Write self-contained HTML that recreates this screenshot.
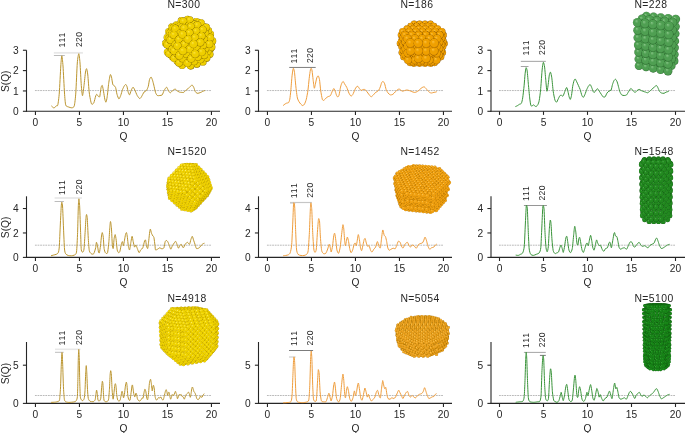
<!DOCTYPE html>
<html><head><meta charset="utf-8"><style>
html,body{margin:0;padding:0;background:#fff;}
body{width:685px;height:433px;overflow:hidden;}
svg{display:block;will-change:transform;}
.tl{font-family:"Liberation Sans",sans-serif;font-size:10.2px;fill:#262626;}
.tt{font-family:"Liberation Sans",sans-serif;font-size:10.4px;fill:#262626;letter-spacing:0.45px;}
.pl{font-family:"Liberation Sans",sans-serif;font-size:8.6px;fill:#2a2a2a;letter-spacing:0.3px;}
</style></head><body>
<svg width="685" height="433" viewBox="0 0 685 433" xmlns="http://www.w3.org/2000/svg">
<defs>
<radialGradient id="gy1" cx="0.5" cy="0.5" r="0.5" fx="0.36" fy="0.32"><stop offset="0" stop-color="#fbe440"/><stop offset="0.4" stop-color="#efcf00"/><stop offset="0.8" stop-color="#efcf00"/><stop offset="0.93" stop-color="#cfb000"/><stop offset="1" stop-color="#8e7400"/></radialGradient>
<radialGradient id="go1" cx="0.5" cy="0.5" r="0.5" fx="0.36" fy="0.32"><stop offset="0" stop-color="#fcbf3c"/><stop offset="0.4" stop-color="#efa000"/><stop offset="0.8" stop-color="#efa000"/><stop offset="0.93" stop-color="#cf8400"/><stop offset="1" stop-color="#8e5800"/></radialGradient>
<radialGradient id="gg1" cx="0.5" cy="0.5" r="0.5" fx="0.36" fy="0.32"><stop offset="0" stop-color="#86c486"/><stop offset="0.4" stop-color="#4f9f52"/><stop offset="0.8" stop-color="#4f9f52"/><stop offset="0.93" stop-color="#3f8a42"/><stop offset="1" stop-color="#27602a"/></radialGradient>
<radialGradient id="gy2" cx="0.5" cy="0.5" r="0.5" fx="0.36" fy="0.32"><stop offset="0" stop-color="#fdf070"/><stop offset="0.4" stop-color="#f0d200"/><stop offset="0.8" stop-color="#f0d200"/><stop offset="0.93" stop-color="#dcbe00"/><stop offset="1" stop-color="#b09200"/></radialGradient>
<radialGradient id="go2" cx="0.5" cy="0.5" r="0.5" fx="0.36" fy="0.32"><stop offset="0" stop-color="#fcc450"/><stop offset="0.4" stop-color="#f0a010"/><stop offset="0.8" stop-color="#f0a010"/><stop offset="0.93" stop-color="#d88a00"/><stop offset="1" stop-color="#a86c00"/></radialGradient>
<radialGradient id="gg2" cx="0.5" cy="0.5" r="0.5" fx="0.36" fy="0.32"><stop offset="0" stop-color="#4aa84a"/><stop offset="0.4" stop-color="#22891f"/><stop offset="0.8" stop-color="#22891f"/><stop offset="0.93" stop-color="#1a781a"/><stop offset="1" stop-color="#125a12"/></radialGradient>
<radialGradient id="gy3" cx="0.5" cy="0.5" r="0.5" fx="0.36" fy="0.32"><stop offset="0" stop-color="#fcec60"/><stop offset="0.4" stop-color="#f0d400"/><stop offset="0.8" stop-color="#f0d400"/><stop offset="0.93" stop-color="#dcbe00"/><stop offset="1" stop-color="#b29400"/></radialGradient>
<radialGradient id="go3" cx="0.5" cy="0.5" r="0.5" fx="0.36" fy="0.32"><stop offset="0" stop-color="#fac450"/><stop offset="0.4" stop-color="#eca220"/><stop offset="0.8" stop-color="#eca220"/><stop offset="0.93" stop-color="#d48a00"/><stop offset="1" stop-color="#a66e00"/></radialGradient>
<radialGradient id="gg3" cx="0.5" cy="0.5" r="0.5" fx="0.36" fy="0.32"><stop offset="0" stop-color="#35a035"/><stop offset="0.4" stop-color="#178517"/><stop offset="0.8" stop-color="#178517"/><stop offset="0.93" stop-color="#127412"/><stop offset="1" stop-color="#0b560b"/></radialGradient>
<style>.y1{fill:url(#gy1);}.o1{fill:url(#go1);}.g1{fill:url(#gg1);}.y2{fill:url(#gy2);}.o2{fill:url(#go2);}.g2{fill:url(#gg2);}.y3{fill:url(#gy3);}.o3{fill:url(#go3);}.g3{fill:url(#gg3);}</style>
</defs>
<rect width="685" height="433" fill="#fff"/>
<line x1="26.5" y1="50.25" x2="26.5" y2="111.75" stroke="#262626" stroke-width="1.1"/>
<line x1="26.00" y1="111.3" x2="220.0" y2="111.3" stroke="#262626" stroke-width="1.1"/>
<line x1="22.90" y1="111.30" x2="26.5" y2="111.30" stroke="#262626" stroke-width="1.1"/>
<text x="18.70" y="114.90" class="tl" text-anchor="end">0</text>
<line x1="22.90" y1="90.95" x2="26.5" y2="90.95" stroke="#262626" stroke-width="1.1"/>
<text x="18.70" y="94.55" class="tl" text-anchor="end">1</text>
<line x1="22.90" y1="70.60" x2="26.5" y2="70.60" stroke="#262626" stroke-width="1.1"/>
<text x="18.70" y="74.20" class="tl" text-anchor="end">2</text>
<line x1="22.90" y1="50.25" x2="26.5" y2="50.25" stroke="#262626" stroke-width="1.1"/>
<text x="18.70" y="53.85" class="tl" text-anchor="end">3</text>
<line x1="35.45" y1="111.3" x2="35.45" y2="114.90" stroke="#262626" stroke-width="1.1"/>
<text x="35.45" y="125.90" class="tl" text-anchor="middle">0</text>
<line x1="79.45" y1="111.3" x2="79.45" y2="114.90" stroke="#262626" stroke-width="1.1"/>
<text x="79.45" y="125.90" class="tl" text-anchor="middle">5</text>
<line x1="123.45" y1="111.3" x2="123.45" y2="114.90" stroke="#262626" stroke-width="1.1"/>
<text x="123.45" y="125.90" class="tl" text-anchor="middle">10</text>
<line x1="167.45" y1="111.3" x2="167.45" y2="114.90" stroke="#262626" stroke-width="1.1"/>
<text x="167.45" y="125.90" class="tl" text-anchor="middle">15</text>
<line x1="211.45" y1="111.3" x2="211.45" y2="114.90" stroke="#262626" stroke-width="1.1"/>
<text x="211.45" y="125.90" class="tl" text-anchor="middle">20</text>
<text x="123.45" y="139.80" class="tl" text-anchor="middle">Q</text>
<text x="8.70" y="81.30" class="tl" text-anchor="middle" transform="rotate(-90 8.70 81.30)">S(Q)</text>
<line x1="34.95" y1="90.55" x2="211.45" y2="90.55" stroke="#bababa" stroke-width="1.0" stroke-dasharray="1.8 0.8"/>
<text x="167.4" y="8.2" class="tt">N=300</text>
<line x1="258.5" y1="50.25" x2="258.5" y2="111.75" stroke="#262626" stroke-width="1.1"/>
<line x1="258.00" y1="111.3" x2="452.0" y2="111.3" stroke="#262626" stroke-width="1.1"/>
<line x1="254.90" y1="111.30" x2="258.5" y2="111.30" stroke="#262626" stroke-width="1.1"/>
<text x="250.70" y="114.90" class="tl" text-anchor="end">0</text>
<line x1="254.90" y1="90.95" x2="258.5" y2="90.95" stroke="#262626" stroke-width="1.1"/>
<text x="250.70" y="94.55" class="tl" text-anchor="end">1</text>
<line x1="254.90" y1="70.60" x2="258.5" y2="70.60" stroke="#262626" stroke-width="1.1"/>
<text x="250.70" y="74.20" class="tl" text-anchor="end">2</text>
<line x1="254.90" y1="50.25" x2="258.5" y2="50.25" stroke="#262626" stroke-width="1.1"/>
<text x="250.70" y="53.85" class="tl" text-anchor="end">3</text>
<line x1="267.45" y1="111.3" x2="267.45" y2="114.90" stroke="#262626" stroke-width="1.1"/>
<text x="267.45" y="125.90" class="tl" text-anchor="middle">0</text>
<line x1="311.45" y1="111.3" x2="311.45" y2="114.90" stroke="#262626" stroke-width="1.1"/>
<text x="311.45" y="125.90" class="tl" text-anchor="middle">5</text>
<line x1="355.45" y1="111.3" x2="355.45" y2="114.90" stroke="#262626" stroke-width="1.1"/>
<text x="355.45" y="125.90" class="tl" text-anchor="middle">10</text>
<line x1="399.45" y1="111.3" x2="399.45" y2="114.90" stroke="#262626" stroke-width="1.1"/>
<text x="399.45" y="125.90" class="tl" text-anchor="middle">15</text>
<line x1="443.45" y1="111.3" x2="443.45" y2="114.90" stroke="#262626" stroke-width="1.1"/>
<text x="443.45" y="125.90" class="tl" text-anchor="middle">20</text>
<text x="355.45" y="139.80" class="tl" text-anchor="middle">Q</text>
<line x1="266.95" y1="90.55" x2="443.45" y2="90.55" stroke="#bababa" stroke-width="1.0" stroke-dasharray="1.8 0.8"/>
<text x="400.4" y="8.2" class="tt">N=186</text>
<line x1="491.0" y1="50.25" x2="491.0" y2="111.75" stroke="#262626" stroke-width="1.1"/>
<line x1="490.50" y1="111.3" x2="685.0" y2="111.3" stroke="#262626" stroke-width="1.1"/>
<line x1="487.40" y1="111.30" x2="491.0" y2="111.30" stroke="#262626" stroke-width="1.1"/>
<text x="483.20" y="114.90" class="tl" text-anchor="end">0</text>
<line x1="487.40" y1="90.95" x2="491.0" y2="90.95" stroke="#262626" stroke-width="1.1"/>
<text x="483.20" y="94.55" class="tl" text-anchor="end">1</text>
<line x1="487.40" y1="70.60" x2="491.0" y2="70.60" stroke="#262626" stroke-width="1.1"/>
<text x="483.20" y="74.20" class="tl" text-anchor="end">2</text>
<line x1="487.40" y1="50.25" x2="491.0" y2="50.25" stroke="#262626" stroke-width="1.1"/>
<text x="483.20" y="53.85" class="tl" text-anchor="end">3</text>
<line x1="499.50" y1="111.3" x2="499.50" y2="114.90" stroke="#262626" stroke-width="1.1"/>
<text x="499.50" y="125.90" class="tl" text-anchor="middle">0</text>
<line x1="543.50" y1="111.3" x2="543.50" y2="114.90" stroke="#262626" stroke-width="1.1"/>
<text x="543.50" y="125.90" class="tl" text-anchor="middle">5</text>
<line x1="587.50" y1="111.3" x2="587.50" y2="114.90" stroke="#262626" stroke-width="1.1"/>
<text x="587.50" y="125.90" class="tl" text-anchor="middle">10</text>
<line x1="631.50" y1="111.3" x2="631.50" y2="114.90" stroke="#262626" stroke-width="1.1"/>
<text x="631.50" y="125.90" class="tl" text-anchor="middle">15</text>
<line x1="675.50" y1="111.3" x2="675.50" y2="114.90" stroke="#262626" stroke-width="1.1"/>
<text x="675.50" y="125.90" class="tl" text-anchor="middle">20</text>
<text x="587.50" y="139.80" class="tl" text-anchor="middle">Q</text>
<line x1="499.00" y1="90.55" x2="675.50" y2="90.55" stroke="#bababa" stroke-width="1.0" stroke-dasharray="1.8 0.8"/>
<text x="634.4" y="8.2" class="tt">N=228</text>
<line x1="26.5" y1="196.30" x2="26.5" y2="257.85" stroke="#262626" stroke-width="1.1"/>
<line x1="26.00" y1="257.4" x2="220.0" y2="257.4" stroke="#262626" stroke-width="1.1"/>
<line x1="22.90" y1="257.40" x2="26.5" y2="257.40" stroke="#262626" stroke-width="1.1"/>
<text x="18.70" y="261.00" class="tl" text-anchor="end">0</text>
<line x1="22.90" y1="232.96" x2="26.5" y2="232.96" stroke="#262626" stroke-width="1.1"/>
<text x="18.70" y="236.56" class="tl" text-anchor="end">2</text>
<line x1="22.90" y1="208.52" x2="26.5" y2="208.52" stroke="#262626" stroke-width="1.1"/>
<text x="18.70" y="212.12" class="tl" text-anchor="end">4</text>
<line x1="35.45" y1="257.4" x2="35.45" y2="261.00" stroke="#262626" stroke-width="1.1"/>
<text x="35.45" y="272.00" class="tl" text-anchor="middle">0</text>
<line x1="79.45" y1="257.4" x2="79.45" y2="261.00" stroke="#262626" stroke-width="1.1"/>
<text x="79.45" y="272.00" class="tl" text-anchor="middle">5</text>
<line x1="123.45" y1="257.4" x2="123.45" y2="261.00" stroke="#262626" stroke-width="1.1"/>
<text x="123.45" y="272.00" class="tl" text-anchor="middle">10</text>
<line x1="167.45" y1="257.4" x2="167.45" y2="261.00" stroke="#262626" stroke-width="1.1"/>
<text x="167.45" y="272.00" class="tl" text-anchor="middle">15</text>
<line x1="211.45" y1="257.4" x2="211.45" y2="261.00" stroke="#262626" stroke-width="1.1"/>
<text x="211.45" y="272.00" class="tl" text-anchor="middle">20</text>
<text x="123.45" y="285.90" class="tl" text-anchor="middle">Q</text>
<text x="8.70" y="227.40" class="tl" text-anchor="middle" transform="rotate(-90 8.70 227.40)">S(Q)</text>
<line x1="34.95" y1="245.20" x2="211.45" y2="245.20" stroke="#bababa" stroke-width="1.0" stroke-dasharray="1.8 0.8"/>
<text x="167.4" y="154.8" class="tt">N=1520</text>
<line x1="258.5" y1="196.30" x2="258.5" y2="257.85" stroke="#262626" stroke-width="1.1"/>
<line x1="258.00" y1="257.4" x2="452.0" y2="257.4" stroke="#262626" stroke-width="1.1"/>
<line x1="254.90" y1="257.40" x2="258.5" y2="257.40" stroke="#262626" stroke-width="1.1"/>
<text x="250.70" y="261.00" class="tl" text-anchor="end">0</text>
<line x1="254.90" y1="232.96" x2="258.5" y2="232.96" stroke="#262626" stroke-width="1.1"/>
<text x="250.70" y="236.56" class="tl" text-anchor="end">2</text>
<line x1="254.90" y1="208.52" x2="258.5" y2="208.52" stroke="#262626" stroke-width="1.1"/>
<text x="250.70" y="212.12" class="tl" text-anchor="end">4</text>
<line x1="267.45" y1="257.4" x2="267.45" y2="261.00" stroke="#262626" stroke-width="1.1"/>
<text x="267.45" y="272.00" class="tl" text-anchor="middle">0</text>
<line x1="311.45" y1="257.4" x2="311.45" y2="261.00" stroke="#262626" stroke-width="1.1"/>
<text x="311.45" y="272.00" class="tl" text-anchor="middle">5</text>
<line x1="355.45" y1="257.4" x2="355.45" y2="261.00" stroke="#262626" stroke-width="1.1"/>
<text x="355.45" y="272.00" class="tl" text-anchor="middle">10</text>
<line x1="399.45" y1="257.4" x2="399.45" y2="261.00" stroke="#262626" stroke-width="1.1"/>
<text x="399.45" y="272.00" class="tl" text-anchor="middle">15</text>
<line x1="443.45" y1="257.4" x2="443.45" y2="261.00" stroke="#262626" stroke-width="1.1"/>
<text x="443.45" y="272.00" class="tl" text-anchor="middle">20</text>
<text x="355.45" y="285.90" class="tl" text-anchor="middle">Q</text>
<line x1="266.95" y1="245.20" x2="443.45" y2="245.20" stroke="#bababa" stroke-width="1.0" stroke-dasharray="1.8 0.8"/>
<text x="400.4" y="154.8" class="tt">N=1452</text>
<line x1="491.0" y1="196.30" x2="491.0" y2="257.85" stroke="#262626" stroke-width="1.1"/>
<line x1="490.50" y1="257.4" x2="685.0" y2="257.4" stroke="#262626" stroke-width="1.1"/>
<line x1="487.40" y1="257.40" x2="491.0" y2="257.40" stroke="#262626" stroke-width="1.1"/>
<text x="483.20" y="261.00" class="tl" text-anchor="end">0</text>
<line x1="487.40" y1="232.96" x2="491.0" y2="232.96" stroke="#262626" stroke-width="1.1"/>
<text x="483.20" y="236.56" class="tl" text-anchor="end">2</text>
<line x1="487.40" y1="208.52" x2="491.0" y2="208.52" stroke="#262626" stroke-width="1.1"/>
<text x="483.20" y="212.12" class="tl" text-anchor="end">4</text>
<line x1="499.50" y1="257.4" x2="499.50" y2="261.00" stroke="#262626" stroke-width="1.1"/>
<text x="499.50" y="272.00" class="tl" text-anchor="middle">0</text>
<line x1="543.50" y1="257.4" x2="543.50" y2="261.00" stroke="#262626" stroke-width="1.1"/>
<text x="543.50" y="272.00" class="tl" text-anchor="middle">5</text>
<line x1="587.50" y1="257.4" x2="587.50" y2="261.00" stroke="#262626" stroke-width="1.1"/>
<text x="587.50" y="272.00" class="tl" text-anchor="middle">10</text>
<line x1="631.50" y1="257.4" x2="631.50" y2="261.00" stroke="#262626" stroke-width="1.1"/>
<text x="631.50" y="272.00" class="tl" text-anchor="middle">15</text>
<line x1="675.50" y1="257.4" x2="675.50" y2="261.00" stroke="#262626" stroke-width="1.1"/>
<text x="675.50" y="272.00" class="tl" text-anchor="middle">20</text>
<text x="587.50" y="285.90" class="tl" text-anchor="middle">Q</text>
<line x1="499.00" y1="245.20" x2="675.50" y2="245.20" stroke="#bababa" stroke-width="1.0" stroke-dasharray="1.8 0.8"/>
<text x="634.4" y="154.8" class="tt">N=1548</text>
<line x1="26.5" y1="341.97" x2="26.5" y2="403.85" stroke="#262626" stroke-width="1.1"/>
<line x1="26.00" y1="403.4" x2="220.0" y2="403.4" stroke="#262626" stroke-width="1.1"/>
<line x1="22.90" y1="403.40" x2="26.5" y2="403.40" stroke="#262626" stroke-width="1.1"/>
<text x="18.70" y="407.00" class="tl" text-anchor="end">0</text>
<line x1="22.90" y1="365.20" x2="26.5" y2="365.20" stroke="#262626" stroke-width="1.1"/>
<text x="18.70" y="368.80" class="tl" text-anchor="end">5</text>
<line x1="35.45" y1="403.4" x2="35.45" y2="407.00" stroke="#262626" stroke-width="1.1"/>
<text x="35.45" y="418.00" class="tl" text-anchor="middle">0</text>
<line x1="79.45" y1="403.4" x2="79.45" y2="407.00" stroke="#262626" stroke-width="1.1"/>
<text x="79.45" y="418.00" class="tl" text-anchor="middle">5</text>
<line x1="123.45" y1="403.4" x2="123.45" y2="407.00" stroke="#262626" stroke-width="1.1"/>
<text x="123.45" y="418.00" class="tl" text-anchor="middle">10</text>
<line x1="167.45" y1="403.4" x2="167.45" y2="407.00" stroke="#262626" stroke-width="1.1"/>
<text x="167.45" y="418.00" class="tl" text-anchor="middle">15</text>
<line x1="211.45" y1="403.4" x2="211.45" y2="407.00" stroke="#262626" stroke-width="1.1"/>
<text x="211.45" y="418.00" class="tl" text-anchor="middle">20</text>
<text x="123.45" y="431.90" class="tl" text-anchor="middle">Q</text>
<text x="8.70" y="373.60" class="tl" text-anchor="middle" transform="rotate(-90 8.70 373.60)">S(Q)</text>
<line x1="34.95" y1="395.50" x2="211.45" y2="395.50" stroke="#bababa" stroke-width="1.0" stroke-dasharray="1.8 0.8"/>
<text x="167.4" y="301.5" class="tt">N=4918</text>
<line x1="258.5" y1="341.97" x2="258.5" y2="403.85" stroke="#262626" stroke-width="1.1"/>
<line x1="258.00" y1="403.4" x2="452.0" y2="403.4" stroke="#262626" stroke-width="1.1"/>
<line x1="254.90" y1="403.40" x2="258.5" y2="403.40" stroke="#262626" stroke-width="1.1"/>
<text x="250.70" y="407.00" class="tl" text-anchor="end">0</text>
<line x1="254.90" y1="365.20" x2="258.5" y2="365.20" stroke="#262626" stroke-width="1.1"/>
<text x="250.70" y="368.80" class="tl" text-anchor="end">5</text>
<line x1="267.45" y1="403.4" x2="267.45" y2="407.00" stroke="#262626" stroke-width="1.1"/>
<text x="267.45" y="418.00" class="tl" text-anchor="middle">0</text>
<line x1="311.45" y1="403.4" x2="311.45" y2="407.00" stroke="#262626" stroke-width="1.1"/>
<text x="311.45" y="418.00" class="tl" text-anchor="middle">5</text>
<line x1="355.45" y1="403.4" x2="355.45" y2="407.00" stroke="#262626" stroke-width="1.1"/>
<text x="355.45" y="418.00" class="tl" text-anchor="middle">10</text>
<line x1="399.45" y1="403.4" x2="399.45" y2="407.00" stroke="#262626" stroke-width="1.1"/>
<text x="399.45" y="418.00" class="tl" text-anchor="middle">15</text>
<line x1="443.45" y1="403.4" x2="443.45" y2="407.00" stroke="#262626" stroke-width="1.1"/>
<text x="443.45" y="418.00" class="tl" text-anchor="middle">20</text>
<text x="355.45" y="431.90" class="tl" text-anchor="middle">Q</text>
<line x1="266.95" y1="395.50" x2="443.45" y2="395.50" stroke="#bababa" stroke-width="1.0" stroke-dasharray="1.8 0.8"/>
<text x="400.4" y="301.5" class="tt">N=5054</text>
<line x1="491.0" y1="341.97" x2="491.0" y2="403.85" stroke="#262626" stroke-width="1.1"/>
<line x1="490.50" y1="403.4" x2="685.0" y2="403.4" stroke="#262626" stroke-width="1.1"/>
<line x1="487.40" y1="403.40" x2="491.0" y2="403.40" stroke="#262626" stroke-width="1.1"/>
<text x="483.20" y="407.00" class="tl" text-anchor="end">0</text>
<line x1="487.40" y1="365.20" x2="491.0" y2="365.20" stroke="#262626" stroke-width="1.1"/>
<text x="483.20" y="368.80" class="tl" text-anchor="end">5</text>
<line x1="499.50" y1="403.4" x2="499.50" y2="407.00" stroke="#262626" stroke-width="1.1"/>
<text x="499.50" y="418.00" class="tl" text-anchor="middle">0</text>
<line x1="543.50" y1="403.4" x2="543.50" y2="407.00" stroke="#262626" stroke-width="1.1"/>
<text x="543.50" y="418.00" class="tl" text-anchor="middle">5</text>
<line x1="587.50" y1="403.4" x2="587.50" y2="407.00" stroke="#262626" stroke-width="1.1"/>
<text x="587.50" y="418.00" class="tl" text-anchor="middle">10</text>
<line x1="631.50" y1="403.4" x2="631.50" y2="407.00" stroke="#262626" stroke-width="1.1"/>
<text x="631.50" y="418.00" class="tl" text-anchor="middle">15</text>
<line x1="675.50" y1="403.4" x2="675.50" y2="407.00" stroke="#262626" stroke-width="1.1"/>
<text x="675.50" y="418.00" class="tl" text-anchor="middle">20</text>
<text x="587.50" y="431.90" class="tl" text-anchor="middle">Q</text>
<line x1="499.00" y1="395.50" x2="675.50" y2="395.50" stroke="#bababa" stroke-width="1.0" stroke-dasharray="1.8 0.8"/>
<text x="634.4" y="301.5" class="tt">N=5100</text>
<line x1="53.8" y1="52.85" x2="82.9" y2="52.85" stroke="#e8e8e8" stroke-width="1.8"/>
<line x1="53.9" y1="55.5" x2="64.8" y2="55.5" stroke="#bcbcbc" stroke-width="1.0"/>
<line x1="289.2" y1="67.45" x2="315.7" y2="67.45" stroke="#868686" stroke-width="1.05"/>
<line x1="520.8" y1="61.4" x2="545.8" y2="61.4" stroke="#b0b0b0" stroke-width="1.15"/>
<line x1="520.8" y1="66.5" x2="528.5" y2="66.5" stroke="#a4a4a4" stroke-width="1.0"/>
<line x1="54.6" y1="198.0" x2="81.9" y2="198.0" stroke="#e8e8e8" stroke-width="1.7"/>
<line x1="54.6" y1="201.5" x2="63.9" y2="201.5" stroke="#bcbcbc" stroke-width="1.0"/>
<line x1="290.0" y1="202.5" x2="311.8" y2="202.5" stroke="#c6c6c6" stroke-width="1.2"/>
<line x1="290.0" y1="203.2" x2="295.5" y2="203.2" stroke="#d2d2d2" stroke-width="1.0"/>
<line x1="523.9" y1="205.5" x2="546.9" y2="205.5" stroke="#969696" stroke-width="1.05"/>
<line x1="55.0" y1="349.3" x2="80.5" y2="349.3" stroke="#e8e8e8" stroke-width="1.6"/>
<line x1="55.0" y1="352.3" x2="63.7" y2="352.3" stroke="#bcbcbc" stroke-width="1.0"/>
<line x1="289.0" y1="350.5" x2="313.1" y2="350.5" stroke="#7c7c7c" stroke-width="1.05"/>
<line x1="289.0" y1="357.0" x2="295.6" y2="357.0" stroke="#d8d8d8" stroke-width="1.5"/>
<line x1="523.9" y1="352.4" x2="545.8" y2="352.4" stroke="#a8a8a8" stroke-width="1.05"/>
<line x1="539.9" y1="355.4" x2="545.8" y2="355.4" stroke="#7c7c7c" stroke-width="1.05"/>
<text x="65.10" y="47.60" class="pl" style="letter-spacing:0.95px" transform="rotate(-90 65.10 47.60)">111</text>
<text x="81.90" y="47.00" class="pl" transform="rotate(-90 81.90 47.00)">220</text>
<text x="297.10" y="63.60" class="pl" style="letter-spacing:0.95px" transform="rotate(-90 297.10 63.60)">111</text>
<text x="313.20" y="63.00" class="pl" transform="rotate(-90 313.20 63.00)">220</text>
<text x="528.80" y="55.50" class="pl" style="letter-spacing:0.95px" transform="rotate(-90 528.80 55.50)">111</text>
<text x="544.80" y="54.90" class="pl" transform="rotate(-90 544.80 54.90)">220</text>
<text x="65.50" y="195.10" class="pl" style="letter-spacing:0.95px" transform="rotate(-90 65.50 195.10)">111</text>
<text x="81.70" y="194.50" class="pl" transform="rotate(-90 81.70 194.50)">220</text>
<text x="296.80" y="198.30" class="pl" style="letter-spacing:0.95px" transform="rotate(-90 296.80 198.30)">111</text>
<text x="312.60" y="197.70" class="pl" transform="rotate(-90 312.60 197.70)">220</text>
<text x="528.80" y="201.10" class="pl" style="letter-spacing:0.95px" transform="rotate(-90 528.80 201.10)">111</text>
<text x="544.80" y="200.50" class="pl" transform="rotate(-90 544.80 200.50)">220</text>
<text x="65.40" y="345.60" class="pl" style="letter-spacing:0.95px" transform="rotate(-90 65.40 345.60)">111</text>
<text x="81.80" y="345.00" class="pl" transform="rotate(-90 81.80 345.00)">220</text>
<text x="296.80" y="346.00" class="pl" style="letter-spacing:0.95px" transform="rotate(-90 296.80 346.00)">111</text>
<text x="312.80" y="345.40" class="pl" transform="rotate(-90 312.80 345.40)">220</text>
<text x="528.80" y="347.90" class="pl" style="letter-spacing:0.95px" transform="rotate(-90 528.80 347.90)">111</text>
<text x="544.80" y="347.30" class="pl" transform="rotate(-90 544.80 347.30)">220</text>
<path d="M51.30,105.80 C51.61,106.06 53.42,108.00 54.00,108.00 C54.58,108.00 55.86,106.15 56.30,105.80 C56.74,105.45 57.45,106.49 57.80,105.00 C58.15,103.51 58.95,97.55 59.30,93.00 C59.65,88.45 60.51,70.34 60.80,66.00 C61.09,61.66 61.54,55.80 61.80,55.80 C62.06,55.80 62.69,61.66 63.00,66.00 C63.31,70.34 64.19,88.45 64.50,93.00 C64.81,97.55 65.26,103.38 65.70,105.00 C66.14,106.62 67.56,106.57 68.30,106.90 C69.03,107.23 71.30,107.93 72.00,107.80 C72.70,107.67 73.86,107.53 74.30,105.80 C74.74,104.07 75.45,97.99 75.80,93.00 C76.15,88.01 76.95,67.58 77.30,63.00 C77.65,58.41 78.48,53.70 78.80,53.70 C79.11,53.70 79.71,59.29 80.00,63.00 C80.29,66.71 81.01,81.69 81.30,85.50 C81.59,89.31 82.19,95.70 82.50,95.70 C82.81,95.70 83.65,88.27 84.00,85.50 C84.35,82.73 85.20,73.96 85.50,72.00 C85.80,70.04 86.33,68.35 86.60,68.70 C86.87,69.05 87.48,72.17 87.80,75.00 C88.11,77.83 88.87,89.63 89.30,93.00 C89.73,96.37 90.97,102.76 91.50,103.90 C92.03,105.04 93.31,103.72 93.80,102.80 C94.29,101.88 95.35,96.99 95.70,96.00 C96.05,95.01 96.52,94.29 96.80,94.30 C97.08,94.31 97.76,95.82 98.10,96.10 C98.44,96.38 99.35,97.70 99.70,96.70 C100.05,95.70 100.80,88.81 101.10,87.50 C101.40,86.19 102.01,85.00 102.30,85.50 C102.59,86.00 103.31,90.20 103.60,91.80 C103.89,93.40 104.52,97.99 104.80,99.20 C105.08,100.41 105.72,102.49 106.00,102.20 C106.28,101.91 106.89,98.91 107.20,96.70 C107.52,94.50 108.34,85.87 108.70,83.30 C109.06,80.73 109.97,75.42 110.30,74.70 C110.63,73.98 111.21,75.96 111.50,77.10 C111.79,78.24 112.51,83.52 112.80,84.50 C113.09,85.48 113.67,85.15 114.00,85.50 C114.33,85.85 115.25,86.47 115.60,87.50 C115.95,88.53 116.61,92.97 117.00,94.30 C117.39,95.63 118.47,98.76 118.90,98.90 C119.33,99.04 120.27,96.61 120.70,95.50 C121.13,94.39 122.17,90.54 122.60,89.40 C123.03,88.26 124.02,86.27 124.40,85.70 C124.79,85.13 125.59,84.36 125.90,84.50 C126.22,84.64 126.84,86.05 127.10,86.90 C127.36,87.75 127.82,90.87 128.10,91.80 C128.38,92.73 129.15,95.04 129.50,94.90 C129.85,94.76 130.69,91.50 131.10,90.60 C131.51,89.70 132.57,87.27 133.00,87.20 C133.43,87.13 134.31,89.03 134.80,90.00 C135.29,90.97 136.63,94.50 137.20,95.50 C137.77,96.50 139.20,98.46 139.70,98.60 C140.20,98.74 141.00,97.46 141.50,96.70 C142.00,95.94 143.43,92.81 144.00,92.10 C144.57,91.39 145.90,91.28 146.40,90.60 C146.90,89.92 147.94,87.58 148.30,86.30 C148.66,85.02 149.17,80.67 149.50,79.60 C149.83,78.53 150.75,77.03 151.10,77.10 C151.45,77.17 152.19,79.27 152.50,80.20 C152.81,81.13 153.45,83.68 153.80,85.10 C154.15,86.52 155.09,91.19 155.50,92.40 C155.91,93.61 156.80,95.14 157.30,95.50 C157.80,95.86 159.23,95.57 159.80,95.50 C160.37,95.43 161.70,95.47 162.20,94.90 C162.70,94.33 163.60,91.50 164.10,90.60 C164.60,89.70 166.00,87.20 166.50,87.20 C167.00,87.20 167.97,89.95 168.40,90.60 C168.83,91.25 169.71,92.80 170.20,92.80 C170.69,92.80 172.03,91.03 172.60,90.60 C173.17,90.17 174.60,89.10 175.10,89.10 C175.60,89.10 176.40,90.25 176.90,90.60 C177.40,90.95 178.83,91.89 179.40,92.10 C179.97,92.31 181.30,92.37 181.80,92.40 C182.30,92.44 183.27,92.61 183.70,92.40 C184.13,92.19 185.01,91.02 185.50,90.60 C185.99,90.18 187.33,89.30 187.90,88.80 C188.47,88.30 189.90,86.73 190.40,86.30 C190.90,85.87 191.80,84.96 192.20,85.10 C192.60,85.24 193.44,86.74 193.80,87.50 C194.16,88.26 194.92,90.92 195.30,91.60 C195.69,92.28 196.67,93.14 197.10,93.30 C197.53,93.46 198.50,93.14 199.00,93.00 C199.50,92.86 200.83,92.36 201.40,92.10 C201.97,91.84 203.47,90.97 203.90,90.80 C204.33,90.62 204.96,90.62 205.10,90.60" fill="none" stroke="#bb952f" stroke-width="1.0" stroke-linejoin="round"/>
<path d="M283.10,105.60 C283.31,105.42 284.48,104.39 284.90,104.10 C285.32,103.81 286.27,103.27 286.70,103.10 C287.13,102.92 288.24,103.05 288.60,102.60 C288.96,102.14 289.54,100.60 289.80,99.20 C290.06,97.80 290.56,93.17 290.80,90.60 C291.05,88.03 291.65,79.63 291.90,77.20 C292.14,74.77 292.71,70.84 292.90,69.80 C293.09,68.76 293.31,68.01 293.50,68.30 C293.69,68.59 294.29,70.84 294.50,72.30 C294.71,73.76 295.09,78.66 295.30,80.80 C295.51,82.94 296.06,88.59 296.30,90.60 C296.55,92.61 297.08,96.70 297.40,98.00 C297.71,99.30 298.60,100.99 299.00,101.70 C299.40,102.41 300.37,103.64 300.80,104.10 C301.23,104.55 302.27,105.60 302.70,105.60 C303.13,105.60 304.08,104.85 304.50,104.10 C304.92,103.35 305.90,100.78 306.30,99.20 C306.70,97.62 307.56,93.03 307.90,90.60 C308.24,88.17 308.91,80.83 309.20,78.40 C309.49,75.97 310.15,70.98 310.40,69.80 C310.64,68.62 311.10,68.16 311.30,68.30 C311.50,68.44 311.89,69.68 312.10,71.00 C312.31,72.32 312.84,77.59 313.10,79.60 C313.36,81.61 314.04,87.63 314.30,88.20 C314.56,88.77 315.01,85.71 315.30,84.50 C315.59,83.29 316.46,78.80 316.80,77.80 C317.14,76.80 317.88,75.69 318.20,75.90 C318.51,76.11 319.21,77.88 319.50,79.60 C319.79,81.31 320.37,88.31 320.70,90.60 C321.03,92.89 321.97,98.06 322.30,99.20 C322.63,100.34 323.15,100.42 323.50,100.40 C323.85,100.38 324.92,99.36 325.30,99.00 C325.69,98.64 326.40,97.60 326.80,97.30 C327.20,97.00 328.27,96.61 328.70,96.40 C329.13,96.19 330.08,96.11 330.50,95.50 C330.92,94.89 331.90,92.02 332.30,91.20 C332.70,90.38 333.54,88.43 333.90,88.50 C334.26,88.57 335.08,90.98 335.40,91.80 C335.71,92.62 336.31,94.89 336.60,95.50 C336.89,96.11 337.61,97.07 337.90,97.00 C338.19,96.93 338.82,95.93 339.10,94.90 C339.38,93.87 340.02,89.48 340.30,88.20 C340.58,86.92 341.17,84.69 341.50,83.90 C341.83,83.11 342.74,81.40 343.10,81.40 C343.46,81.40 344.17,83.19 344.60,83.90 C345.03,84.61 346.30,86.44 346.80,87.50 C347.30,88.56 348.41,92.00 348.90,93.00 C349.39,94.00 350.53,95.95 351.00,96.10 C351.47,96.25 352.43,95.08 352.90,94.30 C353.37,93.52 354.62,90.23 355.00,89.40 C355.38,88.57 355.87,87.56 356.20,87.20 C356.53,86.84 357.44,86.16 357.80,86.30 C358.16,86.44 358.92,87.92 359.30,88.40 C359.69,88.88 360.67,90.26 361.10,90.40 C361.53,90.54 362.62,89.72 363.00,89.60 C363.38,89.48 364.05,89.28 364.40,89.40 C364.75,89.52 365.59,90.18 366.00,90.60 C366.41,91.02 367.47,92.43 367.90,93.00 C368.33,93.57 369.30,95.07 369.70,95.50 C370.10,95.93 370.87,96.77 371.30,96.70 C371.73,96.63 372.94,95.36 373.40,94.90 C373.85,94.45 374.78,93.19 375.20,92.80 C375.62,92.41 376.57,91.93 377.00,91.60 C377.43,91.27 378.51,90.55 378.90,90.00 C379.28,89.45 379.97,87.76 380.30,86.90 C380.63,86.04 381.37,83.24 381.70,82.60 C382.03,81.96 382.75,81.25 383.10,81.40 C383.45,81.55 384.35,82.97 384.70,83.90 C385.05,84.83 385.72,88.34 386.10,89.40 C386.49,90.46 387.50,92.36 388.00,93.00 C388.50,93.64 389.83,94.75 390.40,94.90 C390.97,95.05 392.33,94.66 392.90,94.30 C393.47,93.94 394.74,92.35 395.30,91.80 C395.86,91.25 397.23,89.91 397.70,89.60 C398.17,89.28 398.90,89.01 399.30,89.10 C399.70,89.19 400.72,90.16 401.10,90.40 C401.49,90.65 402.20,91.18 402.60,91.20 C403.00,91.22 404.00,90.74 404.50,90.60 C405.00,90.46 406.33,90.00 406.90,90.00 C407.47,90.00 408.83,90.41 409.40,90.60 C409.97,90.79 411.23,91.39 411.80,91.60 C412.37,91.81 413.80,92.34 414.30,92.40 C414.80,92.46 415.60,92.31 416.10,92.10 C416.60,91.89 418.03,91.03 418.60,90.60 C419.17,90.17 420.51,88.80 421.00,88.40 C421.49,88.00 422.42,87.38 422.80,87.20 C423.19,87.03 423.94,86.76 424.30,86.90 C424.66,87.04 425.50,87.97 425.90,88.40 C426.30,88.83 427.27,90.13 427.70,90.60 C428.13,91.07 429.17,92.12 429.60,92.40 C430.03,92.68 430.90,93.00 431.40,93.00 C431.90,93.00 433.40,92.51 433.90,92.40 C434.40,92.30 435.35,92.19 435.70,92.10 C436.05,92.01 436.76,91.66 436.90,91.60" fill="none" stroke="#ef9d3c" stroke-width="1.0" stroke-linejoin="round"/>
<path d="M515.40,106.60 C515.63,106.49 516.93,105.97 517.40,105.70 C517.87,105.43 518.93,104.58 519.40,104.30 C519.87,104.02 521.01,104.05 521.40,103.30 C521.78,102.55 522.38,99.94 522.70,97.90 C523.02,95.86 523.82,88.61 524.10,85.80 C524.38,82.99 524.87,75.91 525.10,73.80 C525.33,71.69 525.86,68.02 526.10,67.70 C526.35,67.39 526.93,69.14 527.20,71.10 C527.47,73.06 528.11,81.37 528.40,84.50 C528.69,87.63 529.42,95.47 529.70,97.90 C529.98,100.33 530.52,104.37 530.80,105.30 C531.08,106.23 531.78,105.95 532.10,105.90 C532.42,105.85 533.19,104.90 533.50,104.90 C533.81,104.90 534.50,105.70 534.80,105.90 C535.10,106.10 535.74,106.75 536.10,106.60 C536.46,106.45 537.54,105.30 537.90,104.60 C538.26,103.90 538.88,102.31 539.20,100.60 C539.52,98.88 540.29,93.19 540.60,89.90 C540.91,86.61 541.64,75.38 541.90,72.40 C542.16,69.43 542.61,65.57 542.80,64.40 C542.99,63.23 543.29,62.09 543.50,62.40 C543.71,62.71 544.34,65.15 544.60,67.10 C544.86,69.05 545.43,76.29 545.70,79.10 C545.97,81.91 546.61,90.57 546.90,91.20 C547.19,91.83 547.92,86.38 548.20,84.50 C548.48,82.62 549.03,76.53 549.30,75.10 C549.57,73.66 550.21,71.89 550.50,72.20 C550.79,72.52 551.48,75.58 551.80,77.80 C552.12,80.02 552.84,88.62 553.20,91.20 C553.56,93.78 554.50,98.62 554.90,99.90 C555.30,101.18 556.23,102.28 556.60,102.20 C556.97,102.12 557.72,99.96 558.10,99.20 C558.49,98.44 559.51,96.16 559.90,95.70 C560.28,95.25 561.04,95.25 561.40,95.30 C561.76,95.35 562.60,96.53 563.00,96.10 C563.40,95.67 564.38,92.60 564.80,91.60 C565.22,90.60 566.24,87.55 566.60,87.50 C566.96,87.45 567.61,90.13 567.90,91.20 C568.19,92.27 568.82,95.74 569.10,96.70 C569.38,97.66 570.02,99.54 570.30,99.40 C570.58,99.26 571.22,97.03 571.50,95.50 C571.78,93.97 572.41,88.02 572.70,86.30 C572.99,84.58 573.71,81.65 574.00,80.80 C574.29,79.95 574.87,78.86 575.20,79.00 C575.53,79.14 576.41,81.22 576.80,82.00 C577.18,82.78 578.12,84.84 578.50,85.70 C578.88,86.56 579.70,88.26 580.10,89.40 C580.50,90.54 581.51,94.58 581.90,95.50 C582.28,96.42 583.04,97.44 583.40,97.30 C583.76,97.16 584.60,95.22 585.00,94.30 C585.40,93.38 586.37,90.40 586.80,89.40 C587.23,88.40 588.29,86.25 588.70,85.70 C589.11,85.15 589.95,84.49 590.30,84.70 C590.65,84.91 591.36,86.70 591.70,87.50 C592.04,88.30 592.89,91.03 593.20,91.60 C593.51,92.17 594.07,92.59 594.40,92.40 C594.73,92.21 595.63,90.42 596.00,90.00 C596.37,89.58 597.22,88.66 597.60,88.80 C597.99,88.94 598.87,90.56 599.30,91.20 C599.73,91.84 600.83,93.62 601.30,94.30 C601.77,94.98 602.84,96.72 603.30,97.00 C603.75,97.28 604.77,97.17 605.20,96.70 C605.63,96.23 606.57,93.64 607.00,93.00 C607.43,92.36 608.42,91.55 608.90,91.20 C609.38,90.85 610.68,90.78 611.10,90.00 C611.52,89.22 612.16,85.60 612.50,84.50 C612.84,83.40 613.64,81.21 614.00,80.60 C614.36,79.99 615.23,79.14 615.60,79.30 C615.97,79.46 616.84,81.04 617.20,82.00 C617.56,82.96 618.39,86.36 618.70,87.50 C619.01,88.64 619.55,90.94 619.90,91.80 C620.25,92.66 621.20,94.47 621.70,94.90 C622.20,95.33 623.63,95.50 624.20,95.50 C624.77,95.50 626.10,95.33 626.60,94.90 C627.10,94.47 628.00,92.56 628.50,91.80 C629.00,91.04 630.36,88.52 630.90,88.40 C631.44,88.28 632.60,90.33 633.10,90.80 C633.60,91.27 634.75,92.42 635.20,92.40 C635.66,92.38 636.53,90.95 637.00,90.60 C637.47,90.25 638.70,89.40 639.20,89.40 C639.70,89.40 640.76,90.34 641.30,90.60 C641.84,90.86 643.30,91.42 643.80,91.60 C644.30,91.77 645.18,91.96 645.60,92.10 C646.02,92.24 646.97,92.86 647.40,92.80 C647.83,92.74 648.80,92.00 649.30,91.60 C649.80,91.20 651.13,89.91 651.70,89.40 C652.27,88.89 653.65,87.66 654.20,87.20 C654.75,86.75 655.98,85.47 656.40,85.50 C656.82,85.53 657.41,86.79 657.80,87.50 C658.18,88.21 659.27,90.96 659.70,91.60 C660.13,92.24 661.00,92.80 661.50,93.00 C662.00,93.20 663.45,93.41 664.00,93.30 C664.55,93.19 665.75,92.30 666.20,92.10 C666.66,91.90 667.59,91.70 667.90,91.60 C668.21,91.49 668.78,91.25 668.90,91.20" fill="none" stroke="#3a943a" stroke-width="1.0" stroke-linejoin="round"/>
<path d="M51.00,255.80 C51.27,255.72 52.68,255.28 53.30,255.10 C53.92,254.92 55.73,254.57 56.30,254.30 C56.87,254.03 57.85,253.68 58.20,252.80 C58.55,251.93 59.05,250.04 59.30,246.80 C59.54,243.56 60.08,229.64 60.30,225.00 C60.52,220.36 61.03,209.66 61.20,207.00 C61.38,204.34 61.64,202.20 61.80,202.20 C61.96,202.20 62.40,203.99 62.60,207.00 C62.80,210.01 63.28,223.10 63.50,228.00 C63.72,232.90 64.24,245.98 64.50,249.00 C64.76,252.02 65.26,253.14 65.70,253.90 C66.14,254.66 67.65,255.28 68.30,255.50 C68.95,255.72 70.60,255.85 71.30,255.80 C72.00,255.75 73.69,255.53 74.30,255.10 C74.91,254.67 76.11,254.74 76.50,252.10 C76.89,249.46 77.39,237.76 77.60,232.50 C77.81,227.24 78.15,210.93 78.30,207.00 C78.45,203.07 78.74,198.80 78.90,198.80 C79.06,198.80 79.50,203.07 79.70,207.00 C79.90,210.93 80.41,227.51 80.60,232.50 C80.79,237.49 81.04,247.51 81.30,249.80 C81.56,252.09 82.48,252.19 82.80,252.10 C83.11,252.01 83.73,251.29 84.00,249.00 C84.27,246.71 84.87,236.18 85.10,232.50 C85.33,228.82 85.83,219.60 86.00,217.50 C86.17,215.40 86.45,214.32 86.60,214.50 C86.75,214.68 87.11,216.38 87.30,219.00 C87.49,221.62 87.97,233.31 88.20,237.00 C88.43,240.69 88.91,248.63 89.30,250.60 C89.69,252.57 90.97,253.55 91.50,253.90 C92.03,254.25 93.31,254.34 93.80,253.60 C94.29,252.86 95.40,248.92 95.70,247.60 C96.00,246.28 96.19,242.52 96.40,242.30 C96.61,242.08 97.25,244.57 97.50,245.70 C97.75,246.83 98.28,251.18 98.50,252.00 C98.72,252.82 99.17,253.44 99.40,252.70 C99.63,251.96 100.25,247.65 100.50,245.70 C100.75,243.75 101.29,237.53 101.50,236.00 C101.71,234.47 102.09,232.44 102.30,232.60 C102.51,232.76 103.09,235.55 103.30,237.40 C103.51,239.25 103.85,246.72 104.10,248.50 C104.34,250.28 105.00,252.19 105.40,252.70 C105.80,253.21 107.09,254.19 107.50,252.90 C107.91,251.61 108.63,244.54 108.90,241.60 C109.17,238.66 109.61,230.04 109.80,227.70 C109.99,225.35 110.31,221.50 110.50,221.50 C110.69,221.50 111.19,225.04 111.40,227.70 C111.61,230.36 112.09,241.87 112.30,244.30 C112.51,246.73 112.99,249.14 113.20,248.50 C113.41,247.86 113.87,240.42 114.10,238.80 C114.33,237.18 114.95,234.44 115.20,234.60 C115.45,234.76 115.97,238.41 116.20,240.20 C116.43,241.98 116.92,248.44 117.20,249.90 C117.48,251.36 118.28,252.54 118.60,252.70 C118.91,252.86 119.59,252.28 119.90,251.30 C120.22,250.32 121.01,245.43 121.30,244.30 C121.59,243.17 122.16,241.44 122.40,241.60 C122.65,241.76 123.16,245.86 123.40,245.70 C123.65,245.54 124.25,241.49 124.50,240.20 C124.75,238.91 125.27,235.49 125.50,234.60 C125.73,233.71 126.28,232.27 126.50,232.60 C126.72,232.93 127.19,235.87 127.40,237.40 C127.61,238.93 128.04,244.24 128.30,245.70 C128.56,247.16 129.28,250.38 129.60,249.90 C129.91,249.42 130.71,243.19 131.00,241.60 C131.29,240.01 131.84,236.30 132.10,236.30 C132.36,236.30 132.92,240.34 133.20,241.60 C133.48,242.86 134.19,246.70 134.50,247.10 C134.81,247.50 135.57,244.84 135.90,245.00 C136.23,245.16 136.93,247.60 137.30,248.50 C137.67,249.40 138.70,252.54 139.10,252.70 C139.50,252.86 140.27,250.47 140.70,249.90 C141.13,249.33 142.34,248.85 142.80,247.80 C143.26,246.75 144.27,241.79 144.60,240.90 C144.93,240.01 145.38,239.64 145.60,240.20 C145.82,240.76 146.25,244.73 146.50,245.70 C146.75,246.67 147.43,249.14 147.70,248.50 C147.97,247.86 148.57,242.14 148.80,240.20 C149.03,238.26 149.51,233.19 149.70,231.90 C149.89,230.61 150.19,228.94 150.40,229.10 C150.61,229.26 151.21,232.50 151.50,233.30 C151.79,234.11 152.62,235.52 152.90,236.00 C153.18,236.48 153.66,236.27 153.90,237.40 C154.15,238.53 154.81,244.24 155.00,245.70 C155.19,247.16 155.20,249.49 155.50,249.90 C155.80,250.31 157.11,249.44 157.60,249.20 C158.09,248.95 159.21,247.85 159.70,247.80 C160.19,247.75 161.31,248.80 161.80,248.80 C162.29,248.80 163.50,248.64 163.90,247.80 C164.30,246.96 164.91,242.45 165.20,241.60 C165.49,240.75 166.11,240.50 166.40,240.50 C166.69,240.50 167.35,240.99 167.70,241.60 C168.05,242.21 169.04,244.81 169.40,245.70 C169.76,246.59 170.45,249.20 170.80,249.20 C171.15,249.20 172.00,246.42 172.40,245.70 C172.80,244.98 173.83,243.51 174.20,243.00 C174.57,242.49 175.27,241.15 175.60,241.30 C175.93,241.45 176.67,243.50 177.00,244.30 C177.33,245.11 178.07,248.04 178.40,248.20 C178.73,248.36 179.47,246.15 179.80,245.70 C180.13,245.25 180.79,244.06 181.20,244.30 C181.61,244.55 182.82,247.82 183.30,247.80 C183.78,247.78 184.82,244.74 185.30,244.10 C185.78,243.46 186.91,242.28 187.40,242.30 C187.89,242.32 189.09,244.63 189.50,244.30 C189.91,243.97 190.57,240.43 190.90,239.50 C191.23,238.57 191.99,236.22 192.30,236.30 C192.62,236.38 193.28,239.27 193.60,240.20 C193.91,241.13 194.67,243.33 195.00,244.30 C195.33,245.27 195.99,248.05 196.40,248.50 C196.81,248.95 198.09,248.36 198.50,248.20 C198.91,248.04 199.55,247.47 199.90,247.10 C200.25,246.73 201.10,245.41 201.50,245.00 C201.90,244.59 202.95,243.81 203.30,243.60 C203.65,243.39 204.36,243.25 204.50,243.20" fill="none" stroke="#bb952f" stroke-width="1.0" stroke-linejoin="round"/>
<path d="M283.00,255.80 C283.35,255.75 285.38,255.52 286.00,255.40 C286.62,255.28 287.81,255.10 288.30,254.80 C288.79,254.50 289.80,254.00 290.20,252.80 C290.60,251.60 291.40,248.09 291.70,244.50 C292.00,240.91 292.59,226.63 292.80,222.00 C293.01,217.37 293.36,207.04 293.50,204.80 C293.64,202.56 293.86,202.54 294.00,202.80 C294.14,203.06 294.51,203.88 294.70,207.00 C294.89,210.12 295.39,224.60 295.60,229.50 C295.81,234.40 296.22,246.11 296.50,249.00 C296.78,251.89 297.48,253.54 298.00,254.30 C298.52,255.06 300.30,255.36 301.00,255.50 C301.70,255.64 303.33,255.64 304.00,255.50 C304.67,255.36 306.21,254.87 306.70,254.30 C307.19,253.73 307.88,253.14 308.20,250.60 C308.51,248.06 309.15,237.24 309.40,232.50 C309.64,227.76 310.12,213.47 310.30,210.00 C310.48,206.53 310.72,202.80 310.90,202.80 C311.07,202.80 311.59,206.53 311.80,210.00 C312.01,213.47 312.47,227.95 312.70,232.50 C312.93,237.05 313.53,246.68 313.80,249.00 C314.07,251.32 314.71,252.40 315.00,252.40 C315.29,252.40 316.01,251.50 316.30,249.00 C316.59,246.50 317.25,234.41 317.50,231.00 C317.75,227.59 318.24,221.24 318.40,219.80 C318.56,218.37 318.76,218.44 318.90,218.70 C319.04,218.96 319.41,219.69 319.60,222.00 C319.79,224.31 320.25,235.16 320.50,238.50 C320.75,241.84 321.35,248.84 321.70,250.60 C322.05,252.36 323.02,253.28 323.50,253.60 C323.98,253.91 325.31,253.84 325.80,253.30 C326.29,252.76 327.30,250.05 327.70,249.00 C328.10,247.95 328.90,244.44 329.20,244.30 C329.50,244.16 330.07,246.90 330.30,247.80 C330.53,248.70 330.93,252.25 331.20,252.00 C331.47,251.75 332.31,247.57 332.60,245.70 C332.89,243.83 333.45,237.45 333.70,236.00 C333.94,234.55 334.45,232.81 334.70,233.30 C334.94,233.79 335.54,238.26 335.80,240.20 C336.06,242.14 336.57,248.37 336.90,249.90 C337.23,251.43 338.22,253.63 338.60,253.30 C338.99,252.97 339.85,249.28 340.20,247.10 C340.55,244.92 341.33,236.94 341.60,234.60 C341.87,232.25 342.34,228.16 342.50,227.00 C342.66,225.84 342.85,224.45 343.00,224.70 C343.15,224.94 343.60,227.13 343.80,229.10 C344.00,231.07 344.50,239.66 344.70,241.60 C344.90,243.54 345.29,245.86 345.50,245.70 C345.71,245.54 346.28,241.20 346.50,240.20 C346.72,239.20 347.15,236.94 347.40,237.10 C347.64,237.26 348.33,240.27 348.60,241.60 C348.87,242.93 349.42,247.21 349.70,248.50 C349.98,249.79 350.65,252.54 351.00,252.70 C351.35,252.86 352.34,250.88 352.70,249.90 C353.06,248.92 353.81,245.11 354.10,244.30 C354.39,243.50 354.94,242.84 355.20,243.00 C355.46,243.16 356.06,246.03 356.30,245.70 C356.55,245.37 357.07,241.49 357.30,240.20 C357.53,238.91 358.06,234.68 358.30,234.60 C358.55,234.52 359.14,237.96 359.40,239.50 C359.66,241.04 360.23,246.51 360.50,247.80 C360.77,249.09 361.40,251.01 361.70,250.60 C362.00,250.19 362.81,245.59 363.10,244.30 C363.39,243.01 363.95,240.18 364.20,239.50 C364.44,238.82 364.95,238.09 365.20,238.50 C365.44,238.91 366.01,242.08 366.30,243.00 C366.59,243.92 367.37,246.09 367.70,246.40 C368.03,246.72 368.75,245.21 369.10,245.70 C369.45,246.19 370.35,249.86 370.70,250.60 C371.05,251.34 371.74,252.16 372.10,252.00 C372.46,251.84 373.39,249.77 373.80,249.20 C374.21,248.63 375.18,247.99 375.60,247.10 C376.02,246.21 377.00,241.68 377.40,241.60 C377.80,241.52 378.65,245.68 379.00,246.40 C379.35,247.12 380.11,248.69 380.40,247.80 C380.69,246.91 381.25,240.76 381.50,238.80 C381.75,236.84 382.32,232.00 382.50,231.00 C382.68,230.00 382.80,229.70 383.00,230.20 C383.20,230.70 383.91,234.54 384.20,235.30 C384.49,236.06 385.21,235.97 385.50,236.70 C385.79,237.43 386.45,240.39 386.70,241.60 C386.94,242.81 387.33,246.10 387.60,247.10 C387.87,248.10 388.59,249.95 389.00,250.20 C389.41,250.44 390.61,249.43 391.10,249.20 C391.59,248.97 392.72,248.25 393.20,248.20 C393.68,248.15 394.80,249.09 395.20,248.80 C395.60,248.51 396.24,246.57 396.60,245.70 C396.96,244.82 397.89,241.70 398.30,241.30 C398.71,240.90 399.68,241.62 400.10,242.30 C400.52,242.98 401.53,246.46 401.90,247.10 C402.27,247.74 402.95,248.13 403.30,247.80 C403.65,247.47 404.42,244.94 404.90,244.30 C405.38,243.66 406.91,242.14 407.40,242.30 C407.89,242.46 408.74,245.14 409.10,245.70 C409.46,246.26 410.17,247.18 410.50,247.10 C410.83,247.02 411.50,245.16 411.90,245.00 C412.30,244.84 413.39,245.33 413.90,245.70 C414.41,246.07 415.81,248.28 416.30,248.20 C416.79,248.12 417.65,245.54 418.10,245.00 C418.56,244.46 419.71,243.83 420.20,243.60 C420.69,243.37 421.90,243.31 422.30,243.00 C422.70,242.69 423.29,241.59 423.60,240.90 C423.92,240.21 424.67,237.18 425.00,237.10 C425.33,237.02 426.07,239.20 426.40,240.20 C426.73,241.20 427.43,244.65 427.80,245.70 C428.17,246.75 429.17,248.95 429.60,249.20 C430.03,249.44 431.01,248.05 431.50,247.80 C431.99,247.56 433.35,247.43 433.80,247.10 C434.25,246.77 435.05,245.35 435.40,245.00 C435.75,244.65 436.64,244.20 436.80,244.10" fill="none" stroke="#ef9d3c" stroke-width="1.0" stroke-linejoin="round"/>
<path d="M515.70,255.10 C516.00,255.13 517.74,255.49 518.30,255.40 C518.86,255.31 519.98,254.60 520.50,254.30 C521.02,254.00 522.36,253.77 522.80,252.80 C523.24,251.83 524.01,249.24 524.30,246.00 C524.59,242.76 525.08,229.55 525.30,225.00 C525.52,220.45 526.04,209.28 526.20,207.00 C526.36,204.72 526.56,205.15 526.70,205.50 C526.84,205.85 527.21,206.85 527.40,210.00 C527.59,213.15 528.09,227.95 528.30,232.50 C528.51,237.05 528.92,246.46 529.20,249.00 C529.48,251.54 530.22,253.55 530.70,254.30 C531.18,255.05 532.65,255.40 533.30,255.40 C533.95,255.40 535.60,254.60 536.30,254.30 C537.00,254.00 538.77,253.58 539.30,252.80 C539.82,252.02 540.51,250.49 540.80,247.60 C541.09,244.71 541.58,232.56 541.80,228.00 C542.02,223.44 542.53,211.12 542.70,208.50 C542.88,205.88 543.14,205.32 543.30,205.50 C543.46,205.68 543.90,206.85 544.10,210.00 C544.30,213.15 544.78,228.11 545.00,232.50 C545.22,236.89 545.74,245.35 546.00,247.60 C546.26,249.85 546.93,251.89 547.20,251.80 C547.47,251.71 548.05,249.40 548.30,246.80 C548.54,244.20 549.08,232.60 549.30,229.50 C549.52,226.40 550.00,220.90 550.20,220.20 C550.40,219.50 550.79,221.19 551.00,223.50 C551.21,225.81 551.74,236.84 552.00,240.00 C552.26,243.16 552.85,249.01 553.20,250.60 C553.55,252.19 554.59,253.33 555.00,253.60 C555.41,253.87 556.29,253.09 556.70,252.90 C557.11,252.71 558.14,252.59 558.50,252.00 C558.86,251.41 559.51,248.62 559.80,247.80 C560.09,246.98 560.72,244.92 561.00,245.00 C561.28,245.08 561.93,247.64 562.20,248.50 C562.47,249.36 563.01,252.73 563.30,252.40 C563.59,252.07 564.41,247.37 564.70,245.70 C564.99,244.03 565.55,239.20 565.80,238.10 C566.04,237.00 566.58,235.89 566.80,236.30 C567.02,236.71 567.46,240.01 567.70,241.60 C567.95,243.19 568.57,248.61 568.90,249.90 C569.23,251.19 570.10,252.86 570.50,252.70 C570.90,252.54 571.93,250.61 572.30,248.50 C572.67,246.39 573.42,237.19 573.70,234.60 C573.98,232.01 574.46,226.62 574.70,226.30 C574.95,225.99 575.54,229.95 575.80,231.90 C576.06,233.85 576.65,241.47 576.90,243.00 C577.14,244.53 577.68,245.49 577.90,245.00 C578.12,244.51 578.59,239.69 578.80,238.80 C579.01,237.91 579.47,236.91 579.70,237.40 C579.93,237.89 580.53,241.54 580.80,243.00 C581.07,244.46 581.70,248.80 582.00,249.90 C582.30,251.00 583.07,252.56 583.40,252.40 C583.73,252.24 584.47,249.47 584.80,248.50 C585.13,247.53 585.93,244.74 586.20,244.10 C586.47,243.46 586.86,242.81 587.10,243.00 C587.35,243.19 588.03,246.03 588.30,245.70 C588.57,245.37 589.13,241.41 589.40,240.20 C589.67,238.99 590.33,235.30 590.60,235.30 C590.87,235.30 591.46,238.82 591.70,240.20 C591.95,241.58 592.42,245.93 592.70,247.10 C592.98,248.27 593.77,250.53 594.10,250.20 C594.43,249.87 595.21,245.50 595.50,244.30 C595.79,243.10 596.34,240.05 596.60,239.90 C596.86,239.75 597.41,242.32 597.70,243.00 C597.99,243.68 598.79,245.47 599.10,245.70 C599.41,245.93 600.05,244.59 600.40,245.00 C600.75,245.41 601.70,248.46 602.10,249.20 C602.50,249.94 603.39,251.38 603.80,251.30 C604.21,251.22 605.18,248.91 605.60,248.50 C606.02,248.09 607.00,248.44 607.40,247.80 C607.80,247.16 608.68,243.64 609.00,243.00 C609.32,242.36 609.82,241.74 610.10,242.30 C610.38,242.86 611.09,248.05 611.40,247.80 C611.71,247.56 612.51,241.82 612.80,240.20 C613.09,238.58 613.69,234.79 613.90,233.90 C614.11,233.01 614.41,232.35 614.60,232.60 C614.79,232.84 615.23,235.52 615.50,236.00 C615.77,236.48 616.61,236.05 616.90,236.70 C617.19,237.35 617.75,240.39 618.00,241.60 C618.25,242.81 618.72,246.21 619.00,247.10 C619.28,247.99 619.99,249.07 620.40,249.20 C620.81,249.33 622.02,248.36 622.50,248.20 C622.98,248.04 624.02,247.68 624.50,247.80 C624.98,247.92 626.16,249.44 626.60,249.20 C627.04,248.95 627.89,246.54 628.30,245.70 C628.71,244.86 629.68,242.40 630.10,242.00 C630.52,241.60 631.49,241.79 631.90,242.30 C632.31,242.81 633.25,245.84 633.60,246.40 C633.95,246.96 634.50,247.34 634.90,247.10 C635.30,246.85 636.51,244.86 637.00,244.30 C637.49,243.74 638.66,242.22 639.10,242.30 C639.54,242.38 640.39,244.52 640.80,245.00 C641.21,245.48 642.16,246.32 642.60,246.40 C643.04,246.48 644.12,245.62 644.60,245.70 C645.08,245.78 646.29,246.85 646.70,247.10 C647.11,247.34 647.73,248.00 648.10,247.80 C648.47,247.60 649.41,245.83 649.90,245.40 C650.39,244.97 651.81,244.38 652.30,244.10 C652.79,243.82 653.70,243.58 654.10,243.00 C654.50,242.42 655.39,239.67 655.70,239.10 C656.01,238.53 656.51,237.81 656.80,238.10 C657.09,238.39 657.87,240.71 658.20,241.60 C658.53,242.49 659.24,244.89 659.60,245.70 C659.96,246.50 660.87,248.25 661.30,248.50 C661.73,248.75 662.82,248.05 663.30,247.80 C663.78,247.56 664.91,246.73 665.40,246.40 C665.89,246.07 667.01,245.25 667.50,245.00 C667.99,244.75 669.36,244.38 669.60,244.30" fill="none" stroke="#3a943a" stroke-width="1.0" stroke-linejoin="round"/>
<path d="M51.00,402.40 C51.52,402.37 54.62,402.23 55.50,402.10 C56.38,401.97 58.02,401.59 58.50,401.30 C58.98,401.01 59.37,401.15 59.60,399.60 C59.83,398.05 60.31,391.69 60.50,388.00 C60.69,384.31 61.06,371.73 61.20,368.00 C61.34,364.27 61.61,357.81 61.70,356.00 C61.79,354.19 61.92,352.50 62.00,352.50 C62.08,352.50 62.26,354.19 62.35,356.00 C62.44,357.81 62.67,364.27 62.80,368.00 C62.93,371.73 63.31,384.31 63.50,388.00 C63.69,391.69 64.13,397.99 64.40,399.60 C64.67,401.21 65.26,401.47 65.80,401.80 C66.34,402.13 68.02,402.39 69.00,402.40 C69.98,402.41 73.35,402.11 74.20,401.90 C75.05,401.69 75.93,401.24 76.30,400.60 C76.67,399.96 77.21,398.84 77.40,396.40 C77.59,393.96 77.80,384.07 77.90,379.70 C78.01,375.32 78.20,362.44 78.30,358.90 C78.40,355.36 78.63,349.40 78.75,349.40 C78.87,349.40 79.19,355.36 79.30,358.90 C79.41,362.44 79.58,375.32 79.70,379.70 C79.82,384.07 80.10,394.04 80.30,396.40 C80.50,398.76 81.11,399.41 81.40,399.90 C81.69,400.39 82.47,400.76 82.80,400.60 C83.13,400.44 83.94,399.64 84.20,398.50 C84.46,397.36 84.83,393.80 85.00,390.80 C85.17,387.80 85.55,375.74 85.70,372.80 C85.85,369.86 86.12,365.60 86.25,365.60 C86.38,365.60 86.65,370.02 86.80,372.80 C86.95,375.58 87.33,386.40 87.50,389.40 C87.67,392.40 88.00,397.11 88.30,398.50 C88.60,399.89 89.56,400.93 90.10,401.30 C90.64,401.67 92.45,401.70 92.90,401.70 C93.36,401.70 93.73,401.55 94.00,401.30 C94.27,401.06 94.98,400.39 95.20,399.60 C95.42,398.81 95.74,395.61 95.90,394.50 C96.06,393.39 96.42,390.10 96.60,390.10 C96.77,390.10 97.24,393.33 97.40,394.50 C97.56,395.67 97.77,399.34 98.00,400.10 C98.23,400.86 99.07,401.22 99.40,401.00 C99.73,400.78 100.55,399.60 100.80,398.20 C101.05,396.80 101.34,390.88 101.50,389.00 C101.66,387.12 102.09,383.00 102.20,382.10 C102.31,381.20 102.32,381.14 102.40,381.30 C102.48,381.46 102.78,382.17 102.90,383.50 C103.02,384.83 103.27,390.76 103.40,392.70 C103.53,394.64 103.77,399.05 104.00,400.10 C104.23,401.15 105.03,401.54 105.40,401.70 C105.77,401.86 106.83,401.79 107.20,401.50 C107.57,401.21 108.33,400.76 108.60,399.20 C108.87,397.64 109.33,390.90 109.50,388.10 C109.67,385.30 109.96,377.23 110.10,375.20 C110.24,373.17 110.55,370.70 110.70,370.70 C110.85,370.70 111.24,372.96 111.40,375.20 C111.56,377.44 111.90,387.10 112.10,389.90 C112.30,392.70 112.88,398.87 113.10,399.20 C113.32,399.53 113.80,394.32 114.00,392.70 C114.20,391.08 114.64,386.35 114.80,385.30 C114.96,384.25 115.26,383.59 115.40,383.70 C115.54,383.81 115.85,384.94 116.00,386.20 C116.15,387.46 116.50,392.88 116.70,394.50 C116.90,396.12 117.41,399.34 117.70,400.10 C117.99,400.86 118.91,401.01 119.20,401.00 C119.49,400.99 120.00,400.54 120.20,400.00 C120.40,399.46 120.69,397.41 120.90,396.40 C121.11,395.38 121.78,391.63 122.00,391.30 C122.22,390.97 122.62,392.84 122.80,393.60 C122.97,394.36 123.31,397.69 123.50,397.80 C123.69,397.91 124.18,395.85 124.40,394.50 C124.62,393.15 125.18,387.65 125.40,386.20 C125.62,384.75 126.11,382.21 126.30,382.10 C126.49,382.00 126.83,383.74 127.00,385.30 C127.17,386.86 127.59,393.83 127.80,395.50 C128.01,397.17 128.54,399.06 128.80,399.60 C129.06,400.14 129.73,400.91 130.00,400.10 C130.27,399.30 130.87,394.37 131.10,392.70 C131.33,391.03 131.84,386.69 132.00,385.80 C132.16,384.91 132.37,384.73 132.50,385.10 C132.63,385.47 132.94,387.90 133.10,389.00 C133.26,390.10 133.70,393.58 133.90,394.50 C134.10,395.42 134.57,397.05 134.80,396.90 C135.03,396.75 135.69,393.48 135.90,393.20 C136.11,392.92 136.42,393.86 136.60,394.50 C136.78,395.14 137.18,398.00 137.40,398.70 C137.62,399.40 138.21,400.23 138.50,400.50 C138.79,400.77 139.59,401.11 139.90,401.00 C140.22,400.89 140.93,399.97 141.20,399.60 C141.47,399.23 141.98,397.96 142.20,397.80 C142.42,397.64 142.89,398.80 143.10,398.20 C143.31,397.60 143.79,393.75 144.00,392.70 C144.21,391.65 144.68,389.31 144.90,389.20 C145.12,389.09 145.68,390.75 145.90,391.80 C146.12,392.85 146.59,397.29 146.80,398.20 C147.01,399.11 147.49,400.24 147.70,399.60 C147.91,398.96 148.40,394.58 148.60,392.70 C148.80,390.82 149.18,385.06 149.40,383.50 C149.62,381.94 150.29,379.42 150.50,379.30 C150.71,379.18 151.00,381.15 151.20,382.50 C151.40,383.85 152.01,390.35 152.20,390.90 C152.39,391.45 152.65,387.85 152.80,387.20 C152.95,386.55 153.32,385.09 153.50,385.30 C153.68,385.51 154.14,387.81 154.30,389.00 C154.46,390.19 154.72,394.31 154.90,395.50 C155.08,396.69 155.58,398.66 155.80,399.20 C156.02,399.74 156.54,400.22 156.80,400.10 C157.06,399.98 157.75,398.53 158.00,398.20 C158.25,397.87 158.69,397.30 158.90,397.30 C159.11,397.30 159.57,398.25 159.80,398.20 C160.03,398.15 160.66,396.78 160.90,396.90 C161.15,397.02 161.63,398.85 161.90,399.20 C162.17,399.55 162.93,400.23 163.20,399.90 C163.47,399.57 163.94,397.40 164.20,396.40 C164.46,395.40 165.17,392.08 165.40,391.30 C165.63,390.52 166.02,389.64 166.20,389.70 C166.38,389.76 166.74,391.12 166.90,391.80 C167.06,392.48 167.44,395.39 167.60,395.50 C167.76,395.61 168.12,393.07 168.30,392.70 C168.48,392.33 168.94,391.97 169.10,392.30 C169.26,392.63 169.52,394.69 169.70,395.50 C169.88,396.31 170.39,399.04 170.60,399.20 C170.81,399.36 171.31,397.45 171.50,396.90 C171.69,396.35 172.04,394.66 172.20,394.50 C172.36,394.34 172.70,395.44 172.90,395.50 C173.10,395.56 173.68,395.33 173.90,395.00 C174.12,394.67 174.61,393.13 174.80,392.70 C174.99,392.27 175.34,391.19 175.50,391.30 C175.66,391.41 176.06,393.23 176.20,393.60 C176.34,393.97 176.56,393.91 176.70,394.50 C176.84,395.09 177.21,398.42 177.40,398.70 C177.59,398.98 178.09,397.39 178.30,396.90 C178.51,396.41 178.98,394.72 179.20,394.50 C179.42,394.28 179.98,395.01 180.20,395.00 C180.42,394.99 180.89,394.24 181.10,394.40 C181.31,394.56 181.75,396.11 182.00,396.40 C182.25,396.69 182.93,396.57 183.20,396.90 C183.47,397.23 184.07,399.20 184.30,399.20 C184.53,399.20 184.97,397.46 185.20,396.90 C185.43,396.34 186.03,394.83 186.30,394.40 C186.57,393.97 187.24,393.46 187.50,393.20 C187.76,392.94 188.28,392.09 188.50,392.20 C188.72,392.31 189.19,393.50 189.40,394.10 C189.61,394.70 190.10,397.36 190.30,397.30 C190.50,397.24 190.94,394.57 191.10,393.60 C191.26,392.63 191.55,389.77 191.70,389.00 C191.85,388.23 192.22,387.00 192.40,387.00 C192.58,387.00 193.01,388.44 193.20,389.00 C193.39,389.56 193.80,391.37 194.00,391.80 C194.20,392.23 194.68,392.27 194.90,392.70 C195.12,393.13 195.68,394.80 195.90,395.50 C196.12,396.20 196.53,398.22 196.80,398.70 C197.07,399.18 197.88,399.66 198.20,399.60 C198.51,399.54 199.23,398.63 199.50,398.20 C199.77,397.77 200.28,396.00 200.50,395.90 C200.72,395.79 201.19,397.18 201.40,397.30 C201.61,397.42 202.09,397.17 202.30,396.90 C202.51,396.63 202.98,395.38 203.20,395.00 C203.42,394.62 204.08,393.76 204.20,393.60" fill="none" stroke="#bb952f" stroke-width="1.0" stroke-linejoin="round"/>
<path d="M283.20,402.80 C283.77,402.76 287.19,402.65 288.10,402.50 C289.01,402.35 290.53,402.38 291.00,401.50 C291.47,400.62 291.88,398.02 292.10,395.00 C292.32,391.98 292.72,379.75 292.90,375.60 C293.07,371.45 293.46,361.57 293.60,359.40 C293.74,357.23 293.97,356.62 294.10,357.00 C294.23,357.38 294.55,359.77 294.70,362.70 C294.85,365.63 295.22,377.95 295.40,382.10 C295.57,386.25 295.92,395.98 296.20,398.30 C296.48,400.62 297.04,401.50 297.80,402.00 C298.56,402.50 301.66,402.60 302.70,402.60 C303.74,402.60 305.99,402.31 306.70,402.00 C307.41,401.69 308.44,401.85 308.80,399.90 C309.16,397.95 309.59,390.03 309.80,385.30 C310.01,380.57 310.44,363.40 310.60,359.40 C310.76,355.40 311.05,351.00 311.20,351.00 C311.35,351.00 311.72,355.40 311.90,359.40 C312.07,363.40 312.51,380.67 312.70,385.30 C312.89,389.93 313.25,397.25 313.50,399.10 C313.75,400.96 314.46,401.11 314.80,401.20 C315.14,401.29 316.08,402.13 316.40,399.90 C316.71,397.67 317.29,385.51 317.50,382.10 C317.71,378.69 318.08,372.12 318.20,370.70 C318.32,369.28 318.38,369.51 318.50,369.90 C318.62,370.28 319.01,371.44 319.20,374.00 C319.39,376.56 319.84,388.69 320.10,391.80 C320.36,394.92 320.98,399.53 321.40,400.70 C321.82,401.87 323.15,401.71 323.70,401.80 C324.25,401.89 325.62,402.13 326.10,401.50 C326.58,400.87 327.47,397.37 327.80,396.40 C328.13,395.43 328.64,393.12 328.90,393.20 C329.16,393.28 329.74,396.19 330.00,397.10 C330.26,398.01 330.81,401.16 331.10,401.00 C331.39,400.84 332.21,397.45 332.50,395.70 C332.79,393.95 333.36,387.59 333.60,386.00 C333.85,384.41 334.38,381.77 334.60,382.10 C334.82,382.43 335.27,386.89 335.50,388.80 C335.73,390.71 336.24,396.96 336.60,398.50 C336.96,400.04 338.18,402.00 338.60,402.00 C339.02,402.00 339.85,400.53 340.20,398.50 C340.55,396.47 341.33,387.19 341.60,384.60 C341.87,382.01 342.34,377.51 342.50,376.30 C342.66,375.09 342.85,373.71 343.00,374.20 C343.15,374.69 343.60,378.15 343.80,380.50 C344.00,382.85 344.50,392.28 344.70,394.30 C344.90,396.32 345.29,398.28 345.50,397.80 C345.71,397.32 346.28,391.50 346.50,390.20 C346.72,388.90 347.15,386.54 347.40,386.70 C347.64,386.86 348.33,390.22 348.60,391.60 C348.87,392.98 349.38,397.37 349.70,398.50 C350.01,399.63 350.92,401.38 351.30,401.30 C351.69,401.22 352.64,399.01 353.00,397.80 C353.36,396.59 354.11,391.14 354.40,390.90 C354.69,390.65 355.24,395.62 355.50,395.70 C355.76,395.78 356.34,392.90 356.60,391.60 C356.86,390.31 357.48,385.57 357.70,384.60 C357.92,383.63 358.28,382.65 358.50,383.30 C358.72,383.95 359.34,388.51 359.60,390.20 C359.86,391.89 360.41,396.63 360.70,397.80 C360.99,398.97 361.77,400.61 362.10,400.20 C362.43,399.79 363.17,395.71 363.50,394.30 C363.83,392.89 364.61,388.42 364.90,388.10 C365.19,387.79 365.72,390.55 366.00,391.60 C366.28,392.65 367.02,396.79 367.30,397.10 C367.58,397.42 368.13,394.22 368.40,394.30 C368.67,394.38 369.25,397.02 369.60,397.80 C369.95,398.58 370.98,400.84 371.40,401.00 C371.82,401.16 372.79,399.65 373.20,399.20 C373.61,398.75 374.51,397.99 374.90,397.10 C375.28,396.21 376.17,392.37 376.50,391.60 C376.83,390.83 377.41,390.02 377.70,390.50 C377.99,390.98 378.69,394.85 379.00,395.70 C379.31,396.55 380.11,398.61 380.40,397.80 C380.69,397.00 381.25,390.70 381.50,388.80 C381.75,386.90 382.35,382.43 382.50,381.50 C382.65,380.57 382.64,380.28 382.80,380.80 C382.96,381.32 383.67,385.07 383.90,386.00 C384.13,386.93 384.58,388.64 384.80,388.80 C385.02,388.96 385.56,386.76 385.80,387.40 C386.05,388.04 386.64,393.00 386.90,394.30 C387.16,395.60 387.64,397.93 388.00,398.50 C388.36,399.07 389.56,399.28 390.00,399.20 C390.44,399.12 391.35,397.88 391.80,397.80 C392.25,397.72 393.47,398.58 393.90,398.50 C394.33,398.42 395.10,397.74 395.50,397.10 C395.90,396.46 396.93,393.81 397.30,393.00 C397.67,392.19 398.37,390.20 398.70,390.20 C399.03,390.20 399.77,392.36 400.10,393.00 C400.43,393.64 401.17,395.06 401.50,395.70 C401.83,396.34 402.53,398.58 402.90,398.50 C403.27,398.42 404.30,395.72 404.70,395.00 C405.10,394.28 405.95,392.70 406.30,392.30 C406.65,391.90 407.37,391.20 407.70,391.60 C408.03,392.00 408.77,395.06 409.10,395.70 C409.43,396.34 410.15,397.14 410.50,397.10 C410.85,397.06 411.70,395.40 412.10,395.40 C412.50,395.40 413.48,396.82 413.90,397.10 C414.32,397.38 415.29,397.96 415.70,397.80 C416.11,397.64 416.96,396.11 417.40,395.70 C417.84,395.29 419.01,394.55 419.50,394.30 C419.99,394.06 421.17,393.92 421.60,393.60 C422.03,393.29 422.85,392.29 423.20,391.60 C423.55,390.91 424.27,387.70 424.60,387.70 C424.93,387.70 425.67,390.67 426.00,391.60 C426.33,392.53 427.07,394.89 427.40,395.70 C427.73,396.50 428.43,398.25 428.80,398.50 C429.17,398.75 430.18,398.00 430.60,397.80 C431.02,397.60 432.00,396.96 432.40,396.80 C432.80,396.64 433.65,396.69 434.00,396.40 C434.35,396.11 435.11,394.63 435.40,394.30 C435.69,393.97 436.37,393.68 436.50,393.60" fill="none" stroke="#ef9d3c" stroke-width="1.0" stroke-linejoin="round"/>
<path d="M515.70,402.30 C516.17,402.24 518.86,401.93 519.70,401.80 C520.54,401.67 522.38,401.81 522.90,401.20 C523.42,400.59 523.96,399.02 524.20,396.60 C524.45,394.19 524.83,384.84 525.00,380.50 C525.17,376.16 525.56,362.71 525.70,359.40 C525.84,356.09 526.07,352.10 526.20,352.10 C526.33,352.10 526.65,356.09 526.80,359.40 C526.95,362.71 527.33,376.07 527.50,380.50 C527.67,384.93 528.04,394.95 528.30,397.40 C528.56,399.85 529.09,400.93 529.70,401.50 C530.31,402.07 532.59,402.26 533.50,402.30 C534.41,402.34 536.75,401.93 537.50,401.80 C538.25,401.67 539.48,401.99 539.90,401.20 C540.32,400.41 540.87,398.36 541.10,395.00 C541.33,391.64 541.71,376.74 541.90,372.40 C542.09,368.06 542.55,359.75 542.70,357.80 C542.85,355.85 543.07,355.33 543.20,355.70 C543.33,356.07 543.64,357.73 543.80,361.00 C543.96,364.27 544.39,379.35 544.60,383.70 C544.81,388.05 545.30,396.32 545.60,398.30 C545.90,400.28 546.86,400.70 547.20,400.70 C547.54,400.70 548.23,400.66 548.50,398.30 C548.77,395.94 549.29,383.81 549.50,380.50 C549.71,377.19 550.15,371.23 550.30,369.90 C550.45,368.57 550.67,368.62 550.80,369.10 C550.93,369.58 551.21,371.35 551.40,374.00 C551.59,376.65 552.13,388.74 552.40,391.80 C552.67,394.86 553.40,399.07 553.70,400.20 C554.00,401.33 554.60,401.24 555.00,401.50 C555.40,401.76 556.64,402.50 557.10,402.40 C557.56,402.29 558.53,401.38 558.90,400.60 C559.27,399.82 560.03,396.67 560.30,395.70 C560.57,394.73 560.98,392.14 561.20,392.30 C561.42,392.46 561.96,396.13 562.20,397.10 C562.45,398.07 563.01,400.93 563.30,400.60 C563.59,400.27 564.41,395.92 564.70,394.30 C564.99,392.68 565.55,387.86 565.80,386.70 C566.04,385.54 566.58,383.99 566.80,384.40 C567.02,384.81 567.46,388.47 567.70,390.20 C567.95,391.93 568.57,397.88 568.90,399.20 C569.23,400.52 570.10,401.42 570.50,401.50 C570.90,401.58 571.93,401.71 572.30,399.90 C572.67,398.09 573.44,388.67 573.70,386.00 C573.96,383.33 574.34,378.26 574.50,377.00 C574.66,375.74 574.95,374.79 575.10,375.20 C575.25,375.61 575.59,378.11 575.80,380.50 C576.01,382.89 576.65,393.76 576.90,395.70 C577.14,397.64 577.68,397.82 577.90,397.10 C578.12,396.38 578.59,390.71 578.80,389.50 C579.01,388.29 579.47,386.45 579.70,386.70 C579.93,386.94 580.53,390.14 580.80,391.60 C581.07,393.06 581.65,398.05 582.00,399.20 C582.35,400.35 583.39,401.58 583.80,401.50 C584.21,401.42 585.14,399.57 585.50,398.50 C585.86,397.43 586.61,392.63 586.90,392.30 C587.19,391.97 587.71,396.11 588.00,395.70 C588.29,395.29 589.10,390.10 589.40,388.80 C589.70,387.50 590.33,384.44 590.60,384.60 C590.87,384.76 591.44,388.66 591.70,390.20 C591.96,391.74 592.51,396.63 592.80,397.80 C593.09,398.97 593.87,400.61 594.20,400.20 C594.53,399.79 595.30,395.67 595.60,394.30 C595.90,392.94 596.52,388.81 596.80,388.50 C597.08,388.19 597.73,390.60 598.00,391.60 C598.27,392.60 598.84,396.75 599.10,397.10 C599.36,397.45 599.93,394.52 600.20,394.60 C600.47,394.68 601.05,397.05 601.40,397.80 C601.75,398.55 602.79,400.92 603.20,401.00 C603.61,401.08 604.46,398.95 604.90,398.50 C605.34,398.05 606.54,397.82 607.00,397.10 C607.46,396.38 608.48,392.98 608.80,392.30 C609.12,391.62 609.43,390.82 609.70,391.30 C609.97,391.78 610.82,395.56 611.10,396.40 C611.38,397.24 611.82,399.39 612.10,398.50 C612.38,397.61 613.24,390.49 613.50,388.80 C613.76,387.11 614.15,384.64 614.30,384.00 C614.45,383.36 614.62,382.74 614.80,383.30 C614.97,383.86 615.55,388.32 615.80,388.80 C616.04,389.28 616.64,386.99 616.90,387.40 C617.16,387.81 617.74,391.09 618.00,392.30 C618.26,393.51 618.77,397.00 619.10,397.80 C619.43,398.61 620.38,399.12 620.80,399.20 C621.22,399.28 622.27,398.66 622.70,398.50 C623.13,398.34 624.07,397.72 624.50,397.80 C624.93,397.88 625.99,399.44 626.40,399.20 C626.81,398.95 627.65,396.50 628.00,395.70 C628.35,394.89 629.11,392.81 629.40,392.30 C629.69,391.79 630.21,391.22 630.50,391.30 C630.79,391.38 631.57,392.49 631.90,393.00 C632.23,393.51 632.97,395.06 633.30,395.70 C633.63,396.34 634.35,398.58 634.70,398.50 C635.05,398.42 635.95,395.57 636.30,395.00 C636.65,394.43 637.34,393.92 637.70,393.60 C638.06,393.29 639.04,392.14 639.40,392.30 C639.76,392.46 640.48,394.52 640.80,395.00 C641.12,395.48 641.74,396.40 642.10,396.40 C642.46,396.40 643.48,395.00 643.90,395.00 C644.32,395.00 645.29,396.07 645.70,396.40 C646.11,396.73 646.96,397.88 647.40,397.80 C647.84,397.72 649.01,396.13 649.50,395.70 C649.99,395.27 651.12,394.50 651.60,394.10 C652.08,393.70 653.12,392.88 653.60,392.30 C654.08,391.72 655.33,389.51 655.70,389.10 C656.07,388.69 656.51,388.51 656.80,388.80 C657.09,389.09 657.87,390.80 658.20,391.60 C658.53,392.41 659.24,394.86 659.60,395.70 C659.96,396.54 660.87,398.56 661.30,398.80 C661.73,399.05 662.82,398.08 663.30,397.80 C663.78,397.52 664.91,396.73 665.40,396.40 C665.89,396.07 667.01,395.25 667.50,395.00 C667.99,394.75 669.36,394.38 669.60,394.30" fill="none" stroke="#3a943a" stroke-width="1.0" stroke-linejoin="round"/>
<circle class="y1" cx="176.4" cy="24.8" r="3.54"/>
<circle class="y1" cx="196.2" cy="21.6" r="3.55"/>
<circle class="y1" cx="211.7" cy="42.7" r="3.55"/>
<circle class="y1" cx="196.8" cy="64.2" r="3.56"/>
<circle class="y1" cx="170.7" cy="54.7" r="3.58"/>
<circle class="y1" cx="206.2" cy="58.5" r="3.59"/>
<circle class="y1" cx="190.9" cy="66.0" r="3.60"/>
<circle class="y1" cx="210.5" cy="34.0" r="3.60"/>
<circle class="y1" cx="210.8" cy="48.4" r="3.60"/>
<circle class="y1" cx="168.8" cy="31.7" r="3.63"/>
<circle class="y1" cx="169.0" cy="46.2" r="3.63"/>
<circle class="y1" cx="209.9" cy="54.3" r="3.65"/>
<circle class="y1" cx="178.1" cy="25.6" r="3.65"/>
<circle class="y1" cx="198.5" cy="22.3" r="3.66"/>
<circle class="y1" cx="167.3" cy="37.4" r="3.68"/>
<circle class="y1" cx="203.5" cy="26.6" r="3.68"/>
<circle class="y1" cx="167.5" cy="52.1" r="3.68"/>
<circle class="y1" cx="187.6" cy="19.4" r="3.68"/>
<circle class="y1" cx="171.9" cy="27.0" r="3.69"/>
<circle class="y1" cx="208.4" cy="30.8" r="3.69"/>
<circle class="y1" cx="172.3" cy="56.5" r="3.70"/>
<circle class="y1" cx="192.5" cy="23.7" r="3.70"/>
<circle class="y1" cx="177.2" cy="60.9" r="3.71"/>
<circle class="y1" cx="181.4" cy="20.8" r="3.72"/>
<circle class="y1" cx="165.8" cy="43.3" r="3.73"/>
<circle class="y1" cx="182.1" cy="65.3" r="3.73"/>
<circle class="y1" cx="202.9" cy="62.1" r="3.74"/>
<circle class="y1" cx="170.4" cy="32.7" r="3.74"/>
<circle class="y1" cx="170.6" cy="47.7" r="3.74"/>
<circle class="y1" cx="207.4" cy="36.6" r="3.75"/>
<circle class="y1" cx="207.7" cy="51.6" r="3.75"/>
<circle class="y1" cx="212.5" cy="41.0" r="3.76"/>
<circle class="y1" cx="180.0" cy="26.4" r="3.77"/>
<circle class="y1" cx="196.8" cy="63.8" r="3.77"/>
<circle class="y1" cx="201.1" cy="23.0" r="3.78"/>
<circle class="y1" cx="168.9" cy="38.6" r="3.79"/>
<circle class="y1" cx="185.5" cy="61.1" r="3.79"/>
<circle class="y1" cx="206.2" cy="27.4" r="3.79"/>
<circle class="y1" cx="169.1" cy="53.8" r="3.80"/>
<circle class="y1" cx="189.8" cy="20.1" r="3.80"/>
<circle class="y1" cx="206.7" cy="57.7" r="3.80"/>
<circle class="y1" cx="173.6" cy="27.9" r="3.81"/>
<circle class="y1" cx="173.8" cy="43.1" r="3.81"/>
<circle class="y1" cx="190.5" cy="65.6" r="3.81"/>
<circle class="y1" cx="174.1" cy="58.3" r="3.82"/>
<circle class="y1" cx="194.9" cy="24.4" r="3.82"/>
<circle class="y1" cx="211.6" cy="47.0" r="3.82"/>
<circle class="y1" cx="179.1" cy="62.9" r="3.83"/>
<circle class="y1" cx="200.0" cy="28.9" r="3.83"/>
<circle class="y1" cx="183.4" cy="21.4" r="3.84"/>
<circle class="y1" cx="200.5" cy="59.5" r="3.84"/>
<circle class="y1" cx="167.3" cy="44.7" r="3.85"/>
<circle class="y1" cx="205.1" cy="33.3" r="3.85"/>
<circle class="y1" cx="188.5" cy="25.9" r="3.85"/>
<circle class="y1" cx="205.4" cy="48.7" r="3.85"/>
<circle class="y1" cx="172.1" cy="33.8" r="3.86"/>
<circle class="y1" cx="189.0" cy="56.7" r="3.86"/>
<circle class="y1" cx="172.3" cy="49.2" r="3.87"/>
<circle class="y1" cx="210.3" cy="37.8" r="3.87"/>
<circle class="y1" cx="177.2" cy="38.3" r="3.88"/>
<circle class="y1" cx="194.1" cy="61.3" r="3.88"/>
<circle class="y1" cx="177.4" cy="53.8" r="3.88"/>
<circle class="y1" cx="182.0" cy="27.3" r="3.89"/>
<circle class="y1" cx="182.5" cy="58.4" r="3.90"/>
<circle class="y1" cx="204.0" cy="39.4" r="3.91"/>
<circle class="y1" cx="204.3" cy="55.0" r="3.91"/>
<circle class="y1" cx="170.5" cy="39.9" r="3.92"/>
<circle class="y1" cx="187.7" cy="63.1" r="3.92"/>
<circle class="y1" cx="209.3" cy="44.0" r="3.93"/>
<circle class="y1" cx="175.4" cy="28.8" r="3.93"/>
<circle class="y1" cx="192.6" cy="52.1" r="3.93"/>
<circle class="y1" cx="175.7" cy="44.5" r="3.94"/>
<circle class="y1" cx="197.4" cy="25.3" r="3.94"/>
<circle class="y1" cx="180.6" cy="33.4" r="3.95"/>
<circle class="y1" cx="197.9" cy="56.8" r="3.95"/>
<circle class="y1" cx="180.8" cy="49.2" r="3.96"/>
<circle class="y1" cx="202.7" cy="29.8" r="3.96"/>
<circle class="y1" cx="202.9" cy="45.6" r="3.97"/>
<circle class="y1" cx="185.8" cy="38.0" r="3.97"/>
<circle class="y1" cx="186.1" cy="53.8" r="3.97"/>
<circle class="y1" cx="190.8" cy="26.7" r="3.98"/>
<circle class="y1" cx="191.1" cy="42.6" r="3.99"/>
<circle class="y1" cx="173.9" cy="34.9" r="3.99"/>
<circle class="y1" cx="191.3" cy="58.6" r="3.99"/>
<circle class="y1" cx="174.1" cy="50.9" r="4.00"/>
<circle class="y1" cx="196.2" cy="31.4" r="4.00"/>
<circle class="y1" cx="196.4" cy="47.3" r="4.01"/>
<circle class="y1" cx="179.1" cy="39.6" r="4.01"/>
<circle class="y1" cx="179.4" cy="55.6" r="4.02"/>
<circle class="y1" cx="201.5" cy="36.0" r="4.02"/>
<circle class="y1" cx="184.2" cy="28.3" r="4.02"/>
<circle class="y1" cx="201.8" cy="52.1" r="4.03"/>
<circle class="y1" cx="184.4" cy="44.3" r="4.03"/>
<circle class="y1" cx="189.5" cy="32.9" r="4.04"/>
<circle class="y1" cx="189.8" cy="49.1" r="4.05"/>
<circle class="y1" cx="194.9" cy="37.7" r="4.06"/>
<circle class="y1" cx="195.2" cy="53.9" r="4.07"/>
<circle class="y1" cx="177.6" cy="46.0" r="4.07"/>
<circle class="y1" cx="200.3" cy="42.4" r="4.08"/>
<circle class="y1" cx="182.7" cy="34.5" r="4.09"/>
<circle class="y1" cx="183.0" cy="50.9" r="4.09"/>
<circle class="y1" cx="188.1" cy="39.3" r="4.11"/>
<circle class="y1" cx="193.6" cy="44.1" r="4.13"/>
<circle class="o1" cx="425.0" cy="23.8" r="3.18"/>
<circle class="o1" cx="414.1" cy="23.8" r="3.18"/>
<circle class="o1" cx="430.5" cy="23.8" r="3.18"/>
<circle class="o1" cx="419.6" cy="23.8" r="3.18"/>
<circle class="o1" cx="444.6" cy="43.4" r="3.24"/>
<circle class="o1" cx="400.0" cy="43.4" r="3.24"/>
<circle class="o1" cx="425.1" cy="63.6" r="3.30"/>
<circle class="o1" cx="413.8" cy="63.6" r="3.30"/>
<circle class="o1" cx="430.8" cy="63.6" r="3.30"/>
<circle class="o1" cx="419.5" cy="63.6" r="3.30"/>
<circle class="o1" cx="422.3" cy="26.2" r="3.35"/>
<circle class="o1" cx="433.9" cy="26.2" r="3.35"/>
<circle class="o1" cx="416.5" cy="26.2" r="3.35"/>
<circle class="o1" cx="410.7" cy="26.2" r="3.35"/>
<circle class="o1" cx="428.1" cy="26.2" r="3.35"/>
<circle class="o1" cx="401.9" cy="52.6" r="3.38"/>
<circle class="o1" cx="442.7" cy="52.6" r="3.38"/>
<circle class="o1" cx="442.9" cy="46.8" r="3.42"/>
<circle class="o1" cx="401.7" cy="46.8" r="3.42"/>
<circle class="o1" cx="443.2" cy="41.0" r="3.46"/>
<circle class="o1" cx="401.4" cy="41.0" r="3.46"/>
<circle class="o1" cx="401.2" cy="35.0" r="3.50"/>
<circle class="o1" cx="443.4" cy="35.0" r="3.50"/>
<circle class="o1" cx="416.2" cy="62.6" r="3.53"/>
<circle class="o1" cx="428.4" cy="62.6" r="3.53"/>
<circle class="o1" cx="410.1" cy="62.6" r="3.53"/>
<circle class="o1" cx="434.5" cy="62.6" r="3.53"/>
<circle class="o1" cx="422.3" cy="62.6" r="3.53"/>
<circle class="o1" cx="413.1" cy="28.8" r="3.55"/>
<circle class="o1" cx="431.5" cy="28.8" r="3.55"/>
<circle class="o1" cx="419.2" cy="28.8" r="3.55"/>
<circle class="o1" cx="407.0" cy="28.8" r="3.55"/>
<circle class="o1" cx="425.4" cy="28.8" r="3.55"/>
<circle class="o1" cx="437.6" cy="28.8" r="3.55"/>
<circle class="o1" cx="440.8" cy="56.8" r="3.58"/>
<circle class="o1" cx="403.8" cy="56.8" r="3.58"/>
<circle class="o1" cx="441.0" cy="50.7" r="3.62"/>
<circle class="o1" cx="403.6" cy="50.7" r="3.62"/>
<circle class="o1" cx="403.3" cy="44.6" r="3.67"/>
<circle class="o1" cx="441.3" cy="44.6" r="3.67"/>
<circle class="o1" cx="441.5" cy="38.2" r="3.72"/>
<circle class="o1" cx="403.1" cy="38.2" r="3.72"/>
<circle class="o1" cx="428.8" cy="31.7" r="3.76"/>
<circle class="o1" cx="435.3" cy="31.7" r="3.76"/>
<circle class="o1" cx="422.3" cy="31.7" r="3.76"/>
<circle class="o1" cx="441.8" cy="31.7" r="3.76"/>
<circle class="o1" cx="402.8" cy="31.7" r="3.76"/>
<circle class="o1" cx="415.8" cy="31.7" r="3.76"/>
<circle class="o1" cx="409.3" cy="31.7" r="3.76"/>
<circle class="o1" cx="412.5" cy="61.5" r="3.80"/>
<circle class="o1" cx="425.6" cy="61.5" r="3.80"/>
<circle class="o1" cx="419.0" cy="61.5" r="3.80"/>
<circle class="o1" cx="432.1" cy="61.5" r="3.80"/>
<circle class="o1" cx="412.3" cy="55.1" r="3.85"/>
<circle class="o1" cx="438.9" cy="55.1" r="3.85"/>
<circle class="o1" cx="432.3" cy="55.1" r="3.85"/>
<circle class="o1" cx="405.7" cy="55.1" r="3.85"/>
<circle class="o1" cx="405.5" cy="48.6" r="3.90"/>
<circle class="o1" cx="439.1" cy="48.6" r="3.90"/>
<circle class="o1" cx="405.3" cy="41.9" r="3.95"/>
<circle class="o1" cx="439.3" cy="41.9" r="3.95"/>
<circle class="o1" cx="439.6" cy="35.1" r="4.01"/>
<circle class="o1" cx="405.0" cy="35.1" r="4.01"/>
<circle class="o1" cx="411.9" cy="35.1" r="4.01"/>
<circle class="o1" cx="432.7" cy="35.1" r="4.01"/>
<circle class="o1" cx="425.8" cy="35.1" r="4.01"/>
<circle class="o1" cx="418.8" cy="35.1" r="4.01"/>
<circle class="o1" cx="408.1" cy="60.1" r="4.11"/>
<circle class="o1" cx="415.2" cy="60.1" r="4.11"/>
<circle class="o1" cx="436.5" cy="60.1" r="4.11"/>
<circle class="o1" cx="422.3" cy="60.1" r="4.11"/>
<circle class="o1" cx="429.4" cy="60.1" r="4.11"/>
<circle class="o1" cx="415.1" cy="53.2" r="4.17"/>
<circle class="o1" cx="429.5" cy="53.2" r="4.17"/>
<circle class="o1" cx="436.7" cy="53.2" r="4.17"/>
<circle class="o1" cx="407.9" cy="53.2" r="4.17"/>
<circle class="o1" cx="422.3" cy="53.2" r="4.17"/>
<circle class="o1" cx="407.7" cy="46.1" r="4.23"/>
<circle class="o1" cx="415.0" cy="46.1" r="4.23"/>
<circle class="o1" cx="422.3" cy="46.1" r="4.23"/>
<circle class="o1" cx="429.6" cy="46.1" r="4.23"/>
<circle class="o1" cx="436.9" cy="46.1" r="4.23"/>
<circle class="o1" cx="414.9" cy="38.8" r="4.29"/>
<circle class="o1" cx="422.3" cy="38.8" r="4.29"/>
<circle class="o1" cx="437.1" cy="38.8" r="4.29"/>
<circle class="o1" cx="407.5" cy="38.8" r="4.29"/>
<circle class="o1" cx="429.7" cy="38.8" r="4.29"/>
<circle class="o1" cx="418.4" cy="58.5" r="4.47"/>
<circle class="o1" cx="426.2" cy="58.5" r="4.47"/>
<circle class="o1" cx="426.2" cy="51.0" r="4.54"/>
<circle class="o1" cx="410.6" cy="51.0" r="4.54"/>
<circle class="o1" cx="418.4" cy="51.0" r="4.54"/>
<circle class="o1" cx="434.0" cy="51.0" r="4.54"/>
<circle class="o1" cx="426.3" cy="43.2" r="4.61"/>
<circle class="o1" cx="410.4" cy="43.2" r="4.61"/>
<circle class="o1" cx="418.3" cy="43.2" r="4.61"/>
<circle class="o1" cx="434.2" cy="43.2" r="4.61"/>
<circle class="g1" cx="674.3" cy="61.0" r="4.09"/>
<circle class="g1" cx="674.5" cy="54.5" r="4.15"/>
<circle class="g1" cx="674.7" cy="47.8" r="4.20"/>
<circle class="g1" cx="644.6" cy="60.6" r="4.22"/>
<circle class="g1" cx="639.0" cy="65.7" r="4.25"/>
<circle class="g1" cx="646.4" cy="15.9" r="4.25"/>
<circle class="g1" cx="671.3" cy="65.8" r="4.26"/>
<circle class="g1" cx="674.9" cy="40.9" r="4.26"/>
<circle class="g1" cx="651.6" cy="61.8" r="4.26"/>
<circle class="g1" cx="644.4" cy="53.8" r="4.27"/>
<circle class="g1" cx="646.1" cy="67.0" r="4.29"/>
<circle class="g1" cx="653.5" cy="16.7" r="4.30"/>
<circle class="g1" cx="658.7" cy="63.1" r="4.30"/>
<circle class="g1" cx="638.8" cy="59.0" r="4.31"/>
<circle class="g1" cx="671.5" cy="59.1" r="4.31"/>
<circle class="g1" cx="675.2" cy="33.8" r="4.31"/>
<circle class="g1" cx="651.5" cy="55.0" r="4.32"/>
<circle class="g1" cx="644.2" cy="46.9" r="4.33"/>
<circle class="g1" cx="653.2" cy="68.3" r="4.34"/>
<circle class="g1" cx="660.7" cy="17.5" r="4.34"/>
<circle class="g1" cx="666.1" cy="64.3" r="4.35"/>
<circle class="g1" cx="645.9" cy="60.2" r="4.35"/>
<circle class="g1" cx="658.8" cy="56.2" r="4.36"/>
<circle class="g1" cx="638.6" cy="52.1" r="4.37"/>
<circle class="g1" cx="671.7" cy="52.2" r="4.37"/>
<circle class="g1" cx="675.4" cy="26.6" r="4.37"/>
<circle class="g1" cx="651.4" cy="48.0" r="4.38"/>
<circle class="g1" cx="660.6" cy="69.7" r="4.38"/>
<circle class="g1" cx="668.1" cy="18.3" r="4.39"/>
<circle class="g1" cx="644.0" cy="39.8" r="4.39"/>
<circle class="g1" cx="653.2" cy="61.5" r="4.40"/>
<circle class="g1" cx="666.2" cy="57.4" r="4.41"/>
<circle class="g1" cx="645.8" cy="53.3" r="4.41"/>
<circle class="g1" cx="658.8" cy="49.2" r="4.42"/>
<circle class="g1" cx="638.3" cy="45.0" r="4.43"/>
<circle class="g1" cx="642.1" cy="19.0" r="4.43"/>
<circle class="g1" cx="668.0" cy="71.1" r="4.43"/>
<circle class="g1" cx="671.9" cy="45.1" r="4.43"/>
<circle class="g1" cx="675.7" cy="19.1" r="4.43"/>
<circle class="g1" cx="651.3" cy="40.9" r="4.44"/>
<circle class="g1" cx="660.6" cy="62.8" r="4.45"/>
<circle class="g1" cx="643.9" cy="32.5" r="4.45"/>
<circle class="g1" cx="653.1" cy="54.5" r="4.46"/>
<circle class="g1" cx="666.3" cy="50.4" r="4.47"/>
<circle class="g1" cx="645.6" cy="46.1" r="4.47"/>
<circle class="g1" cx="649.5" cy="19.9" r="4.48"/>
<circle class="g1" cx="658.8" cy="42.0" r="4.48"/>
<circle class="g1" cx="638.0" cy="37.7" r="4.49"/>
<circle class="g1" cx="668.2" cy="64.1" r="4.49"/>
<circle class="g1" cx="672.1" cy="37.8" r="4.49"/>
<circle class="g1" cx="651.3" cy="33.5" r="4.50"/>
<circle class="g1" cx="660.7" cy="55.7" r="4.51"/>
<circle class="g1" cx="643.7" cy="25.0" r="4.51"/>
<circle class="g1" cx="653.1" cy="47.3" r="4.52"/>
<circle class="g1" cx="657.0" cy="20.8" r="4.52"/>
<circle class="g1" cx="666.4" cy="43.1" r="4.53"/>
<circle class="g1" cx="645.5" cy="38.7" r="4.54"/>
<circle class="g1" cx="658.8" cy="34.5" r="4.55"/>
<circle class="g1" cx="637.8" cy="30.2" r="4.55"/>
<circle class="g1" cx="668.3" cy="57.0" r="4.56"/>
<circle class="g1" cx="672.3" cy="30.3" r="4.56"/>
<circle class="g1" cx="651.2" cy="25.9" r="4.56"/>
<circle class="g1" cx="660.7" cy="48.4" r="4.57"/>
<circle class="g1" cx="664.7" cy="21.6" r="4.57"/>
<circle class="g1" cx="653.0" cy="39.8" r="4.59"/>
<circle class="g1" cx="666.6" cy="35.6" r="4.60"/>
<circle class="g1" cx="645.3" cy="31.2" r="4.60"/>
<circle class="g1" cx="658.9" cy="26.9" r="4.61"/>
<circle class="g1" cx="637.5" cy="22.5" r="4.62"/>
<circle class="g1" cx="668.5" cy="49.7" r="4.62"/>
<circle class="g1" cx="672.5" cy="22.6" r="4.62"/>
<circle class="g1" cx="660.8" cy="41.0" r="4.64"/>
<circle class="g1" cx="653.0" cy="32.2" r="4.65"/>
<circle class="g1" cx="666.7" cy="27.9" r="4.67"/>
<circle class="g1" cx="645.1" cy="23.4" r="4.67"/>
<circle class="g1" cx="668.7" cy="42.1" r="4.69"/>
<circle class="g1" cx="660.8" cy="33.2" r="4.71"/>
<circle class="g1" cx="652.9" cy="24.3" r="4.72"/>
<circle class="g1" cx="668.8" cy="34.3" r="4.76"/>
<circle class="g1" cx="660.9" cy="25.3" r="4.78"/>
<circle class="g1" cx="669.0" cy="26.3" r="4.83"/>
<circle class="y2" cx="207.0" cy="195.4" r="1.86"/>
<circle class="y2" cx="204.7" cy="197.8" r="1.86"/>
<circle class="y2" cx="202.5" cy="200.2" r="1.86"/>
<circle class="y2" cx="200.3" cy="202.7" r="1.86"/>
<circle class="y2" cx="198.0" cy="205.1" r="1.86"/>
<circle class="y2" cx="195.8" cy="207.6" r="1.86"/>
<circle class="y2" cx="207.9" cy="193.6" r="1.88"/>
<circle class="y2" cx="205.7" cy="196.1" r="1.89"/>
<circle class="y2" cx="203.4" cy="198.6" r="1.89"/>
<circle class="y2" cx="201.1" cy="201.1" r="1.89"/>
<circle class="y2" cx="168.0" cy="186.5" r="1.89"/>
<circle class="y2" cx="198.8" cy="203.5" r="1.89"/>
<circle class="y2" cx="196.5" cy="206.0" r="1.89"/>
<circle class="y2" cx="194.2" cy="208.5" r="1.89"/>
<circle class="y2" cx="207.4" cy="176.8" r="1.90"/>
<circle class="y2" cx="182.0" cy="208.9" r="1.91"/>
<circle class="y2" cx="187.0" cy="164.6" r="1.91"/>
<circle class="y2" cx="168.4" cy="189.3" r="1.91"/>
<circle class="y2" cx="205.2" cy="174.5" r="1.91"/>
<circle class="y2" cx="208.9" cy="191.9" r="1.91"/>
<circle class="y2" cx="206.6" cy="194.4" r="1.92"/>
<circle class="y2" cx="208.3" cy="179.5" r="1.92"/>
<circle class="y2" cx="179.7" cy="206.8" r="1.92"/>
<circle class="y2" cx="204.3" cy="196.9" r="1.92"/>
<circle class="y2" cx="202.0" cy="199.4" r="1.92"/>
<circle class="y2" cx="168.3" cy="184.6" r="1.92"/>
<circle class="y2" cx="199.6" cy="201.9" r="1.92"/>
<circle class="y2" cx="185.0" cy="209.4" r="1.92"/>
<circle class="y2" cx="197.3" cy="204.4" r="1.92"/>
<circle class="y2" cx="203.0" cy="172.2" r="1.92"/>
<circle class="y2" cx="195.0" cy="207.0" r="1.92"/>
<circle class="y2" cx="190.0" cy="164.7" r="1.93"/>
<circle class="y2" cx="192.6" cy="209.5" r="1.93"/>
<circle class="y2" cx="168.9" cy="192.2" r="1.93"/>
<circle class="y2" cx="206.0" cy="177.2" r="1.93"/>
<circle class="y2" cx="177.3" cy="204.7" r="1.93"/>
<circle class="y2" cx="182.6" cy="207.3" r="1.94"/>
<circle class="y2" cx="200.7" cy="169.8" r="1.94"/>
<circle class="y2" cx="209.1" cy="182.3" r="1.94"/>
<circle class="y2" cx="185.3" cy="164.9" r="1.94"/>
<circle class="y2" cx="168.8" cy="187.4" r="1.94"/>
<circle class="y2" cx="188.0" cy="210.0" r="1.94"/>
<circle class="y2" cx="203.8" cy="174.9" r="1.94"/>
<circle class="y2" cx="174.8" cy="202.5" r="1.94"/>
<circle class="y2" cx="193.0" cy="164.9" r="1.94"/>
<circle class="y2" cx="209.9" cy="190.0" r="1.95"/>
<circle class="y2" cx="207.6" cy="192.6" r="1.95"/>
<circle class="y2" cx="180.2" cy="205.2" r="1.95"/>
<circle class="y2" cx="205.2" cy="195.1" r="1.95"/>
<circle class="y2" cx="198.4" cy="167.4" r="1.95"/>
<circle class="y2" cx="169.4" cy="195.1" r="1.95"/>
<circle class="y2" cx="206.9" cy="180.0" r="1.95"/>
<circle class="y2" cx="202.8" cy="197.7" r="1.95"/>
<circle class="y2" cx="168.6" cy="182.6" r="1.95"/>
<circle class="y2" cx="200.5" cy="200.2" r="1.95"/>
<circle class="y2" cx="185.6" cy="207.8" r="1.95"/>
<circle class="y2" cx="198.1" cy="202.8" r="1.95"/>
<circle class="y2" cx="195.8" cy="205.4" r="1.96"/>
<circle class="y2" cx="201.5" cy="172.5" r="1.96"/>
<circle class="y2" cx="172.3" cy="200.3" r="1.96"/>
<circle class="y2" cx="210.0" cy="185.2" r="1.96"/>
<circle class="y2" cx="193.4" cy="208.0" r="1.96"/>
<circle class="y2" cx="188.3" cy="165.0" r="1.96"/>
<circle class="y2" cx="191.0" cy="210.5" r="1.96"/>
<circle class="y2" cx="169.2" cy="190.3" r="1.96"/>
<circle class="y2" cx="177.7" cy="203.0" r="1.96"/>
<circle class="y2" cx="196.1" cy="165.0" r="1.96"/>
<circle class="y2" cx="204.6" cy="177.7" r="1.96"/>
<circle class="y2" cx="183.2" cy="205.7" r="1.97"/>
<circle class="y2" cx="199.2" cy="170.2" r="1.97"/>
<circle class="y2" cx="169.8" cy="198.1" r="1.97"/>
<circle class="y2" cx="207.8" cy="182.9" r="1.97"/>
<circle class="y2" cx="169.1" cy="185.5" r="1.97"/>
<circle class="y2" cx="188.6" cy="208.4" r="1.97"/>
<circle class="y2" cx="183.5" cy="165.1" r="1.97"/>
<circle class="y2" cx="175.3" cy="200.8" r="1.98"/>
<circle class="y2" cx="202.3" cy="175.3" r="1.98"/>
<circle class="y2" cx="191.4" cy="165.1" r="1.98"/>
<circle class="y2" cx="210.9" cy="188.1" r="1.98"/>
<circle class="y2" cx="208.6" cy="190.7" r="1.98"/>
<circle class="y2" cx="180.7" cy="203.5" r="1.98"/>
<circle class="y2" cx="206.2" cy="193.3" r="1.98"/>
<circle class="y2" cx="169.7" cy="193.3" r="1.98"/>
<circle class="y2" cx="203.8" cy="195.9" r="1.98"/>
<circle class="y2" cx="196.9" cy="167.7" r="1.98"/>
<circle class="y2" cx="205.5" cy="180.6" r="1.98"/>
<circle class="y2" cx="169.0" cy="180.6" r="1.99"/>
<circle class="y2" cx="201.4" cy="198.5" r="1.99"/>
<circle class="y2" cx="186.2" cy="206.2" r="1.99"/>
<circle class="y2" cx="199.0" cy="201.1" r="1.99"/>
<circle class="y2" cx="196.6" cy="203.7" r="1.99"/>
<circle class="y2" cx="172.8" cy="198.6" r="1.99"/>
<circle class="y2" cx="194.2" cy="206.3" r="1.99"/>
<circle class="y2" cx="200.0" cy="172.9" r="1.99"/>
<circle class="y2" cx="208.7" cy="185.8" r="1.99"/>
<circle class="y2" cx="191.7" cy="209.0" r="1.99"/>
<circle class="y2" cx="186.5" cy="165.2" r="1.99"/>
<circle class="y2" cx="169.6" cy="188.4" r="1.99"/>
<circle class="y2" cx="178.2" cy="201.3" r="2.00"/>
<circle class="y2" cx="194.5" cy="165.3" r="2.00"/>
<circle class="y2" cx="203.2" cy="178.2" r="2.00"/>
<circle class="y2" cx="183.8" cy="204.0" r="2.00"/>
<circle class="y2" cx="170.2" cy="196.4" r="2.00"/>
<circle class="y2" cx="197.7" cy="170.5" r="2.01"/>
<circle class="y2" cx="206.4" cy="183.5" r="2.01"/>
<circle class="y2" cx="169.5" cy="183.5" r="2.01"/>
<circle class="y2" cx="189.3" cy="206.8" r="2.01"/>
<circle class="y2" cx="175.7" cy="199.1" r="2.01"/>
<circle class="y2" cx="181.7" cy="165.4" r="2.01"/>
<circle class="y2" cx="179.2" cy="168.0" r="2.01"/>
<circle class="y2" cx="200.8" cy="175.8" r="2.01"/>
<circle class="y2" cx="176.7" cy="170.6" r="2.01"/>
<circle class="y2" cx="189.7" cy="165.4" r="2.01"/>
<circle class="y2" cx="209.6" cy="188.8" r="2.01"/>
<circle class="y2" cx="181.3" cy="201.8" r="2.02"/>
<circle class="y2" cx="174.3" cy="173.2" r="2.02"/>
<circle class="y2" cx="207.2" cy="191.4" r="2.02"/>
<circle class="y2" cx="170.1" cy="191.4" r="2.02"/>
<circle class="y2" cx="171.8" cy="175.8" r="2.02"/>
<circle class="y2" cx="204.7" cy="194.1" r="2.02"/>
<circle class="y2" cx="169.4" cy="178.5" r="2.02"/>
<circle class="y2" cx="202.3" cy="196.7" r="2.02"/>
<circle class="y2" cx="195.3" cy="168.0" r="2.02"/>
<circle class="y2" cx="204.0" cy="181.1" r="2.02"/>
<circle class="y2" cx="186.9" cy="204.6" r="2.02"/>
<circle class="y2" cx="199.8" cy="199.4" r="2.02"/>
<circle class="y2" cx="197.4" cy="202.0" r="2.02"/>
<circle class="y2" cx="173.2" cy="196.8" r="2.02"/>
<circle class="y2" cx="195.0" cy="204.7" r="2.02"/>
<circle class="y2" cx="192.5" cy="207.3" r="2.03"/>
<circle class="y2" cx="198.5" cy="173.3" r="2.03"/>
<circle class="y2" cx="207.3" cy="186.4" r="2.03"/>
<circle class="y2" cx="170.0" cy="186.4" r="2.03"/>
<circle class="y2" cx="178.8" cy="199.6" r="2.03"/>
<circle class="y2" cx="184.7" cy="165.5" r="2.03"/>
<circle class="y2" cx="182.3" cy="168.1" r="2.03"/>
<circle class="y2" cx="179.8" cy="170.8" r="2.03"/>
<circle class="y2" cx="192.9" cy="165.5" r="2.03"/>
<circle class="y2" cx="201.7" cy="178.7" r="2.03"/>
<circle class="y2" cx="184.4" cy="202.3" r="2.04"/>
<circle class="y2" cx="177.3" cy="173.4" r="2.04"/>
<circle class="y2" cx="174.8" cy="176.1" r="2.04"/>
<circle class="y2" cx="170.6" cy="194.5" r="2.04"/>
<circle class="y2" cx="172.4" cy="178.7" r="2.04"/>
<circle class="y2" cx="169.9" cy="181.4" r="2.04"/>
<circle class="y2" cx="190.0" cy="205.1" r="2.04"/>
<circle class="y2" cx="196.1" cy="170.9" r="2.04"/>
<circle class="y2" cx="204.9" cy="184.1" r="2.04"/>
<circle class="y2" cx="176.2" cy="197.3" r="2.04"/>
<circle class="y2" cx="199.3" cy="176.2" r="2.05"/>
<circle class="y2" cx="181.9" cy="200.1" r="2.05"/>
<circle class="y2" cx="187.9" cy="165.7" r="2.05"/>
<circle class="y2" cx="208.2" cy="189.5" r="2.05"/>
<circle class="y2" cx="170.5" cy="189.5" r="2.05"/>
<circle class="y2" cx="185.4" cy="168.3" r="2.05"/>
<circle class="y2" cx="205.7" cy="192.2" r="2.05"/>
<circle class="y2" cx="182.9" cy="171.0" r="2.05"/>
<circle class="y2" cx="203.2" cy="194.9" r="2.05"/>
<circle class="y2" cx="187.6" cy="202.9" r="2.06"/>
<circle class="y2" cx="180.4" cy="173.7" r="2.06"/>
<circle class="y2" cx="200.7" cy="197.6" r="2.06"/>
<circle class="y2" cx="193.6" cy="168.4" r="2.06"/>
<circle class="y2" cx="202.5" cy="181.6" r="2.06"/>
<circle class="y2" cx="177.9" cy="176.3" r="2.06"/>
<circle class="y2" cx="198.3" cy="200.3" r="2.06"/>
<circle class="y2" cx="173.6" cy="195.0" r="2.06"/>
<circle class="y2" cx="175.4" cy="179.0" r="2.06"/>
<circle class="y2" cx="195.8" cy="203.0" r="2.06"/>
<circle class="y2" cx="172.9" cy="181.7" r="2.06"/>
<circle class="y2" cx="193.3" cy="205.7" r="2.06"/>
<circle class="y2" cx="170.4" cy="184.4" r="2.06"/>
<circle class="y2" cx="196.9" cy="173.8" r="2.06"/>
<circle class="y2" cx="179.3" cy="197.7" r="2.06"/>
<circle class="y2" cx="205.8" cy="187.1" r="2.07"/>
<circle class="y2" cx="185.0" cy="200.6" r="2.07"/>
<circle class="y2" cx="191.1" cy="165.8" r="2.07"/>
<circle class="y2" cx="200.1" cy="179.2" r="2.07"/>
<circle class="y2" cx="188.6" cy="168.5" r="2.07"/>
<circle class="y2" cx="171.0" cy="192.6" r="2.07"/>
<circle class="y2" cx="186.1" cy="171.2" r="2.08"/>
<circle class="y2" cx="190.8" cy="203.4" r="2.08"/>
<circle class="y2" cx="183.6" cy="173.9" r="2.08"/>
<circle class="y2" cx="181.0" cy="176.6" r="2.08"/>
<circle class="y2" cx="194.4" cy="171.2" r="2.08"/>
<circle class="y2" cx="176.7" cy="195.4" r="2.08"/>
<circle class="y2" cx="203.4" cy="184.7" r="2.08"/>
<circle class="y2" cx="178.5" cy="179.3" r="2.08"/>
<circle class="y2" cx="176.0" cy="182.0" r="2.08"/>
<circle class="y2" cx="173.4" cy="184.8" r="2.08"/>
<circle class="y2" cx="182.5" cy="198.2" r="2.09"/>
<circle class="y2" cx="170.9" cy="187.5" r="2.09"/>
<circle class="y2" cx="197.7" cy="176.7" r="2.09"/>
<circle class="y2" cx="206.7" cy="190.2" r="2.09"/>
<circle class="y2" cx="204.2" cy="192.9" r="2.09"/>
<circle class="y2" cx="188.3" cy="201.1" r="2.09"/>
<circle class="y2" cx="201.7" cy="195.7" r="2.09"/>
<circle class="y2" cx="199.2" cy="198.4" r="2.09"/>
<circle class="y2" cx="191.9" cy="168.7" r="2.09"/>
<circle class="y2" cx="174.1" cy="193.0" r="2.09"/>
<circle class="y2" cx="201.0" cy="182.2" r="2.10"/>
<circle class="y2" cx="196.6" cy="201.2" r="2.10"/>
<circle class="y2" cx="189.3" cy="171.4" r="2.10"/>
<circle class="y2" cx="194.1" cy="203.9" r="2.10"/>
<circle class="y2" cx="186.8" cy="174.1" r="2.10"/>
<circle class="y2" cx="184.2" cy="176.9" r="2.10"/>
<circle class="y2" cx="179.9" cy="195.9" r="2.10"/>
<circle class="y2" cx="181.7" cy="179.6" r="2.10"/>
<circle class="y2" cx="195.2" cy="174.2" r="2.10"/>
<circle class="y2" cx="204.3" cy="187.8" r="2.10"/>
<circle class="y2" cx="179.1" cy="182.4" r="2.10"/>
<circle class="y2" cx="201.8" cy="190.5" r="2.11"/>
<circle class="y2" cx="176.6" cy="185.1" r="2.11"/>
<circle class="y2" cx="185.7" cy="198.7" r="2.11"/>
<circle class="y2" cx="199.2" cy="193.3" r="2.11"/>
<circle class="y2" cx="174.0" cy="187.9" r="2.11"/>
<circle class="y2" cx="196.7" cy="196.1" r="2.11"/>
<circle class="y2" cx="171.4" cy="190.6" r="2.11"/>
<circle class="y2" cx="198.5" cy="179.7" r="2.11"/>
<circle class="y2" cx="194.1" cy="198.8" r="2.11"/>
<circle class="y2" cx="191.6" cy="201.6" r="2.11"/>
<circle class="y2" cx="177.2" cy="193.5" r="2.12"/>
<circle class="y2" cx="192.7" cy="171.6" r="2.12"/>
<circle class="y2" cx="201.8" cy="185.3" r="2.12"/>
<circle class="y2" cx="190.1" cy="174.4" r="2.12"/>
<circle class="y2" cx="199.3" cy="188.1" r="2.12"/>
<circle class="y2" cx="187.5" cy="177.1" r="2.12"/>
<circle class="y2" cx="183.1" cy="196.3" r="2.12"/>
<circle class="y2" cx="196.7" cy="190.9" r="2.12"/>
<circle class="y2" cx="184.9" cy="179.9" r="2.12"/>
<circle class="y2" cx="194.1" cy="193.6" r="2.13"/>
<circle class="y2" cx="182.3" cy="182.7" r="2.13"/>
<circle class="y2" cx="196.0" cy="177.2" r="2.13"/>
<circle class="y2" cx="191.6" cy="196.4" r="2.13"/>
<circle class="y2" cx="205.2" cy="190.9" r="2.13"/>
<circle class="y2" cx="179.8" cy="185.5" r="2.13"/>
<circle class="y2" cx="189.0" cy="199.2" r="2.13"/>
<circle class="y2" cx="202.7" cy="193.7" r="2.13"/>
<circle class="y2" cx="177.2" cy="188.2" r="2.13"/>
<circle class="y2" cx="200.1" cy="196.5" r="2.13"/>
<circle class="y2" cx="174.6" cy="191.0" r="2.13"/>
<circle class="y2" cx="197.5" cy="199.3" r="2.13"/>
<circle class="y2" cx="199.4" cy="182.8" r="2.13"/>
<circle class="y2" cx="194.9" cy="202.1" r="2.14"/>
<circle class="y2" cx="196.8" cy="185.6" r="2.14"/>
<circle class="y2" cx="180.5" cy="193.9" r="2.14"/>
<circle class="y2" cx="194.2" cy="188.4" r="2.14"/>
<circle class="y2" cx="191.6" cy="191.2" r="2.14"/>
<circle class="y2" cx="193.4" cy="174.6" r="2.14"/>
<circle class="y2" cx="189.0" cy="194.0" r="2.14"/>
<circle class="y2" cx="202.7" cy="188.5" r="2.14"/>
<circle class="y2" cx="190.8" cy="177.4" r="2.14"/>
<circle class="y2" cx="186.4" cy="196.8" r="2.15"/>
<circle class="y2" cx="200.2" cy="191.3" r="2.15"/>
<circle class="y2" cx="188.2" cy="180.2" r="2.15"/>
<circle class="y2" cx="197.6" cy="194.1" r="2.15"/>
<circle class="y2" cx="185.6" cy="183.0" r="2.15"/>
<circle class="y2" cx="195.0" cy="196.9" r="2.15"/>
<circle class="y2" cx="183.0" cy="185.8" r="2.15"/>
<circle class="y2" cx="196.8" cy="180.3" r="2.15"/>
<circle class="y2" cx="192.3" cy="199.7" r="2.15"/>
<circle class="y2" cx="180.4" cy="188.6" r="2.15"/>
<circle class="y2" cx="194.2" cy="183.1" r="2.15"/>
<circle class="y2" cx="177.8" cy="191.5" r="2.15"/>
<circle class="y2" cx="191.6" cy="185.9" r="2.16"/>
<circle class="y2" cx="189.0" cy="188.7" r="2.16"/>
<circle class="y2" cx="186.4" cy="191.5" r="2.16"/>
<circle class="y2" cx="200.2" cy="186.0" r="2.16"/>
<circle class="y2" cx="183.7" cy="194.4" r="2.16"/>
<circle class="y2" cx="197.6" cy="188.8" r="2.16"/>
<circle class="y2" cx="195.0" cy="191.6" r="2.16"/>
<circle class="y2" cx="192.4" cy="194.5" r="2.17"/>
<circle class="y2" cx="194.2" cy="177.7" r="2.17"/>
<circle class="y2" cx="189.7" cy="197.3" r="2.17"/>
<circle class="y2" cx="191.6" cy="180.5" r="2.17"/>
<circle class="y2" cx="189.0" cy="183.4" r="2.17"/>
<circle class="y2" cx="186.3" cy="186.2" r="2.17"/>
<circle class="y2" cx="183.7" cy="189.1" r="2.18"/>
<circle class="y2" cx="197.7" cy="183.4" r="2.18"/>
<circle class="y2" cx="181.1" cy="191.9" r="2.18"/>
<circle class="y2" cx="195.0" cy="186.3" r="2.18"/>
<circle class="y2" cx="192.4" cy="189.1" r="2.18"/>
<circle class="y2" cx="189.7" cy="192.0" r="2.18"/>
<circle class="y2" cx="187.1" cy="194.8" r="2.18"/>
<circle class="y2" cx="195.1" cy="180.9" r="2.19"/>
<circle class="y2" cx="192.4" cy="183.7" r="2.19"/>
<circle class="y2" cx="189.8" cy="186.6" r="2.20"/>
<circle class="y2" cx="187.1" cy="189.5" r="2.20"/>
<circle class="y2" cx="184.4" cy="192.3" r="2.20"/>
<circle class="o2" cx="413.5" cy="165.7" r="1.76"/>
<circle class="o2" cx="416.5" cy="165.9" r="1.76"/>
<circle class="o2" cx="419.5" cy="166.1" r="1.77"/>
<circle class="o2" cx="422.6" cy="166.3" r="1.77"/>
<circle class="o2" cx="425.6" cy="166.5" r="1.78"/>
<circle class="o2" cx="408.5" cy="166.7" r="1.78"/>
<circle class="o2" cx="428.6" cy="166.8" r="1.78"/>
<circle class="o2" cx="411.5" cy="166.9" r="1.78"/>
<circle class="o2" cx="431.7" cy="167.0" r="1.79"/>
<circle class="o2" cx="414.6" cy="167.1" r="1.79"/>
<circle class="o2" cx="434.8" cy="167.2" r="1.79"/>
<circle class="o2" cx="417.6" cy="167.3" r="1.79"/>
<circle class="o2" cx="420.7" cy="167.6" r="1.80"/>
<circle class="o2" cx="396.6" cy="190.6" r="1.80"/>
<circle class="o2" cx="423.7" cy="167.8" r="1.80"/>
<circle class="o2" cx="406.4" cy="167.9" r="1.80"/>
<circle class="o2" cx="426.8" cy="168.0" r="1.81"/>
<circle class="o2" cx="409.5" cy="168.2" r="1.81"/>
<circle class="o2" cx="429.9" cy="168.2" r="1.81"/>
<circle class="o2" cx="412.5" cy="168.4" r="1.81"/>
<circle class="o2" cx="433.1" cy="168.5" r="1.82"/>
<circle class="o2" cx="415.6" cy="168.6" r="1.82"/>
<circle class="o2" cx="436.2" cy="168.7" r="1.82"/>
<circle class="o2" cx="418.7" cy="168.8" r="1.82"/>
<circle class="o2" cx="439.4" cy="168.9" r="1.83"/>
<circle class="o2" cx="421.8" cy="169.1" r="1.83"/>
<circle class="o2" cx="397.2" cy="195.6" r="1.83"/>
<circle class="o2" cx="404.3" cy="169.2" r="1.83"/>
<circle class="o2" cx="397.4" cy="192.5" r="1.83"/>
<circle class="o2" cx="425.0" cy="169.3" r="1.83"/>
<circle class="o2" cx="407.4" cy="169.5" r="1.84"/>
<circle class="o2" cx="428.1" cy="169.5" r="1.84"/>
<circle class="o2" cx="410.5" cy="169.7" r="1.84"/>
<circle class="o2" cx="431.3" cy="169.8" r="1.84"/>
<circle class="o2" cx="413.6" cy="169.9" r="1.85"/>
<circle class="o2" cx="434.5" cy="170.0" r="1.85"/>
<circle class="o2" cx="416.7" cy="170.2" r="1.85"/>
<circle class="o2" cx="437.7" cy="170.2" r="1.85"/>
<circle class="o2" cx="419.9" cy="170.4" r="1.86"/>
<circle class="o2" cx="440.9" cy="170.5" r="1.86"/>
<circle class="o2" cx="402.0" cy="170.5" r="1.86"/>
<circle class="o2" cx="423.0" cy="170.6" r="1.86"/>
<circle class="o2" cx="398.0" cy="197.6" r="1.86"/>
<circle class="o2" cx="405.2" cy="170.8" r="1.86"/>
<circle class="o2" cx="398.2" cy="194.5" r="1.86"/>
<circle class="o2" cx="426.2" cy="170.9" r="1.87"/>
<circle class="o2" cx="408.3" cy="171.0" r="1.87"/>
<circle class="o2" cx="395.7" cy="184.6" r="1.87"/>
<circle class="o2" cx="429.4" cy="171.1" r="1.87"/>
<circle class="o2" cx="411.5" cy="171.3" r="1.87"/>
<circle class="o2" cx="432.7" cy="171.3" r="1.88"/>
<circle class="o2" cx="446.9" cy="195.3" r="1.88"/>
<circle class="o2" cx="414.7" cy="171.5" r="1.88"/>
<circle class="o2" cx="435.9" cy="171.6" r="1.88"/>
<circle class="o2" cx="417.9" cy="171.8" r="1.88"/>
<circle class="o2" cx="439.2" cy="171.8" r="1.89"/>
<circle class="o2" cx="399.7" cy="171.9" r="1.89"/>
<circle class="o2" cx="421.1" cy="172.0" r="1.89"/>
<circle class="o2" cx="442.4" cy="172.1" r="1.89"/>
<circle class="o2" cx="402.9" cy="172.2" r="1.89"/>
<circle class="o2" cx="424.3" cy="172.2" r="1.89"/>
<circle class="o2" cx="398.8" cy="199.7" r="1.89"/>
<circle class="o2" cx="406.1" cy="172.4" r="1.90"/>
<circle class="o2" cx="399.0" cy="196.5" r="1.90"/>
<circle class="o2" cx="427.6" cy="172.5" r="1.90"/>
<circle class="o2" cx="396.3" cy="189.7" r="1.90"/>
<circle class="o2" cx="409.3" cy="172.7" r="1.90"/>
<circle class="o2" cx="396.5" cy="186.5" r="1.90"/>
<circle class="o2" cx="445.0" cy="200.3" r="1.90"/>
<circle class="o2" cx="430.8" cy="172.7" r="1.90"/>
<circle class="o2" cx="445.3" cy="197.0" r="1.91"/>
<circle class="o2" cx="412.5" cy="172.9" r="1.91"/>
<circle class="o2" cx="434.1" cy="173.0" r="1.91"/>
<circle class="o2" cx="415.8" cy="173.2" r="1.91"/>
<circle class="o2" cx="437.4" cy="173.2" r="1.91"/>
<circle class="o2" cx="397.4" cy="173.3" r="1.92"/>
<circle class="o2" cx="419.0" cy="173.4" r="1.92"/>
<circle class="o2" cx="440.7" cy="173.5" r="1.92"/>
<circle class="o2" cx="400.6" cy="173.6" r="1.92"/>
<circle class="o2" cx="422.3" cy="173.7" r="1.92"/>
<circle class="o2" cx="444.1" cy="173.7" r="1.92"/>
<circle class="o2" cx="403.8" cy="173.8" r="1.93"/>
<circle class="o2" cx="425.6" cy="173.9" r="1.93"/>
<circle class="o2" cx="399.6" cy="201.9" r="1.93"/>
<circle class="o2" cx="407.1" cy="174.1" r="1.93"/>
<circle class="o2" cx="399.8" cy="198.6" r="1.93"/>
<circle class="o2" cx="443.3" cy="202.1" r="1.93"/>
<circle class="o2" cx="428.9" cy="174.2" r="1.93"/>
<circle class="o2" cx="397.1" cy="191.7" r="1.93"/>
<circle class="o2" cx="443.6" cy="198.9" r="1.94"/>
<circle class="o2" cx="410.3" cy="174.3" r="1.94"/>
<circle class="o2" cx="397.3" cy="188.4" r="1.94"/>
<circle class="o2" cx="432.2" cy="174.4" r="1.94"/>
<circle class="o2" cx="413.6" cy="174.6" r="1.94"/>
<circle class="o2" cx="394.7" cy="178.1" r="1.94"/>
<circle class="o2" cx="435.6" cy="174.7" r="1.94"/>
<circle class="o2" cx="416.9" cy="174.9" r="1.95"/>
<circle class="o2" cx="439.0" cy="175.0" r="1.95"/>
<circle class="o2" cx="398.2" cy="175.0" r="1.95"/>
<circle class="o2" cx="447.9" cy="189.2" r="1.95"/>
<circle class="o2" cx="420.3" cy="175.1" r="1.95"/>
<circle class="o2" cx="442.4" cy="175.2" r="1.95"/>
<circle class="o2" cx="401.5" cy="175.3" r="1.96"/>
<circle class="o2" cx="423.6" cy="175.4" r="1.96"/>
<circle class="o2" cx="445.8" cy="175.5" r="1.96"/>
<circle class="o2" cx="404.8" cy="175.6" r="1.96"/>
<circle class="o2" cx="441.5" cy="204.1" r="1.96"/>
<circle class="o2" cx="427.0" cy="175.7" r="1.96"/>
<circle class="o2" cx="400.5" cy="204.2" r="1.96"/>
<circle class="o2" cx="441.8" cy="200.7" r="1.97"/>
<circle class="o2" cx="408.1" cy="175.8" r="1.97"/>
<circle class="o2" cx="430.3" cy="175.9" r="1.97"/>
<circle class="o2" cx="397.9" cy="193.8" r="1.97"/>
<circle class="o2" cx="411.4" cy="176.1" r="1.97"/>
<circle class="o2" cx="398.1" cy="190.4" r="1.97"/>
<circle class="o2" cx="433.7" cy="176.2" r="1.97"/>
<circle class="o2" cx="395.3" cy="183.4" r="1.97"/>
<circle class="o2" cx="414.8" cy="176.4" r="1.98"/>
<circle class="o2" cx="395.5" cy="180.0" r="1.98"/>
<circle class="o2" cx="445.9" cy="194.3" r="1.98"/>
<circle class="o2" cx="437.1" cy="176.5" r="1.98"/>
<circle class="o2" cx="395.7" cy="176.5" r="1.98"/>
<circle class="o2" cx="446.2" cy="190.9" r="1.98"/>
<circle class="o2" cx="418.1" cy="176.6" r="1.98"/>
<circle class="o2" cx="440.6" cy="176.7" r="1.99"/>
<circle class="o2" cx="399.1" cy="176.8" r="1.99"/>
<circle class="o2" cx="421.5" cy="176.9" r="1.99"/>
<circle class="o2" cx="444.0" cy="177.0" r="1.99"/>
<circle class="o2" cx="402.4" cy="177.1" r="1.99"/>
<circle class="o2" cx="439.7" cy="206.0" r="1.99"/>
<circle class="o2" cx="424.9" cy="177.2" r="2.00"/>
<circle class="o2" cx="447.5" cy="177.3" r="2.00"/>
<circle class="o2" cx="440.1" cy="202.7" r="2.00"/>
<circle class="o2" cx="405.7" cy="177.4" r="2.00"/>
<circle class="o2" cx="428.4" cy="177.5" r="2.00"/>
<circle class="o2" cx="401.4" cy="206.5" r="2.00"/>
<circle class="o2" cx="409.1" cy="177.6" r="2.00"/>
<circle class="o2" cx="401.6" cy="203.1" r="2.01"/>
<circle class="o2" cx="431.8" cy="177.7" r="2.01"/>
<circle class="o2" cx="398.7" cy="195.9" r="2.01"/>
<circle class="o2" cx="412.5" cy="177.9" r="2.01"/>
<circle class="o2" cx="399.0" cy="192.5" r="2.01"/>
<circle class="o2" cx="444.2" cy="196.2" r="2.01"/>
<circle class="o2" cx="435.3" cy="178.0" r="2.01"/>
<circle class="o2" cx="396.1" cy="185.3" r="2.01"/>
<circle class="o2" cx="444.5" cy="192.7" r="2.01"/>
<circle class="o2" cx="415.9" cy="178.2" r="2.02"/>
<circle class="o2" cx="396.3" cy="181.9" r="2.02"/>
<circle class="o2" cx="438.8" cy="178.3" r="2.02"/>
<circle class="o2" cx="396.5" cy="178.4" r="2.02"/>
<circle class="o2" cx="419.4" cy="178.5" r="2.02"/>
<circle class="o2" cx="442.3" cy="178.6" r="2.02"/>
<circle class="o2" cx="399.9" cy="178.7" r="2.03"/>
<circle class="o2" cx="437.9" cy="208.1" r="2.03"/>
<circle class="o2" cx="422.8" cy="178.8" r="2.03"/>
<circle class="o2" cx="445.8" cy="178.9" r="2.03"/>
<circle class="o2" cx="438.2" cy="204.6" r="2.03"/>
<circle class="o2" cx="403.3" cy="178.9" r="2.03"/>
<circle class="o2" cx="449.0" cy="182.6" r="2.03"/>
<circle class="o2" cx="426.3" cy="179.0" r="2.03"/>
<circle class="o2" cx="406.8" cy="179.2" r="2.04"/>
<circle class="o2" cx="429.8" cy="179.3" r="2.04"/>
<circle class="o2" cx="410.2" cy="179.5" r="2.04"/>
<circle class="o2" cx="442.4" cy="198.1" r="2.04"/>
<circle class="o2" cx="402.6" cy="205.5" r="2.04"/>
<circle class="o2" cx="433.3" cy="179.6" r="2.05"/>
<circle class="o2" cx="399.6" cy="198.2" r="2.05"/>
<circle class="o2" cx="405.8" cy="209.3" r="2.05"/>
<circle class="o2" cx="442.7" cy="194.6" r="2.05"/>
<circle class="o2" cx="402.8" cy="202.0" r="2.05"/>
<circle class="o2" cx="413.7" cy="179.8" r="2.05"/>
<circle class="o2" cx="399.9" cy="194.7" r="2.05"/>
<circle class="o2" cx="406.0" cy="205.8" r="2.05"/>
<circle class="o2" cx="436.9" cy="179.9" r="2.05"/>
<circle class="o2" cx="396.9" cy="187.3" r="2.05"/>
<circle class="o2" cx="409.2" cy="209.7" r="2.05"/>
<circle class="o2" cx="417.2" cy="180.1" r="2.05"/>
<circle class="o2" cx="397.2" cy="183.8" r="2.06"/>
<circle class="o2" cx="440.4" cy="180.2" r="2.06"/>
<circle class="o2" cx="412.7" cy="210.1" r="2.06"/>
<circle class="o2" cx="397.4" cy="180.3" r="2.06"/>
<circle class="o2" cx="436.0" cy="210.2" r="2.06"/>
<circle class="o2" cx="420.7" cy="180.4" r="2.06"/>
<circle class="o2" cx="446.9" cy="187.9" r="2.06"/>
<circle class="o2" cx="444.0" cy="180.5" r="2.06"/>
<circle class="o2" cx="436.3" cy="206.7" r="2.06"/>
<circle class="o2" cx="416.2" cy="210.4" r="2.06"/>
<circle class="o2" cx="400.9" cy="180.6" r="2.06"/>
<circle class="o2" cx="447.3" cy="184.3" r="2.07"/>
<circle class="o2" cx="424.2" cy="180.7" r="2.07"/>
<circle class="o2" cx="447.6" cy="180.8" r="2.07"/>
<circle class="o2" cx="419.7" cy="210.8" r="2.07"/>
<circle class="o2" cx="404.3" cy="180.9" r="2.07"/>
<circle class="o2" cx="427.7" cy="181.0" r="2.07"/>
<circle class="o2" cx="423.3" cy="211.2" r="2.08"/>
<circle class="o2" cx="407.8" cy="181.2" r="2.08"/>
<circle class="o2" cx="440.5" cy="200.0" r="2.08"/>
<circle class="o2" cx="431.3" cy="181.3" r="2.08"/>
<circle class="o2" cx="440.8" cy="196.5" r="2.08"/>
<circle class="o2" cx="426.8" cy="211.6" r="2.08"/>
<circle class="o2" cx="411.3" cy="181.5" r="2.08"/>
<circle class="o2" cx="403.5" cy="207.9" r="2.08"/>
<circle class="o2" cx="434.9" cy="181.6" r="2.09"/>
<circle class="o2" cx="400.5" cy="200.5" r="2.09"/>
<circle class="o2" cx="403.8" cy="204.4" r="2.09"/>
<circle class="o2" cx="430.4" cy="212.0" r="2.09"/>
<circle class="o2" cx="414.9" cy="181.8" r="2.09"/>
<circle class="o2" cx="400.8" cy="196.9" r="2.09"/>
<circle class="o2" cx="407.1" cy="208.3" r="2.09"/>
<circle class="o2" cx="438.5" cy="181.9" r="2.09"/>
<circle class="o2" cx="397.8" cy="189.5" r="2.09"/>
<circle class="o2" cx="430.7" cy="208.5" r="2.09"/>
<circle class="o2" cx="407.3" cy="204.8" r="2.09"/>
<circle class="o2" cx="418.4" cy="182.1" r="2.10"/>
<circle class="o2" cx="398.0" cy="185.9" r="2.10"/>
<circle class="o2" cx="445.1" cy="189.7" r="2.10"/>
<circle class="o2" cx="410.6" cy="208.7" r="2.10"/>
<circle class="o2" cx="442.2" cy="182.2" r="2.10"/>
<circle class="o2" cx="434.3" cy="208.8" r="2.10"/>
<circle class="o2" cx="398.3" cy="182.3" r="2.10"/>
<circle class="o2" cx="445.5" cy="186.1" r="2.10"/>
<circle class="o2" cx="410.9" cy="205.1" r="2.10"/>
<circle class="o2" cx="422.0" cy="182.4" r="2.10"/>
<circle class="o2" cx="434.6" cy="205.3" r="2.10"/>
<circle class="o2" cx="414.2" cy="209.1" r="2.10"/>
<circle class="o2" cx="445.8" cy="182.5" r="2.10"/>
<circle class="o2" cx="401.8" cy="182.6" r="2.11"/>
<circle class="o2" cx="414.4" cy="205.5" r="2.11"/>
<circle class="o2" cx="425.6" cy="182.7" r="2.11"/>
<circle class="o2" cx="417.7" cy="209.5" r="2.11"/>
<circle class="o2" cx="405.4" cy="182.9" r="2.11"/>
<circle class="o2" cx="438.6" cy="202.1" r="2.11"/>
<circle class="o2" cx="418.0" cy="205.9" r="2.11"/>
<circle class="o2" cx="429.2" cy="183.0" r="2.11"/>
<circle class="o2" cx="421.3" cy="209.9" r="2.12"/>
<circle class="o2" cx="438.9" cy="198.5" r="2.12"/>
<circle class="o2" cx="408.9" cy="183.2" r="2.12"/>
<circle class="o2" cx="421.6" cy="206.3" r="2.12"/>
<circle class="o2" cx="432.9" cy="183.3" r="2.12"/>
<circle class="o2" cx="425.0" cy="210.2" r="2.12"/>
<circle class="o2" cx="412.5" cy="183.5" r="2.12"/>
<circle class="o2" cx="425.3" cy="206.6" r="2.13"/>
<circle class="o2" cx="436.6" cy="183.6" r="2.13"/>
<circle class="o2" cx="428.6" cy="210.6" r="2.13"/>
<circle class="o2" cx="416.1" cy="183.8" r="2.13"/>
<circle class="o2" cx="443.3" cy="191.5" r="2.13"/>
<circle class="o2" cx="401.8" cy="199.3" r="2.13"/>
<circle class="o2" cx="428.9" cy="207.0" r="2.13"/>
<circle class="o2" cx="440.2" cy="183.9" r="2.13"/>
<circle class="o2" cx="398.7" cy="191.7" r="2.13"/>
<circle class="o2" cx="405.1" cy="203.3" r="2.13"/>
<circle class="o2" cx="432.3" cy="211.0" r="2.13"/>
<circle class="o2" cx="443.6" cy="187.9" r="2.14"/>
<circle class="o2" cx="402.0" cy="195.6" r="2.14"/>
<circle class="o2" cx="408.4" cy="207.3" r="2.14"/>
<circle class="o2" cx="419.8" cy="184.1" r="2.14"/>
<circle class="o2" cx="398.9" cy="188.0" r="2.14"/>
<circle class="o2" cx="405.4" cy="199.6" r="2.14"/>
<circle class="o2" cx="432.6" cy="207.4" r="2.14"/>
<circle class="o2" cx="444.0" cy="184.2" r="2.14"/>
<circle class="o2" cx="408.7" cy="203.7" r="2.14"/>
<circle class="o2" cx="399.2" cy="184.3" r="2.14"/>
<circle class="o2" cx="412.0" cy="207.7" r="2.14"/>
<circle class="o2" cx="423.4" cy="184.4" r="2.14"/>
<circle class="o2" cx="412.3" cy="204.0" r="2.15"/>
<circle class="o2" cx="402.8" cy="184.6" r="2.15"/>
<circle class="o2" cx="436.6" cy="204.2" r="2.15"/>
<circle class="o2" cx="415.7" cy="208.1" r="2.15"/>
<circle class="o2" cx="427.1" cy="184.8" r="2.15"/>
<circle class="o2" cx="436.9" cy="200.5" r="2.15"/>
<circle class="o2" cx="416.0" cy="204.4" r="2.15"/>
<circle class="o2" cx="406.4" cy="185.0" r="2.16"/>
<circle class="o2" cx="419.4" cy="208.4" r="2.16"/>
<circle class="o2" cx="430.8" cy="185.1" r="2.16"/>
<circle class="o2" cx="419.6" cy="204.8" r="2.16"/>
<circle class="o2" cx="410.1" cy="185.3" r="2.16"/>
<circle class="o2" cx="423.0" cy="208.8" r="2.16"/>
<circle class="o2" cx="434.5" cy="185.4" r="2.16"/>
<circle class="o2" cx="423.3" cy="205.2" r="2.17"/>
<circle class="o2" cx="413.7" cy="185.6" r="2.17"/>
<circle class="o2" cx="441.4" cy="193.5" r="2.17"/>
<circle class="o2" cx="426.7" cy="209.2" r="2.17"/>
<circle class="o2" cx="438.3" cy="185.7" r="2.17"/>
<circle class="o2" cx="441.7" cy="189.8" r="2.17"/>
<circle class="o2" cx="427.1" cy="205.6" r="2.17"/>
<circle class="o2" cx="417.4" cy="185.9" r="2.18"/>
<circle class="o2" cx="402.8" cy="201.7" r="2.18"/>
<circle class="o2" cx="442.0" cy="186.0" r="2.18"/>
<circle class="o2" cx="399.6" cy="193.9" r="2.18"/>
<circle class="o2" cx="403.0" cy="198.0" r="2.18"/>
<circle class="o2" cx="430.8" cy="205.9" r="2.18"/>
<circle class="o2" cx="421.1" cy="186.3" r="2.18"/>
<circle class="o2" cx="399.9" cy="190.2" r="2.18"/>
<circle class="o2" cx="406.4" cy="202.1" r="2.18"/>
<circle class="o2" cx="431.1" cy="202.2" r="2.18"/>
<circle class="o2" cx="400.2" cy="186.5" r="2.19"/>
<circle class="o2" cx="406.7" cy="198.4" r="2.19"/>
<circle class="o2" cx="424.9" cy="186.6" r="2.19"/>
<circle class="o2" cx="410.1" cy="202.5" r="2.19"/>
<circle class="o2" cx="434.9" cy="202.6" r="2.19"/>
<circle class="o2" cx="403.8" cy="186.8" r="2.19"/>
<circle class="o2" cx="410.4" cy="198.8" r="2.19"/>
<circle class="o2" cx="428.6" cy="186.9" r="2.20"/>
<circle class="o2" cx="435.2" cy="198.9" r="2.20"/>
<circle class="o2" cx="413.8" cy="202.9" r="2.20"/>
<circle class="o2" cx="407.5" cy="187.1" r="2.20"/>
<circle class="o2" cx="414.1" cy="199.1" r="2.20"/>
<circle class="o2" cx="432.4" cy="187.3" r="2.20"/>
<circle class="o2" cx="417.6" cy="203.2" r="2.20"/>
<circle class="o2" cx="411.3" cy="187.5" r="2.21"/>
<circle class="o2" cx="439.4" cy="195.5" r="2.21"/>
<circle class="o2" cx="417.9" cy="199.5" r="2.21"/>
<circle class="o2" cx="436.2" cy="187.6" r="2.21"/>
<circle class="o2" cx="421.3" cy="203.6" r="2.21"/>
<circle class="o2" cx="439.7" cy="191.7" r="2.21"/>
<circle class="o2" cx="415.0" cy="187.8" r="2.21"/>
<circle class="o2" cx="421.7" cy="199.9" r="2.21"/>
<circle class="o2" cx="440.1" cy="187.9" r="2.22"/>
<circle class="o2" cx="425.1" cy="204.0" r="2.22"/>
<circle class="o2" cx="418.8" cy="188.2" r="2.22"/>
<circle class="o2" cx="425.4" cy="200.2" r="2.22"/>
<circle class="o2" cx="428.9" cy="204.4" r="2.22"/>
<circle class="o2" cx="422.6" cy="188.5" r="2.23"/>
<circle class="o2" cx="400.9" cy="192.5" r="2.23"/>
<circle class="o2" cx="429.3" cy="200.6" r="2.23"/>
<circle class="o2" cx="404.4" cy="196.7" r="2.23"/>
<circle class="o2" cx="432.8" cy="204.8" r="2.23"/>
<circle class="o2" cx="401.2" cy="188.7" r="2.23"/>
<circle class="o2" cx="407.8" cy="200.9" r="2.23"/>
<circle class="o2" cx="426.4" cy="188.8" r="2.23"/>
<circle class="o2" cx="404.6" cy="192.9" r="2.23"/>
<circle class="o2" cx="433.1" cy="201.0" r="2.24"/>
<circle class="o2" cx="408.1" cy="197.1" r="2.24"/>
<circle class="o2" cx="404.9" cy="189.1" r="2.24"/>
<circle class="o2" cx="411.6" cy="201.3" r="2.24"/>
<circle class="o2" cx="430.2" cy="189.2" r="2.24"/>
<circle class="o2" cx="411.9" cy="197.4" r="2.24"/>
<circle class="o2" cx="408.7" cy="189.4" r="2.25"/>
<circle class="o2" cx="437.3" cy="197.6" r="2.25"/>
<circle class="o2" cx="415.4" cy="201.6" r="2.25"/>
<circle class="o2" cx="434.1" cy="189.5" r="2.25"/>
<circle class="o2" cx="437.7" cy="193.7" r="2.25"/>
<circle class="o2" cx="415.7" cy="197.8" r="2.25"/>
<circle class="o2" cx="412.5" cy="189.8" r="2.25"/>
<circle class="o2" cx="419.3" cy="202.0" r="2.25"/>
<circle class="o2" cx="438.0" cy="189.9" r="2.26"/>
<circle class="o2" cx="419.6" cy="198.2" r="2.26"/>
<circle class="o2" cx="416.3" cy="190.1" r="2.26"/>
<circle class="o2" cx="423.1" cy="202.4" r="2.26"/>
<circle class="o2" cx="423.4" cy="198.6" r="2.27"/>
<circle class="o2" cx="420.2" cy="190.5" r="2.27"/>
<circle class="o2" cx="427.0" cy="202.8" r="2.27"/>
<circle class="o2" cx="427.3" cy="199.0" r="2.27"/>
<circle class="o2" cx="424.1" cy="190.8" r="2.28"/>
<circle class="o2" cx="401.9" cy="194.9" r="2.28"/>
<circle class="o2" cx="402.2" cy="191.1" r="2.28"/>
<circle class="o2" cx="431.2" cy="199.3" r="2.28"/>
<circle class="o2" cx="428.0" cy="191.2" r="2.28"/>
<circle class="o2" cx="405.8" cy="195.3" r="2.28"/>
<circle class="o2" cx="431.6" cy="195.4" r="2.29"/>
<circle class="o2" cx="406.0" cy="191.4" r="2.29"/>
<circle class="o2" cx="431.9" cy="191.5" r="2.29"/>
<circle class="o2" cx="409.6" cy="195.7" r="2.29"/>
<circle class="o2" cx="435.5" cy="195.8" r="2.29"/>
<circle class="o2" cx="409.9" cy="191.8" r="2.30"/>
<circle class="o2" cx="435.9" cy="191.9" r="2.30"/>
<circle class="o2" cx="413.5" cy="196.1" r="2.30"/>
<circle class="o2" cx="413.8" cy="192.1" r="2.30"/>
<circle class="o2" cx="417.4" cy="196.4" r="2.31"/>
<circle class="o2" cx="417.7" cy="192.5" r="2.31"/>
<circle class="o2" cx="421.3" cy="196.8" r="2.31"/>
<circle class="o2" cx="421.7" cy="192.9" r="2.32"/>
<circle class="o2" cx="425.3" cy="197.2" r="2.32"/>
<circle class="o2" cx="425.6" cy="193.2" r="2.33"/>
<circle class="o2" cx="429.3" cy="197.6" r="2.33"/>
<circle class="o2" cx="429.6" cy="193.6" r="2.33"/>
<circle class="o2" cx="433.3" cy="198.0" r="2.34"/>
<circle class="o2" cx="407.2" cy="193.9" r="2.34"/>
<circle class="o2" cx="433.7" cy="194.0" r="2.34"/>
<circle class="o2" cx="411.2" cy="194.2" r="2.35"/>
<circle class="o2" cx="415.2" cy="194.6" r="2.35"/>
<circle class="o2" cx="419.2" cy="195.0" r="2.36"/>
<circle class="o2" cx="423.2" cy="195.4" r="2.37"/>
<circle class="o2" cx="427.3" cy="195.8" r="2.38"/>
<circle class="g2" cx="643.0" cy="212.3" r="2.45"/>
<circle class="g2" cx="669.3" cy="212.3" r="2.45"/>
<circle class="g2" cx="642.9" cy="206.5" r="2.47"/>
<circle class="g2" cx="669.4" cy="206.5" r="2.47"/>
<circle class="g2" cx="642.8" cy="200.6" r="2.49"/>
<circle class="g2" cx="669.5" cy="200.6" r="2.49"/>
<circle class="g2" cx="642.8" cy="214.0" r="2.50"/>
<circle class="g2" cx="669.5" cy="214.0" r="2.50"/>
<circle class="g2" cx="642.7" cy="194.6" r="2.51"/>
<circle class="g2" cx="669.6" cy="194.6" r="2.51"/>
<circle class="g2" cx="642.7" cy="208.1" r="2.52"/>
<circle class="g2" cx="669.6" cy="208.1" r="2.52"/>
<circle class="g2" cx="642.6" cy="188.5" r="2.53"/>
<circle class="g2" cx="669.7" cy="188.5" r="2.53"/>
<circle class="g2" cx="642.5" cy="202.0" r="2.54"/>
<circle class="g2" cx="669.8" cy="202.0" r="2.54"/>
<circle class="g2" cx="649.3" cy="158.8" r="2.55"/>
<circle class="g2" cx="653.9" cy="158.8" r="2.55"/>
<circle class="g2" cx="658.4" cy="158.8" r="2.55"/>
<circle class="g2" cx="663.0" cy="158.8" r="2.55"/>
<circle class="g2" cx="642.5" cy="215.7" r="2.55"/>
<circle class="g2" cx="669.8" cy="215.7" r="2.55"/>
<circle class="g2" cx="642.5" cy="182.3" r="2.55"/>
<circle class="g2" cx="669.8" cy="182.3" r="2.55"/>
<circle class="g2" cx="642.4" cy="195.9" r="2.56"/>
<circle class="g2" cx="669.9" cy="195.9" r="2.56"/>
<circle class="g2" cx="644.7" cy="219.6" r="2.56"/>
<circle class="g2" cx="667.6" cy="219.6" r="2.56"/>
<circle class="g2" cx="642.4" cy="209.7" r="2.57"/>
<circle class="g2" cx="669.9" cy="209.7" r="2.57"/>
<circle class="g2" cx="642.4" cy="176.0" r="2.57"/>
<circle class="g2" cx="669.9" cy="176.0" r="2.57"/>
<circle class="g2" cx="642.3" cy="189.7" r="2.58"/>
<circle class="g2" cx="670.0" cy="189.7" r="2.58"/>
<circle class="g2" cx="644.6" cy="213.6" r="2.58"/>
<circle class="g2" cx="667.7" cy="213.6" r="2.58"/>
<circle class="g2" cx="642.3" cy="203.5" r="2.59"/>
<circle class="g2" cx="670.0" cy="203.5" r="2.59"/>
<circle class="g2" cx="642.3" cy="169.6" r="2.59"/>
<circle class="g2" cx="670.0" cy="169.6" r="2.59"/>
<circle class="g2" cx="653.8" cy="159.5" r="2.59"/>
<circle class="g2" cx="649.2" cy="159.5" r="2.59"/>
<circle class="g2" cx="644.6" cy="159.5" r="2.59"/>
<circle class="g2" cx="658.5" cy="159.5" r="2.59"/>
<circle class="g2" cx="663.1" cy="159.5" r="2.59"/>
<circle class="g2" cx="667.7" cy="159.5" r="2.59"/>
<circle class="g2" cx="646.9" cy="217.5" r="2.60"/>
<circle class="g2" cx="665.4" cy="217.5" r="2.60"/>
<circle class="g2" cx="642.2" cy="183.4" r="2.60"/>
<circle class="g2" cx="670.1" cy="183.4" r="2.60"/>
<circle class="g2" cx="644.5" cy="207.4" r="2.60"/>
<circle class="g2" cx="667.8" cy="207.4" r="2.60"/>
<circle class="g2" cx="642.2" cy="197.3" r="2.61"/>
<circle class="g2" cx="670.1" cy="197.3" r="2.61"/>
<circle class="g2" cx="642.2" cy="163.1" r="2.61"/>
<circle class="g2" cx="670.1" cy="163.1" r="2.61"/>
<circle class="g2" cx="649.2" cy="221.5" r="2.61"/>
<circle class="g2" cx="658.5" cy="221.5" r="2.61"/>
<circle class="g2" cx="653.8" cy="221.5" r="2.61"/>
<circle class="g2" cx="663.1" cy="221.5" r="2.61"/>
<circle class="g2" cx="646.8" cy="211.4" r="2.62"/>
<circle class="g2" cx="665.5" cy="211.4" r="2.62"/>
<circle class="g2" cx="642.1" cy="177.0" r="2.62"/>
<circle class="g2" cx="670.2" cy="177.0" r="2.62"/>
<circle class="g2" cx="644.4" cy="201.2" r="2.62"/>
<circle class="g2" cx="667.9" cy="201.2" r="2.62"/>
<circle class="g2" cx="642.1" cy="191.0" r="2.63"/>
<circle class="g2" cx="670.2" cy="191.0" r="2.63"/>
<circle class="g2" cx="649.1" cy="215.3" r="2.63"/>
<circle class="g2" cx="663.2" cy="215.3" r="2.63"/>
<circle class="g2" cx="653.8" cy="215.3" r="2.63"/>
<circle class="g2" cx="658.5" cy="215.3" r="2.63"/>
<circle class="g2" cx="646.7" cy="205.1" r="2.64"/>
<circle class="g2" cx="656.1" cy="205.1" r="2.64"/>
<circle class="g2" cx="665.6" cy="205.1" r="2.64"/>
<circle class="g2" cx="642.0" cy="170.5" r="2.64"/>
<circle class="g2" cx="670.3" cy="170.5" r="2.64"/>
<circle class="g2" cx="644.3" cy="194.9" r="2.64"/>
<circle class="g2" cx="668.0" cy="194.9" r="2.64"/>
<circle class="g2" cx="644.3" cy="160.2" r="2.65"/>
<circle class="g2" cx="649.1" cy="160.2" r="2.65"/>
<circle class="g2" cx="658.5" cy="160.2" r="2.65"/>
<circle class="g2" cx="653.8" cy="160.2" r="2.65"/>
<circle class="g2" cx="663.2" cy="160.2" r="2.65"/>
<circle class="g2" cx="668.0" cy="160.2" r="2.65"/>
<circle class="g2" cx="651.4" cy="219.3" r="2.65"/>
<circle class="g2" cx="656.1" cy="219.3" r="2.65"/>
<circle class="g2" cx="660.9" cy="219.3" r="2.65"/>
<circle class="g2" cx="642.0" cy="184.6" r="2.65"/>
<circle class="g2" cx="670.3" cy="184.6" r="2.65"/>
<circle class="g2" cx="649.0" cy="209.1" r="2.65"/>
<circle class="g2" cx="658.5" cy="209.1" r="2.65"/>
<circle class="g2" cx="653.8" cy="209.1" r="2.65"/>
<circle class="g2" cx="663.3" cy="209.1" r="2.65"/>
<circle class="g2" cx="646.7" cy="198.8" r="2.66"/>
<circle class="g2" cx="665.6" cy="198.8" r="2.66"/>
<circle class="g2" cx="641.9" cy="163.9" r="2.66"/>
<circle class="g2" cx="670.4" cy="163.9" r="2.66"/>
<circle class="g2" cx="644.2" cy="188.4" r="2.67"/>
<circle class="g2" cx="668.1" cy="188.4" r="2.67"/>
<circle class="g2" cx="651.4" cy="213.1" r="2.67"/>
<circle class="g2" cx="660.9" cy="213.1" r="2.67"/>
<circle class="g2" cx="656.1" cy="213.1" r="2.67"/>
<circle class="g2" cx="641.8" cy="178.1" r="2.67"/>
<circle class="g2" cx="670.5" cy="178.1" r="2.67"/>
<circle class="g2" cx="653.8" cy="202.7" r="2.68"/>
<circle class="g2" cx="649.0" cy="202.7" r="2.68"/>
<circle class="g2" cx="658.5" cy="202.7" r="2.68"/>
<circle class="g2" cx="663.3" cy="202.7" r="2.68"/>
<circle class="g2" cx="646.6" cy="192.3" r="2.68"/>
<circle class="g2" cx="665.7" cy="192.3" r="2.68"/>
<circle class="g2" cx="644.2" cy="181.9" r="2.69"/>
<circle class="g2" cx="668.1" cy="181.9" r="2.69"/>
<circle class="g2" cx="651.3" cy="206.8" r="2.69"/>
<circle class="g2" cx="661.0" cy="206.8" r="2.69"/>
<circle class="g2" cx="656.1" cy="206.8" r="2.69"/>
<circle class="g2" cx="641.7" cy="171.4" r="2.69"/>
<circle class="g2" cx="670.6" cy="171.4" r="2.69"/>
<circle class="g2" cx="658.6" cy="196.3" r="2.70"/>
<circle class="g2" cx="648.9" cy="196.3" r="2.70"/>
<circle class="g2" cx="653.7" cy="196.3" r="2.70"/>
<circle class="g2" cx="663.4" cy="196.3" r="2.70"/>
<circle class="g2" cx="648.9" cy="160.9" r="2.70"/>
<circle class="g2" cx="644.1" cy="160.9" r="2.70"/>
<circle class="g2" cx="658.6" cy="160.9" r="2.70"/>
<circle class="g2" cx="663.4" cy="160.9" r="2.70"/>
<circle class="g2" cx="653.7" cy="160.9" r="2.70"/>
<circle class="g2" cx="668.2" cy="160.9" r="2.70"/>
<circle class="g2" cx="646.5" cy="185.8" r="2.70"/>
<circle class="g2" cx="665.8" cy="185.8" r="2.70"/>
<circle class="g2" cx="644.1" cy="175.3" r="2.71"/>
<circle class="g2" cx="668.2" cy="175.3" r="2.71"/>
<circle class="g2" cx="651.3" cy="200.3" r="2.71"/>
<circle class="g2" cx="656.1" cy="200.3" r="2.71"/>
<circle class="g2" cx="661.0" cy="200.3" r="2.71"/>
<circle class="g2" cx="641.6" cy="164.7" r="2.72"/>
<circle class="g2" cx="670.7" cy="164.7" r="2.72"/>
<circle class="g2" cx="653.7" cy="189.8" r="2.72"/>
<circle class="g2" cx="648.9" cy="189.8" r="2.72"/>
<circle class="g2" cx="658.6" cy="189.8" r="2.72"/>
<circle class="g2" cx="663.4" cy="189.8" r="2.72"/>
<circle class="g2" cx="646.4" cy="179.2" r="2.73"/>
<circle class="g2" cx="665.9" cy="179.2" r="2.73"/>
<circle class="g2" cx="644.0" cy="168.5" r="2.73"/>
<circle class="g2" cx="668.3" cy="168.5" r="2.73"/>
<circle class="g2" cx="661.0" cy="193.8" r="2.74"/>
<circle class="g2" cx="656.1" cy="193.8" r="2.74"/>
<circle class="g2" cx="651.3" cy="193.8" r="2.74"/>
<circle class="g2" cx="653.7" cy="183.1" r="2.74"/>
<circle class="g2" cx="648.8" cy="183.1" r="2.74"/>
<circle class="g2" cx="663.5" cy="183.1" r="2.74"/>
<circle class="g2" cx="658.6" cy="183.1" r="2.74"/>
<circle class="g2" cx="646.3" cy="172.4" r="2.75"/>
<circle class="g2" cx="666.0" cy="172.4" r="2.75"/>
<circle class="g2" cx="643.9" cy="161.7" r="2.75"/>
<circle class="g2" cx="648.8" cy="161.7" r="2.75"/>
<circle class="g2" cx="653.7" cy="161.7" r="2.75"/>
<circle class="g2" cx="658.6" cy="161.7" r="2.75"/>
<circle class="g2" cx="668.4" cy="161.7" r="2.75"/>
<circle class="g2" cx="663.5" cy="161.7" r="2.75"/>
<circle class="g2" cx="651.2" cy="187.1" r="2.76"/>
<circle class="g2" cx="661.1" cy="187.1" r="2.76"/>
<circle class="g2" cx="656.1" cy="187.1" r="2.76"/>
<circle class="g2" cx="663.6" cy="176.3" r="2.77"/>
<circle class="g2" cx="653.7" cy="176.3" r="2.77"/>
<circle class="g2" cx="648.7" cy="176.3" r="2.77"/>
<circle class="g2" cx="658.6" cy="176.3" r="2.77"/>
<circle class="g2" cx="646.3" cy="165.5" r="2.77"/>
<circle class="g2" cx="666.0" cy="165.5" r="2.77"/>
<circle class="g2" cx="651.2" cy="180.3" r="2.78"/>
<circle class="g2" cx="661.1" cy="180.3" r="2.78"/>
<circle class="g2" cx="656.1" cy="180.3" r="2.78"/>
<circle class="g2" cx="648.7" cy="169.4" r="2.79"/>
<circle class="g2" cx="663.6" cy="169.4" r="2.79"/>
<circle class="g2" cx="653.7" cy="169.4" r="2.79"/>
<circle class="g2" cx="658.6" cy="169.4" r="2.79"/>
<circle class="g2" cx="661.2" cy="173.4" r="2.81"/>
<circle class="g2" cx="651.1" cy="173.4" r="2.81"/>
<circle class="g2" cx="656.1" cy="173.4" r="2.81"/>
<circle class="g2" cx="648.6" cy="162.4" r="2.81"/>
<circle class="g2" cx="653.6" cy="162.4" r="2.81"/>
<circle class="g2" cx="658.7" cy="162.4" r="2.81"/>
<circle class="g2" cx="663.7" cy="162.4" r="2.81"/>
<circle class="g2" cx="651.1" cy="166.4" r="2.83"/>
<circle class="g2" cx="661.2" cy="166.4" r="2.83"/>
<circle class="g2" cx="656.1" cy="166.4" r="2.83"/>
<circle class="y3" cx="193.1" cy="307.9" r="1.75"/>
<circle class="y3" cx="196.0" cy="308.0" r="1.76"/>
<circle class="y3" cx="189.2" cy="308.1" r="1.77"/>
<circle class="y3" cx="192.1" cy="308.2" r="1.77"/>
<circle class="y3" cx="185.3" cy="308.2" r="1.78"/>
<circle class="y3" cx="195.0" cy="308.3" r="1.78"/>
<circle class="y3" cx="188.1" cy="308.4" r="1.79"/>
<circle class="y3" cx="197.9" cy="308.4" r="1.79"/>
<circle class="y3" cx="181.2" cy="308.4" r="1.80"/>
<circle class="y3" cx="161.2" cy="344.6" r="1.80"/>
<circle class="y3" cx="191.0" cy="308.5" r="1.80"/>
<circle class="y3" cx="184.1" cy="308.6" r="1.81"/>
<circle class="y3" cx="161.1" cy="340.4" r="1.81"/>
<circle class="y3" cx="194.0" cy="308.6" r="1.81"/>
<circle class="y3" cx="161.9" cy="347.3" r="1.81"/>
<circle class="y3" cx="177.1" cy="308.6" r="1.81"/>
<circle class="y3" cx="187.0" cy="308.7" r="1.82"/>
<circle class="y3" cx="160.9" cy="336.1" r="1.82"/>
<circle class="y3" cx="196.9" cy="308.7" r="1.82"/>
<circle class="y3" cx="161.8" cy="343.1" r="1.82"/>
<circle class="y3" cx="180.0" cy="308.8" r="1.82"/>
<circle class="y3" cx="189.9" cy="308.8" r="1.83"/>
<circle class="y3" cx="160.7" cy="331.8" r="1.83"/>
<circle class="y3" cx="173.0" cy="308.8" r="1.83"/>
<circle class="y3" cx="199.9" cy="308.9" r="1.83"/>
<circle class="y3" cx="161.6" cy="338.8" r="1.83"/>
<circle class="y3" cx="182.9" cy="308.9" r="1.83"/>
<circle class="y3" cx="162.5" cy="345.8" r="1.84"/>
<circle class="y3" cx="215.6" cy="338.9" r="1.84"/>
<circle class="y3" cx="192.9" cy="308.9" r="1.84"/>
<circle class="y3" cx="160.6" cy="327.4" r="1.84"/>
<circle class="y3" cx="216.6" cy="345.9" r="1.84"/>
<circle class="y3" cx="175.8" cy="309.0" r="1.84"/>
<circle class="y3" cx="161.4" cy="334.5" r="1.84"/>
<circle class="y3" cx="185.9" cy="309.0" r="1.84"/>
<circle class="y3" cx="162.3" cy="341.5" r="1.85"/>
<circle class="y3" cx="215.8" cy="334.6" r="1.85"/>
<circle class="y3" cx="195.9" cy="309.1" r="1.85"/>
<circle class="y3" cx="163.2" cy="348.6" r="1.85"/>
<circle class="y3" cx="160.4" cy="323.0" r="1.85"/>
<circle class="y3" cx="216.8" cy="341.6" r="1.85"/>
<circle class="y3" cx="178.7" cy="309.1" r="1.85"/>
<circle class="y3" cx="161.3" cy="330.1" r="1.85"/>
<circle class="y3" cx="188.8" cy="309.1" r="1.86"/>
<circle class="y3" cx="206.5" cy="358.1" r="1.86"/>
<circle class="y3" cx="162.2" cy="337.2" r="1.86"/>
<circle class="y3" cx="216.0" cy="330.2" r="1.86"/>
<circle class="y3" cx="171.6" cy="309.2" r="1.86"/>
<circle class="y3" cx="204.5" cy="360.6" r="1.86"/>
<circle class="y3" cx="199.0" cy="309.2" r="1.86"/>
<circle class="y3" cx="163.0" cy="344.3" r="1.86"/>
<circle class="y3" cx="216.9" cy="337.3" r="1.86"/>
<circle class="y3" cx="169.5" cy="311.5" r="1.86"/>
<circle class="y3" cx="181.7" cy="309.2" r="1.86"/>
<circle class="y3" cx="161.1" cy="325.6" r="1.86"/>
<circle class="y3" cx="167.4" cy="313.9" r="1.86"/>
<circle class="y3" cx="197.4" cy="360.9" r="1.87"/>
<circle class="y3" cx="191.8" cy="309.3" r="1.87"/>
<circle class="y3" cx="162.0" cy="332.8" r="1.87"/>
<circle class="y3" cx="215.9" cy="346.8" r="1.87"/>
<circle class="y3" cx="165.2" cy="316.3" r="1.87"/>
<circle class="y3" cx="216.1" cy="325.7" r="1.87"/>
<circle class="y3" cx="174.5" cy="309.3" r="1.87"/>
<circle class="y3" cx="202.0" cy="309.3" r="1.87"/>
<circle class="y3" cx="162.9" cy="339.9" r="1.87"/>
<circle class="y3" cx="163.1" cy="318.7" r="1.87"/>
<circle class="y3" cx="217.1" cy="332.9" r="1.87"/>
<circle class="y3" cx="184.7" cy="309.4" r="1.87"/>
<circle class="y3" cx="202.5" cy="358.8" r="1.87"/>
<circle class="y3" cx="163.8" cy="347.1" r="1.87"/>
<circle class="y3" cx="161.0" cy="321.2" r="1.88"/>
<circle class="y3" cx="215.1" cy="335.3" r="1.88"/>
<circle class="y3" cx="200.5" cy="361.3" r="1.88"/>
<circle class="y3" cx="194.9" cy="309.4" r="1.88"/>
<circle class="y3" cx="161.9" cy="328.3" r="1.88"/>
<circle class="y3" cx="216.0" cy="342.5" r="1.88"/>
<circle class="y3" cx="216.3" cy="321.2" r="1.88"/>
<circle class="y3" cx="177.4" cy="309.4" r="1.88"/>
<circle class="y3" cx="162.7" cy="335.5" r="1.88"/>
<circle class="y3" cx="214.0" cy="344.9" r="1.88"/>
<circle class="y3" cx="217.3" cy="328.4" r="1.88"/>
<circle class="y3" cx="193.3" cy="361.6" r="1.88"/>
<circle class="y3" cx="187.7" cy="309.5" r="1.88"/>
<circle class="y3" cx="205.6" cy="359.2" r="1.89"/>
<circle class="y3" cx="163.6" cy="342.7" r="1.89"/>
<circle class="y3" cx="215.2" cy="330.8" r="1.89"/>
<circle class="y3" cx="197.9" cy="309.5" r="1.89"/>
<circle class="y3" cx="164.5" cy="349.9" r="1.89"/>
<circle class="y3" cx="161.7" cy="323.8" r="1.89"/>
<circle class="y3" cx="216.2" cy="338.0" r="1.89"/>
<circle class="y3" cx="180.4" cy="309.6" r="1.89"/>
<circle class="y3" cx="198.4" cy="359.5" r="1.89"/>
<circle class="y3" cx="162.6" cy="331.0" r="1.89"/>
<circle class="y3" cx="214.1" cy="340.5" r="1.89"/>
<circle class="y3" cx="214.4" cy="319.1" r="1.89"/>
<circle class="y3" cx="217.4" cy="323.9" r="1.89"/>
<circle class="y3" cx="196.3" cy="362.0" r="1.90"/>
<circle class="y3" cx="190.7" cy="309.6" r="1.90"/>
<circle class="y3" cx="163.5" cy="338.2" r="1.90"/>
<circle class="y3" cx="215.1" cy="347.8" r="1.90"/>
<circle class="y3" cx="215.4" cy="326.3" r="1.90"/>
<circle class="y3" cx="178.7" cy="362.1" r="1.90"/>
<circle class="y3" cx="173.1" cy="309.6" r="1.90"/>
<circle class="y3" cx="203.7" cy="357.4" r="1.90"/>
<circle class="y3" cx="201.1" cy="309.7" r="1.90"/>
<circle class="y3" cx="164.4" cy="345.5" r="1.90"/>
<circle class="y3" cx="216.4" cy="333.6" r="1.90"/>
<circle class="y3" cx="170.9" cy="312.1" r="1.90"/>
<circle class="y3" cx="189.1" cy="362.3" r="1.90"/>
<circle class="y3" cx="183.4" cy="309.7" r="1.90"/>
<circle class="y3" cx="201.6" cy="359.9" r="1.90"/>
<circle class="y3" cx="162.4" cy="326.5" r="1.90"/>
<circle class="y3" cx="214.3" cy="336.0" r="1.90"/>
<circle class="y3" cx="168.8" cy="314.5" r="1.91"/>
<circle class="y3" cx="193.8" cy="309.8" r="1.91"/>
<circle class="y3" cx="163.3" cy="333.7" r="1.91"/>
<circle class="y3" cx="215.3" cy="343.3" r="1.91"/>
<circle class="y3" cx="212.5" cy="317.0" r="1.91"/>
<circle class="y3" cx="215.5" cy="321.8" r="1.91"/>
<circle class="y3" cx="166.6" cy="317.0" r="1.91"/>
<circle class="y3" cx="176.1" cy="309.8" r="1.91"/>
<circle class="y3" cx="194.3" cy="360.2" r="1.91"/>
<circle class="y3" cx="206.8" cy="357.8" r="1.91"/>
<circle class="y3" cx="204.2" cy="309.8" r="1.91"/>
<circle class="y3" cx="164.2" cy="341.0" r="1.91"/>
<circle class="y3" cx="164.5" cy="319.4" r="1.91"/>
<circle class="y3" cx="216.5" cy="329.0" r="1.91"/>
<circle class="y3" cx="176.5" cy="360.3" r="1.91"/>
<circle class="y3" cx="192.2" cy="362.7" r="1.91"/>
<circle class="y3" cx="186.5" cy="309.8" r="1.91"/>
<circle class="y3" cx="165.1" cy="348.4" r="1.92"/>
<circle class="y3" cx="162.3" cy="321.9" r="1.92"/>
<circle class="y3" cx="214.4" cy="331.5" r="1.92"/>
<circle class="y3" cx="199.5" cy="358.1" r="1.92"/>
<circle class="y3" cx="196.9" cy="309.9" r="1.92"/>
<circle class="y3" cx="163.2" cy="329.2" r="1.92"/>
<circle class="y3" cx="215.5" cy="338.8" r="1.92"/>
<circle class="y3" cx="184.8" cy="363.0" r="1.92"/>
<circle class="y3" cx="179.1" cy="309.9" r="1.92"/>
<circle class="y3" cx="197.4" cy="360.6" r="1.92"/>
<circle class="y3" cx="213.4" cy="341.4" r="1.92"/>
<circle class="y3" cx="210.5" cy="314.8" r="1.92"/>
<circle class="y3" cx="164.1" cy="336.5" r="1.92"/>
<circle class="y3" cx="213.6" cy="319.6" r="1.92"/>
<circle class="y3" cx="216.7" cy="324.5" r="1.92"/>
<circle class="y3" cx="189.5" cy="310.0" r="1.93"/>
<circle class="y3" cx="204.8" cy="356.0" r="1.93"/>
<circle class="y3" cx="214.4" cy="348.7" r="1.93"/>
<circle class="y3" cx="165.0" cy="343.9" r="1.93"/>
<circle class="y3" cx="214.6" cy="326.9" r="1.93"/>
<circle class="y3" cx="174.3" cy="358.4" r="1.93"/>
<circle class="y3" cx="190.0" cy="360.9" r="1.93"/>
<circle class="y3" cx="202.7" cy="358.5" r="1.93"/>
<circle class="y3" cx="200.1" cy="310.0" r="1.93"/>
<circle class="y3" cx="212.3" cy="351.3" r="1.93"/>
<circle class="y3" cx="165.9" cy="351.3" r="1.93"/>
<circle class="y3" cx="163.0" cy="324.6" r="1.93"/>
<circle class="y3" cx="215.6" cy="334.3" r="1.93"/>
<circle class="y3" cx="187.9" cy="363.5" r="1.93"/>
<circle class="y3" cx="182.1" cy="310.1" r="1.93"/>
<circle class="y3" cx="210.2" cy="353.8" r="1.93"/>
<circle class="y3" cx="213.5" cy="336.8" r="1.93"/>
<circle class="y3" cx="163.9" cy="332.0" r="1.93"/>
<circle class="y3" cx="195.3" cy="358.8" r="1.94"/>
<circle class="y3" cx="192.7" cy="310.1" r="1.94"/>
<circle class="y3" cx="208.0" cy="356.4" r="1.94"/>
<circle class="y3" cx="208.5" cy="312.6" r="1.94"/>
<circle class="y3" cx="214.5" cy="344.2" r="1.94"/>
<circle class="y3" cx="211.6" cy="317.4" r="1.94"/>
<circle class="y3" cx="164.8" cy="339.4" r="1.94"/>
<circle class="y3" cx="214.8" cy="322.3" r="1.94"/>
<circle class="y3" cx="180.4" cy="363.8" r="1.94"/>
<circle class="y3" cx="174.7" cy="310.1" r="1.94"/>
<circle class="y3" cx="193.2" cy="361.4" r="1.94"/>
<circle class="y3" cx="203.3" cy="310.2" r="1.94"/>
<circle class="y3" cx="165.8" cy="346.8" r="1.94"/>
<circle class="y3" cx="215.8" cy="329.7" r="1.94"/>
<circle class="y3" cx="172.0" cy="356.6" r="1.94"/>
<circle class="y3" cx="172.5" cy="312.6" r="1.94"/>
<circle class="y3" cx="185.2" cy="310.2" r="1.94"/>
<circle class="y3" cx="200.6" cy="356.6" r="1.95"/>
<circle class="y3" cx="213.7" cy="332.2" r="1.95"/>
<circle class="y3" cx="163.8" cy="327.3" r="1.95"/>
<circle class="y3" cx="170.3" cy="315.1" r="1.95"/>
<circle class="y3" cx="185.7" cy="361.6" r="1.95"/>
<circle class="y3" cx="198.5" cy="359.2" r="1.95"/>
<circle class="y3" cx="195.8" cy="310.3" r="1.95"/>
<circle class="y3" cx="214.7" cy="339.7" r="1.95"/>
<circle class="y3" cx="164.7" cy="334.8" r="1.95"/>
<circle class="y3" cx="168.1" cy="317.6" r="1.95"/>
<circle class="y3" cx="183.5" cy="364.2" r="1.95"/>
<circle class="y3" cx="177.7" cy="310.3" r="1.95"/>
<circle class="y3" cx="206.0" cy="354.5" r="1.95"/>
<circle class="y3" cx="206.5" cy="310.3" r="1.95"/>
<circle class="y3" cx="209.6" cy="315.2" r="1.95"/>
<circle class="y3" cx="212.8" cy="320.1" r="1.95"/>
<circle class="y3" cx="165.6" cy="342.2" r="1.95"/>
<circle class="y3" cx="215.9" cy="325.1" r="1.95"/>
<circle class="y3" cx="165.9" cy="320.1" r="1.95"/>
<circle class="y3" cx="178.2" cy="361.9" r="1.95"/>
<circle class="y3" cx="191.0" cy="359.5" r="1.96"/>
<circle class="y3" cx="188.4" cy="310.3" r="1.96"/>
<circle class="y3" cx="203.9" cy="357.1" r="1.96"/>
<circle class="y3" cx="213.6" cy="349.7" r="1.96"/>
<circle class="y3" cx="213.8" cy="327.6" r="1.96"/>
<circle class="y3" cx="166.5" cy="349.7" r="1.96"/>
<circle class="y3" cx="163.6" cy="322.7" r="1.96"/>
<circle class="y3" cx="169.7" cy="354.7" r="1.96"/>
<circle class="y3" cx="188.8" cy="362.1" r="1.96"/>
<circle class="y3" cx="199.0" cy="310.4" r="1.96"/>
<circle class="y3" cx="211.4" cy="352.3" r="1.96"/>
<circle class="y3" cx="214.8" cy="335.1" r="1.96"/>
<circle class="y3" cx="164.6" cy="330.1" r="1.96"/>
<circle class="y3" cx="180.8" cy="310.4" r="1.96"/>
<circle class="y3" cx="196.4" cy="357.3" r="1.96"/>
<circle class="y3" cx="209.3" cy="354.9" r="1.97"/>
<circle class="y3" cx="212.7" cy="337.6" r="1.97"/>
<circle class="y3" cx="165.5" cy="337.6" r="1.97"/>
<circle class="y3" cx="181.3" cy="362.4" r="1.97"/>
<circle class="y3" cx="194.2" cy="359.9" r="1.97"/>
<circle class="y3" cx="191.5" cy="310.5" r="1.97"/>
<circle class="y3" cx="207.6" cy="313.0" r="1.97"/>
<circle class="y3" cx="213.7" cy="345.2" r="1.97"/>
<circle class="y3" cx="210.8" cy="317.9" r="1.97"/>
<circle class="y3" cx="214.0" cy="322.9" r="1.97"/>
<circle class="y3" cx="166.4" cy="345.2" r="1.97"/>
<circle class="y3" cx="175.9" cy="360.0" r="1.97"/>
<circle class="y3" cx="201.8" cy="355.2" r="1.97"/>
<circle class="y3" cx="202.3" cy="310.5" r="1.97"/>
<circle class="y3" cx="211.6" cy="347.7" r="1.97"/>
<circle class="y3" cx="215.0" cy="330.4" r="1.97"/>
<circle class="y3" cx="167.3" cy="352.7" r="1.97"/>
<circle class="y3" cx="164.4" cy="325.4" r="1.97"/>
<circle class="y3" cx="186.7" cy="360.2" r="1.98"/>
<circle class="y3" cx="184.0" cy="310.6" r="1.98"/>
<circle class="y3" cx="199.6" cy="357.8" r="1.98"/>
<circle class="y3" cx="209.4" cy="350.3" r="1.98"/>
<circle class="y3" cx="212.8" cy="333.0" r="1.98"/>
<circle class="y3" cx="165.3" cy="333.0" r="1.98"/>
<circle class="y3" cx="184.4" cy="362.8" r="1.98"/>
<circle class="y3" cx="194.7" cy="310.6" r="1.98"/>
<circle class="y3" cx="207.2" cy="353.0" r="1.98"/>
<circle class="y3" cx="213.9" cy="340.5" r="1.98"/>
<circle class="y3" cx="166.3" cy="340.5" r="1.98"/>
<circle class="y3" cx="179.0" cy="360.5" r="1.98"/>
<circle class="y3" cx="176.3" cy="310.7" r="1.98"/>
<circle class="y3" cx="192.0" cy="358.0" r="1.98"/>
<circle class="y3" cx="205.1" cy="355.6" r="1.98"/>
<circle class="y3" cx="205.6" cy="310.7" r="1.99"/>
<circle class="y3" cx="211.7" cy="343.1" r="1.99"/>
<circle class="y3" cx="208.8" cy="315.7" r="1.99"/>
<circle class="y3" cx="212.0" cy="320.7" r="1.99"/>
<circle class="y3" cx="215.2" cy="325.7" r="1.99"/>
<circle class="y3" cx="167.2" cy="348.1" r="1.99"/>
<circle class="y3" cx="173.6" cy="358.1" r="1.99"/>
<circle class="y3" cx="174.1" cy="313.2" r="1.99"/>
<circle class="y3" cx="189.8" cy="360.7" r="1.99"/>
<circle class="y3" cx="187.1" cy="310.7" r="1.99"/>
<circle class="y3" cx="203.4" cy="313.2" r="1.99"/>
<circle class="y3" cx="209.5" cy="345.7" r="1.99"/>
<circle class="y3" cx="212.7" cy="350.7" r="1.99"/>
<circle class="y3" cx="213.0" cy="328.2" r="1.99"/>
<circle class="y3" cx="165.2" cy="328.3" r="1.99"/>
<circle class="y3" cx="171.8" cy="315.8" r="1.99"/>
<circle class="y3" cx="197.5" cy="355.8" r="1.99"/>
<circle class="y3" cx="198.0" cy="310.8" r="1.99"/>
<circle class="y3" cx="207.4" cy="348.4" r="1.99"/>
<circle class="y3" cx="210.6" cy="353.4" r="1.99"/>
<circle class="y3" cx="214.0" cy="335.9" r="1.99"/>
<circle class="y3" cx="166.1" cy="335.9" r="1.99"/>
<circle class="y3" cx="169.6" cy="318.3" r="1.99"/>
<circle class="y3" cx="182.2" cy="361.0" r="2.00"/>
<circle class="y3" cx="179.5" cy="310.8" r="2.00"/>
<circle class="y3" cx="195.3" cy="358.5" r="2.00"/>
<circle class="y3" cx="205.2" cy="351.0" r="2.00"/>
<circle class="y3" cx="211.9" cy="338.5" r="2.00"/>
<circle class="y3" cx="167.1" cy="343.5" r="2.00"/>
<circle class="y3" cx="167.3" cy="320.9" r="2.00"/>
<circle class="y3" cx="176.7" cy="358.6" r="2.00"/>
<circle class="y3" cx="190.3" cy="310.9" r="2.00"/>
<circle class="y3" cx="203.0" cy="353.6" r="2.00"/>
<circle class="y3" cx="209.7" cy="341.1" r="2.00"/>
<circle class="y3" cx="206.7" cy="313.4" r="2.00"/>
<circle class="y3" cx="212.9" cy="346.1" r="2.00"/>
<circle class="y3" cx="209.9" cy="318.4" r="2.00"/>
<circle class="y3" cx="213.1" cy="323.5" r="2.00"/>
<circle class="y3" cx="168.0" cy="351.2" r="2.00"/>
<circle class="y3" cx="165.1" cy="323.5" r="2.00"/>
<circle class="y3" cx="171.3" cy="356.2" r="2.00"/>
<circle class="y3" cx="187.6" cy="358.8" r="2.00"/>
<circle class="y3" cx="200.8" cy="356.3" r="2.01"/>
<circle class="y3" cx="201.3" cy="310.9" r="2.01"/>
<circle class="y3" cx="207.5" cy="343.7" r="2.01"/>
<circle class="y3" cx="204.5" cy="316.0" r="2.01"/>
<circle class="y3" cx="210.7" cy="348.7" r="2.01"/>
<circle class="y3" cx="214.2" cy="331.1" r="2.01"/>
<circle class="y3" cx="166.0" cy="331.1" r="2.01"/>
<circle class="y3" cx="185.4" cy="361.4" r="2.01"/>
<circle class="y3" cx="182.6" cy="311.0" r="2.01"/>
<circle class="y3" cx="199.1" cy="313.5" r="2.01"/>
<circle class="y3" cx="205.3" cy="346.3" r="2.01"/>
<circle class="y3" cx="208.5" cy="351.4" r="2.01"/>
<circle class="y3" cx="212.0" cy="333.7" r="2.01"/>
<circle class="y3" cx="167.0" cy="338.8" r="2.01"/>
<circle class="y3" cx="179.9" cy="359.0" r="2.01"/>
<circle class="y3" cx="193.1" cy="356.5" r="2.01"/>
<circle class="y3" cx="193.6" cy="311.0" r="2.01"/>
<circle class="y3" cx="203.1" cy="349.0" r="2.01"/>
<circle class="y3" cx="206.3" cy="354.0" r="2.01"/>
<circle class="y3" cx="209.8" cy="336.3" r="2.01"/>
<circle class="y3" cx="213.0" cy="341.4" r="2.01"/>
<circle class="y3" cx="167.9" cy="346.5" r="2.02"/>
<circle class="y3" cx="174.4" cy="356.6" r="2.02"/>
<circle class="y3" cx="190.9" cy="359.2" r="2.02"/>
<circle class="y3" cx="200.8" cy="351.6" r="2.02"/>
<circle class="y3" cx="207.6" cy="339.0" r="2.02"/>
<circle class="y3" cx="210.8" cy="344.1" r="2.02"/>
<circle class="y3" cx="207.8" cy="316.2" r="2.02"/>
<circle class="y3" cx="211.1" cy="321.2" r="2.02"/>
<circle class="y3" cx="214.3" cy="326.3" r="2.02"/>
<circle class="y3" cx="168.9" cy="354.2" r="2.02"/>
<circle class="y3" cx="165.9" cy="326.3" r="2.02"/>
<circle class="y3" cx="185.9" cy="311.1" r="2.02"/>
<circle class="y3" cx="198.6" cy="354.3" r="2.02"/>
<circle class="y3" cx="205.4" cy="341.6" r="2.02"/>
<circle class="y3" cx="202.4" cy="313.7" r="2.02"/>
<circle class="y3" cx="208.6" cy="346.7" r="2.02"/>
<circle class="y3" cx="205.6" cy="318.8" r="2.02"/>
<circle class="y3" cx="212.1" cy="328.9" r="2.02"/>
<circle class="y3" cx="166.8" cy="334.0" r="2.02"/>
<circle class="y3" cx="183.1" cy="359.5" r="2.02"/>
<circle class="y3" cx="196.4" cy="357.0" r="2.03"/>
<circle class="y3" cx="196.9" cy="311.2" r="2.03"/>
<circle class="y3" cx="203.2" cy="344.3" r="2.03"/>
<circle class="y3" cx="200.1" cy="316.3" r="2.03"/>
<circle class="y3" cx="206.4" cy="349.4" r="2.03"/>
<circle class="y3" cx="209.9" cy="331.6" r="2.03"/>
<circle class="y3" cx="213.2" cy="336.7" r="2.03"/>
<circle class="y3" cx="167.8" cy="341.8" r="2.03"/>
<circle class="y3" cx="177.6" cy="357.1" r="2.03"/>
<circle class="y3" cx="178.1" cy="311.2" r="2.03"/>
<circle class="y3" cx="194.6" cy="313.8" r="2.03"/>
<circle class="y3" cx="200.9" cy="346.9" r="2.03"/>
<circle class="y3" cx="204.2" cy="352.1" r="2.03"/>
<circle class="y3" cx="207.7" cy="334.2" r="2.03"/>
<circle class="y3" cx="211.0" cy="339.3" r="2.03"/>
<circle class="y3" cx="168.7" cy="349.5" r="2.03"/>
<circle class="y3" cx="172.0" cy="354.7" r="2.03"/>
<circle class="y3" cx="175.8" cy="313.8" r="2.03"/>
<circle class="y3" cx="188.6" cy="357.3" r="2.03"/>
<circle class="y3" cx="189.1" cy="311.3" r="2.03"/>
<circle class="y3" cx="198.7" cy="349.6" r="2.03"/>
<circle class="y3" cx="202.0" cy="354.7" r="2.03"/>
<circle class="y3" cx="205.5" cy="336.9" r="2.03"/>
<circle class="y3" cx="208.8" cy="342.0" r="2.04"/>
<circle class="y3" cx="209.0" cy="319.0" r="2.04"/>
<circle class="y3" cx="212.3" cy="324.1" r="2.04"/>
<circle class="y3" cx="166.7" cy="329.2" r="2.04"/>
<circle class="y3" cx="173.5" cy="316.4" r="2.04"/>
<circle class="y3" cx="186.3" cy="360.0" r="2.04"/>
<circle class="y3" cx="196.4" cy="352.3" r="2.04"/>
<circle class="y3" cx="203.2" cy="339.5" r="2.04"/>
<circle class="y3" cx="206.5" cy="344.6" r="2.04"/>
<circle class="y3" cx="203.5" cy="316.5" r="2.04"/>
<circle class="y3" cx="206.8" cy="321.6" r="2.04"/>
<circle class="y3" cx="210.1" cy="326.7" r="2.04"/>
<circle class="y3" cx="213.4" cy="331.8" r="2.04"/>
<circle class="y3" cx="167.6" cy="337.0" r="2.04"/>
<circle class="y3" cx="171.2" cy="319.1" r="2.04"/>
<circle class="y3" cx="180.8" cy="357.5" r="2.04"/>
<circle class="y3" cx="181.3" cy="311.4" r="2.04"/>
<circle class="y3" cx="194.2" cy="355.0" r="2.04"/>
<circle class="y3" cx="201.0" cy="342.2" r="2.04"/>
<circle class="y3" cx="198.0" cy="314.0" r="2.04"/>
<circle class="y3" cx="204.3" cy="347.3" r="2.04"/>
<circle class="y3" cx="201.3" cy="319.1" r="2.04"/>
<circle class="y3" cx="207.8" cy="329.4" r="2.04"/>
<circle class="y3" cx="211.1" cy="334.5" r="2.04"/>
<circle class="y3" cx="168.6" cy="344.8" r="2.04"/>
<circle class="y3" cx="171.9" cy="349.9" r="2.04"/>
<circle class="y3" cx="168.9" cy="321.7" r="2.04"/>
<circle class="y3" cx="175.2" cy="355.1" r="2.05"/>
<circle class="y3" cx="179.0" cy="314.0" r="2.05"/>
<circle class="y3" cx="191.9" cy="357.7" r="2.05"/>
<circle class="y3" cx="192.4" cy="311.4" r="2.05"/>
<circle class="y3" cx="198.7" cy="344.9" r="2.05"/>
<circle class="y3" cx="195.7" cy="316.6" r="2.05"/>
<circle class="y3" cx="202.0" cy="350.0" r="2.05"/>
<circle class="y3" cx="205.6" cy="332.0" r="2.05"/>
<circle class="y3" cx="208.9" cy="337.2" r="2.05"/>
<circle class="y3" cx="169.6" cy="352.6" r="2.05"/>
<circle class="y3" cx="166.5" cy="324.3" r="2.05"/>
<circle class="y3" cx="190.1" cy="314.1" r="2.05"/>
<circle class="y3" cx="196.5" cy="347.6" r="2.05"/>
<circle class="y3" cx="199.8" cy="352.7" r="2.05"/>
<circle class="y3" cx="203.3" cy="334.7" r="2.05"/>
<circle class="y3" cx="206.6" cy="339.9" r="2.05"/>
<circle class="y3" cx="210.2" cy="321.8" r="2.05"/>
<circle class="y3" cx="213.5" cy="327.0" r="2.05"/>
<circle class="y3" cx="167.5" cy="332.1" r="2.05"/>
<circle class="y3" cx="184.0" cy="358.0" r="2.05"/>
<circle class="y3" cx="184.5" cy="311.5" r="2.05"/>
<circle class="y3" cx="194.2" cy="350.3" r="2.06"/>
<circle class="y3" cx="197.5" cy="355.4" r="2.06"/>
<circle class="y3" cx="201.1" cy="337.4" r="2.06"/>
<circle class="y3" cx="204.4" cy="342.5" r="2.06"/>
<circle class="y3" cx="204.6" cy="319.3" r="2.06"/>
<circle class="y3" cx="208.0" cy="324.5" r="2.06"/>
<circle class="y3" cx="211.3" cy="329.6" r="2.06"/>
<circle class="y3" cx="168.5" cy="340.0" r="2.06"/>
<circle class="y3" cx="171.8" cy="345.2" r="2.06"/>
<circle class="y3" cx="175.1" cy="350.4" r="2.06"/>
<circle class="y3" cx="178.4" cy="355.5" r="2.06"/>
<circle class="y3" cx="191.9" cy="353.0" r="2.06"/>
<circle class="y3" cx="198.8" cy="340.1" r="2.06"/>
<circle class="y3" cx="202.1" cy="345.2" r="2.06"/>
<circle class="y3" cx="199.1" cy="316.8" r="2.06"/>
<circle class="y3" cx="202.4" cy="322.0" r="2.06"/>
<circle class="y3" cx="205.7" cy="327.1" r="2.06"/>
<circle class="y3" cx="209.0" cy="332.3" r="2.06"/>
<circle class="y3" cx="169.5" cy="347.9" r="2.06"/>
<circle class="y3" cx="172.8" cy="353.1" r="2.06"/>
<circle class="y3" cx="169.7" cy="324.6" r="2.06"/>
<circle class="y3" cx="189.6" cy="355.7" r="2.06"/>
<circle class="y3" cx="196.5" cy="342.8" r="2.06"/>
<circle class="y3" cx="193.5" cy="314.2" r="2.06"/>
<circle class="y3" cx="199.9" cy="348.0" r="2.06"/>
<circle class="y3" cx="196.8" cy="319.4" r="2.06"/>
<circle class="y3" cx="203.4" cy="329.8" r="2.07"/>
<circle class="y3" cx="206.8" cy="335.0" r="2.07"/>
<circle class="y3" cx="167.4" cy="327.2" r="2.07"/>
<circle class="y3" cx="187.3" cy="358.4" r="2.07"/>
<circle class="y3" cx="187.8" cy="311.7" r="2.07"/>
<circle class="y3" cx="194.2" cy="345.5" r="2.07"/>
<circle class="y3" cx="191.2" cy="316.9" r="2.07"/>
<circle class="y3" cx="197.6" cy="350.7" r="2.07"/>
<circle class="y3" cx="201.2" cy="332.5" r="2.07"/>
<circle class="y3" cx="204.5" cy="337.7" r="2.07"/>
<circle class="y3" cx="211.4" cy="324.7" r="2.07"/>
<circle class="y3" cx="168.4" cy="335.1" r="2.07"/>
<circle class="y3" cx="171.7" cy="340.3" r="2.07"/>
<circle class="y3" cx="175.0" cy="345.6" r="2.07"/>
<circle class="y3" cx="178.4" cy="350.8" r="2.07"/>
<circle class="y3" cx="181.7" cy="356.0" r="2.07"/>
<circle class="y3" cx="185.5" cy="314.3" r="2.07"/>
<circle class="y3" cx="191.9" cy="348.2" r="2.07"/>
<circle class="y3" cx="195.3" cy="353.4" r="2.07"/>
<circle class="y3" cx="198.9" cy="335.2" r="2.07"/>
<circle class="y3" cx="202.2" cy="340.4" r="2.07"/>
<circle class="y3" cx="205.8" cy="322.2" r="2.07"/>
<circle class="y3" cx="209.2" cy="327.4" r="2.07"/>
<circle class="y3" cx="169.3" cy="343.1" r="2.08"/>
<circle class="y3" cx="172.7" cy="348.3" r="2.08"/>
<circle class="y3" cx="176.0" cy="353.5" r="2.08"/>
<circle class="y3" cx="179.9" cy="311.8" r="2.08"/>
<circle class="y3" cx="189.6" cy="350.9" r="2.08"/>
<circle class="y3" cx="193.0" cy="356.2" r="2.08"/>
<circle class="y3" cx="196.6" cy="337.9" r="2.08"/>
<circle class="y3" cx="199.9" cy="343.1" r="2.08"/>
<circle class="y3" cx="200.2" cy="319.6" r="2.08"/>
<circle class="y3" cx="203.5" cy="324.9" r="2.08"/>
<circle class="y3" cx="206.9" cy="330.1" r="2.08"/>
<circle class="y3" cx="177.5" cy="314.4" r="2.08"/>
<circle class="y3" cx="187.3" cy="353.7" r="2.08"/>
<circle class="y3" cx="194.3" cy="340.6" r="2.08"/>
<circle class="y3" cx="197.6" cy="345.9" r="2.08"/>
<circle class="y3" cx="194.5" cy="317.1" r="2.08"/>
<circle class="y3" cx="197.9" cy="322.3" r="2.08"/>
<circle class="y3" cx="201.2" cy="327.6" r="2.08"/>
<circle class="y3" cx="204.6" cy="332.8" r="2.08"/>
<circle class="y3" cx="168.2" cy="330.2" r="2.08"/>
<circle class="y3" cx="171.6" cy="335.4" r="2.08"/>
<circle class="y3" cx="174.9" cy="340.7" r="2.08"/>
<circle class="y3" cx="178.3" cy="345.9" r="2.08"/>
<circle class="y3" cx="175.2" cy="317.1" r="2.08"/>
<circle class="y3" cx="181.6" cy="351.2" r="2.09"/>
<circle class="y3" cx="185.0" cy="356.4" r="2.09"/>
<circle class="y3" cx="192.0" cy="343.4" r="2.09"/>
<circle class="y3" cx="188.9" cy="314.5" r="2.09"/>
<circle class="y3" cx="195.3" cy="348.6" r="2.09"/>
<circle class="y3" cx="192.2" cy="319.8" r="2.09"/>
<circle class="y3" cx="198.9" cy="330.3" r="2.09"/>
<circle class="y3" cx="202.3" cy="335.5" r="2.09"/>
<circle class="y3" cx="169.2" cy="338.2" r="2.09"/>
<circle class="y3" cx="172.6" cy="343.4" r="2.09"/>
<circle class="y3" cx="175.9" cy="348.7" r="2.09"/>
<circle class="y3" cx="172.8" cy="319.8" r="2.09"/>
<circle class="y3" cx="179.3" cy="353.9" r="2.09"/>
<circle class="y3" cx="183.2" cy="311.9" r="2.09"/>
<circle class="y3" cx="189.6" cy="346.1" r="2.09"/>
<circle class="y3" cx="186.5" cy="317.2" r="2.09"/>
<circle class="y3" cx="193.0" cy="351.4" r="2.09"/>
<circle class="y3" cx="196.6" cy="333.0" r="2.09"/>
<circle class="y3" cx="200.0" cy="338.2" r="2.09"/>
<circle class="y3" cx="207.0" cy="325.1" r="2.09"/>
<circle class="y3" cx="170.5" cy="322.5" r="2.09"/>
<circle class="y3" cx="180.8" cy="314.6" r="2.09"/>
<circle class="y3" cx="187.3" cy="348.8" r="2.09"/>
<circle class="y3" cx="190.7" cy="354.1" r="2.09"/>
<circle class="y3" cx="194.3" cy="335.7" r="2.10"/>
<circle class="y3" cx="197.7" cy="341.0" r="2.10"/>
<circle class="y3" cx="201.3" cy="322.6" r="2.10"/>
<circle class="y3" cx="204.7" cy="327.8" r="2.10"/>
<circle class="y3" cx="168.1" cy="325.2" r="2.10"/>
<circle class="y3" cx="171.5" cy="330.5" r="2.10"/>
<circle class="y3" cx="174.8" cy="335.8" r="2.10"/>
<circle class="y3" cx="178.2" cy="341.0" r="2.10"/>
<circle class="y3" cx="181.6" cy="346.3" r="2.10"/>
<circle class="y3" cx="178.5" cy="317.3" r="2.10"/>
<circle class="y3" cx="185.0" cy="351.6" r="2.10"/>
<circle class="y3" cx="188.4" cy="356.9" r="2.10"/>
<circle class="y3" cx="192.0" cy="338.4" r="2.10"/>
<circle class="y3" cx="195.4" cy="343.7" r="2.10"/>
<circle class="y3" cx="195.6" cy="320.0" r="2.10"/>
<circle class="y3" cx="199.0" cy="325.3" r="2.10"/>
<circle class="y3" cx="202.4" cy="330.5" r="2.10"/>
<circle class="y3" cx="169.1" cy="333.2" r="2.10"/>
<circle class="y3" cx="172.5" cy="338.5" r="2.10"/>
<circle class="y3" cx="175.9" cy="343.8" r="2.10"/>
<circle class="y3" cx="179.2" cy="349.1" r="2.10"/>
<circle class="y3" cx="176.1" cy="320.0" r="2.10"/>
<circle class="y3" cx="182.6" cy="354.4" r="2.10"/>
<circle class="y3" cx="189.7" cy="341.2" r="2.10"/>
<circle class="y3" cx="193.0" cy="346.5" r="2.10"/>
<circle class="y3" cx="189.9" cy="317.4" r="2.10"/>
<circle class="y3" cx="193.3" cy="322.7" r="2.10"/>
<circle class="y3" cx="196.7" cy="328.0" r="2.10"/>
<circle class="y3" cx="200.1" cy="333.3" r="2.10"/>
<circle class="y3" cx="173.7" cy="322.7" r="2.11"/>
<circle class="y3" cx="187.3" cy="343.9" r="2.11"/>
<circle class="y3" cx="184.2" cy="314.8" r="2.11"/>
<circle class="y3" cx="190.7" cy="349.3" r="2.11"/>
<circle class="y3" cx="187.6" cy="320.1" r="2.11"/>
<circle class="y3" cx="194.4" cy="330.7" r="2.11"/>
<circle class="y3" cx="197.8" cy="336.0" r="2.11"/>
<circle class="y3" cx="171.4" cy="325.5" r="2.11"/>
<circle class="y3" cx="174.8" cy="330.8" r="2.11"/>
<circle class="y3" cx="178.2" cy="336.1" r="2.11"/>
<circle class="y3" cx="181.6" cy="341.4" r="2.11"/>
<circle class="y3" cx="185.0" cy="346.7" r="2.11"/>
<circle class="y3" cx="181.8" cy="317.5" r="2.11"/>
<circle class="y3" cx="188.4" cy="352.0" r="2.11"/>
<circle class="y3" cx="192.0" cy="333.5" r="2.11"/>
<circle class="y3" cx="195.4" cy="338.8" r="2.11"/>
<circle class="y3" cx="202.5" cy="325.5" r="2.11"/>
<circle class="y3" cx="169.0" cy="328.2" r="2.12"/>
<circle class="y3" cx="172.4" cy="333.5" r="2.12"/>
<circle class="y3" cx="175.8" cy="338.9" r="2.12"/>
<circle class="y3" cx="179.2" cy="344.2" r="2.12"/>
<circle class="y3" cx="182.6" cy="349.5" r="2.12"/>
<circle class="y3" cx="179.4" cy="320.2" r="2.12"/>
<circle class="y3" cx="186.0" cy="354.8" r="2.12"/>
<circle class="y3" cx="189.7" cy="336.2" r="2.12"/>
<circle class="y3" cx="193.1" cy="341.6" r="2.12"/>
<circle class="y3" cx="196.7" cy="322.9" r="2.12"/>
<circle class="y3" cx="200.2" cy="328.3" r="2.12"/>
<circle class="y3" cx="177.1" cy="323.0" r="2.12"/>
<circle class="y3" cx="187.3" cy="339.0" r="2.12"/>
<circle class="y3" cx="190.7" cy="344.3" r="2.12"/>
<circle class="y3" cx="191.0" cy="320.3" r="2.12"/>
<circle class="y3" cx="194.4" cy="325.7" r="2.12"/>
<circle class="y3" cx="197.8" cy="331.0" r="2.12"/>
<circle class="y3" cx="174.7" cy="325.7" r="2.13"/>
<circle class="y3" cx="178.1" cy="331.1" r="2.13"/>
<circle class="y3" cx="181.5" cy="336.4" r="2.13"/>
<circle class="y3" cx="184.9" cy="341.8" r="2.13"/>
<circle class="y3" cx="188.4" cy="347.1" r="2.13"/>
<circle class="y3" cx="185.2" cy="317.7" r="2.13"/>
<circle class="y3" cx="188.6" cy="323.1" r="2.13"/>
<circle class="y3" cx="192.0" cy="328.4" r="2.13"/>
<circle class="y3" cx="195.5" cy="333.8" r="2.13"/>
<circle class="y3" cx="172.3" cy="328.5" r="2.13"/>
<circle class="y3" cx="175.7" cy="333.8" r="2.13"/>
<circle class="y3" cx="179.1" cy="339.2" r="2.13"/>
<circle class="y3" cx="182.5" cy="344.6" r="2.13"/>
<circle class="y3" cx="186.0" cy="349.9" r="2.13"/>
<circle class="y3" cx="182.8" cy="320.5" r="2.13"/>
<circle class="y3" cx="189.7" cy="331.2" r="2.13"/>
<circle class="y3" cx="193.1" cy="336.6" r="2.13"/>
<circle class="y3" cx="180.4" cy="323.2" r="2.14"/>
<circle class="y3" cx="187.3" cy="334.0" r="2.14"/>
<circle class="y3" cx="190.7" cy="339.3" r="2.14"/>
<circle class="y3" cx="197.9" cy="325.9" r="2.14"/>
<circle class="y3" cx="178.0" cy="326.0" r="2.14"/>
<circle class="y3" cx="181.5" cy="331.4" r="2.14"/>
<circle class="y3" cx="184.9" cy="336.8" r="2.14"/>
<circle class="y3" cx="188.4" cy="342.1" r="2.14"/>
<circle class="y3" cx="192.1" cy="323.3" r="2.14"/>
<circle class="y3" cx="195.5" cy="328.7" r="2.14"/>
<circle class="y3" cx="175.6" cy="328.8" r="2.14"/>
<circle class="y3" cx="179.1" cy="334.2" r="2.14"/>
<circle class="y3" cx="182.5" cy="339.6" r="2.14"/>
<circle class="y3" cx="186.0" cy="345.0" r="2.15"/>
<circle class="y3" cx="186.2" cy="320.7" r="2.15"/>
<circle class="y3" cx="189.7" cy="326.1" r="2.15"/>
<circle class="y3" cx="193.1" cy="331.5" r="2.15"/>
<circle class="y3" cx="183.8" cy="323.5" r="2.15"/>
<circle class="y3" cx="187.3" cy="328.9" r="2.15"/>
<circle class="y3" cx="190.7" cy="334.3" r="2.15"/>
<circle class="y3" cx="181.4" cy="326.3" r="2.15"/>
<circle class="y3" cx="184.9" cy="331.7" r="2.15"/>
<circle class="y3" cx="188.3" cy="337.1" r="2.15"/>
<circle class="y3" cx="179.0" cy="329.0" r="2.16"/>
<circle class="y3" cx="182.5" cy="334.5" r="2.16"/>
<circle class="y3" cx="185.9" cy="339.9" r="2.16"/>
<circle class="y3" cx="193.2" cy="326.4" r="2.16"/>
<circle class="y3" cx="187.3" cy="323.7" r="2.16"/>
<circle class="y3" cx="190.8" cy="329.2" r="2.16"/>
<circle class="y3" cx="184.9" cy="326.5" r="2.17"/>
<circle class="y3" cx="188.3" cy="332.0" r="2.17"/>
<circle class="y3" cx="182.4" cy="329.3" r="2.17"/>
<circle class="y3" cx="185.9" cy="334.8" r="2.17"/>
<circle class="y3" cx="188.3" cy="326.8" r="2.18"/>
<circle class="y3" cx="185.9" cy="329.6" r="2.19"/>
<circle class="o3" cx="418.3" cy="316.2" r="1.24"/>
<circle class="o3" cx="425.5" cy="316.2" r="1.24"/>
<circle class="o3" cx="421.9" cy="316.2" r="1.24"/>
<circle class="o3" cx="429.1" cy="316.2" r="1.24"/>
<circle class="o3" cx="416.5" cy="316.7" r="1.25"/>
<circle class="o3" cx="420.1" cy="316.7" r="1.25"/>
<circle class="o3" cx="427.3" cy="316.7" r="1.25"/>
<circle class="o3" cx="430.9" cy="316.7" r="1.25"/>
<circle class="o3" cx="423.7" cy="316.7" r="1.25"/>
<circle class="o3" cx="418.3" cy="317.1" r="1.25"/>
<circle class="o3" cx="425.5" cy="317.1" r="1.25"/>
<circle class="o3" cx="414.7" cy="317.1" r="1.25"/>
<circle class="o3" cx="429.1" cy="317.1" r="1.25"/>
<circle class="o3" cx="411.0" cy="317.1" r="1.25"/>
<circle class="o3" cx="432.8" cy="317.1" r="1.25"/>
<circle class="o3" cx="421.9" cy="317.1" r="1.25"/>
<circle class="o3" cx="416.4" cy="317.6" r="1.26"/>
<circle class="o3" cx="431.0" cy="317.6" r="1.26"/>
<circle class="o3" cx="412.8" cy="317.6" r="1.26"/>
<circle class="o3" cx="434.6" cy="317.6" r="1.26"/>
<circle class="o3" cx="427.4" cy="317.6" r="1.26"/>
<circle class="o3" cx="423.7" cy="317.6" r="1.26"/>
<circle class="o3" cx="420.1" cy="317.6" r="1.26"/>
<circle class="o3" cx="410.9" cy="318.1" r="1.27"/>
<circle class="o3" cx="429.2" cy="318.1" r="1.27"/>
<circle class="o3" cx="418.2" cy="318.1" r="1.27"/>
<circle class="o3" cx="421.9" cy="318.1" r="1.27"/>
<circle class="o3" cx="436.5" cy="318.1" r="1.27"/>
<circle class="o3" cx="414.6" cy="318.1" r="1.27"/>
<circle class="o3" cx="432.9" cy="318.1" r="1.27"/>
<circle class="o3" cx="425.6" cy="318.1" r="1.27"/>
<circle class="o3" cx="409.0" cy="318.6" r="1.28"/>
<circle class="o3" cx="412.7" cy="318.6" r="1.28"/>
<circle class="o3" cx="416.4" cy="318.6" r="1.28"/>
<circle class="o3" cx="420.0" cy="318.6" r="1.28"/>
<circle class="o3" cx="438.5" cy="318.6" r="1.28"/>
<circle class="o3" cx="423.7" cy="318.6" r="1.28"/>
<circle class="o3" cx="427.4" cy="318.6" r="1.28"/>
<circle class="o3" cx="431.1" cy="318.6" r="1.28"/>
<circle class="o3" cx="434.8" cy="318.6" r="1.28"/>
<circle class="o3" cx="407.0" cy="319.1" r="1.29"/>
<circle class="o3" cx="418.2" cy="319.1" r="1.29"/>
<circle class="o3" cx="433.0" cy="319.1" r="1.29"/>
<circle class="o3" cx="410.8" cy="319.1" r="1.29"/>
<circle class="o3" cx="429.3" cy="319.1" r="1.29"/>
<circle class="o3" cx="436.7" cy="319.1" r="1.29"/>
<circle class="o3" cx="414.5" cy="319.1" r="1.29"/>
<circle class="o3" cx="425.6" cy="319.1" r="1.29"/>
<circle class="o3" cx="421.9" cy="319.1" r="1.29"/>
<circle class="o3" cx="405.1" cy="319.6" r="1.29"/>
<circle class="o3" cx="416.3" cy="319.6" r="1.29"/>
<circle class="o3" cx="408.8" cy="319.6" r="1.29"/>
<circle class="o3" cx="420.0" cy="319.6" r="1.29"/>
<circle class="o3" cx="427.5" cy="319.6" r="1.29"/>
<circle class="o3" cx="431.2" cy="319.6" r="1.29"/>
<circle class="o3" cx="412.5" cy="319.6" r="1.29"/>
<circle class="o3" cx="423.7" cy="319.6" r="1.29"/>
<circle class="o3" cx="438.7" cy="319.6" r="1.29"/>
<circle class="o3" cx="435.0" cy="319.6" r="1.29"/>
<circle class="o3" cx="418.1" cy="320.1" r="1.30"/>
<circle class="o3" cx="406.8" cy="320.1" r="1.30"/>
<circle class="o3" cx="414.4" cy="320.1" r="1.30"/>
<circle class="o3" cx="421.9" cy="320.1" r="1.30"/>
<circle class="o3" cx="410.6" cy="320.1" r="1.30"/>
<circle class="o3" cx="433.2" cy="320.1" r="1.30"/>
<circle class="o3" cx="429.4" cy="320.1" r="1.30"/>
<circle class="o3" cx="436.9" cy="320.1" r="1.30"/>
<circle class="o3" cx="425.6" cy="320.1" r="1.30"/>
<circle class="o3" cx="440.7" cy="320.1" r="1.30"/>
<circle class="o3" cx="404.8" cy="320.7" r="1.31"/>
<circle class="o3" cx="408.6" cy="320.7" r="1.31"/>
<circle class="o3" cx="416.2" cy="320.7" r="1.31"/>
<circle class="o3" cx="423.8" cy="320.7" r="1.31"/>
<circle class="o3" cx="420.0" cy="320.7" r="1.31"/>
<circle class="o3" cx="412.4" cy="320.7" r="1.31"/>
<circle class="o3" cx="427.5" cy="320.7" r="1.31"/>
<circle class="o3" cx="431.3" cy="320.7" r="1.31"/>
<circle class="o3" cx="435.1" cy="320.7" r="1.31"/>
<circle class="o3" cx="438.9" cy="320.7" r="1.31"/>
<circle class="o3" cx="410.4" cy="321.2" r="1.32"/>
<circle class="o3" cx="402.8" cy="321.2" r="1.32"/>
<circle class="o3" cx="433.3" cy="321.2" r="1.32"/>
<circle class="o3" cx="429.5" cy="321.2" r="1.32"/>
<circle class="o3" cx="425.7" cy="321.2" r="1.32"/>
<circle class="o3" cx="418.1" cy="321.2" r="1.32"/>
<circle class="o3" cx="421.9" cy="321.2" r="1.32"/>
<circle class="o3" cx="414.2" cy="321.2" r="1.32"/>
<circle class="o3" cx="406.6" cy="321.2" r="1.32"/>
<circle class="o3" cx="437.1" cy="321.2" r="1.32"/>
<circle class="o3" cx="440.9" cy="321.2" r="1.32"/>
<circle class="o3" cx="408.4" cy="321.7" r="1.33"/>
<circle class="o3" cx="404.6" cy="321.7" r="1.33"/>
<circle class="o3" cx="416.1" cy="321.7" r="1.33"/>
<circle class="o3" cx="419.9" cy="321.7" r="1.33"/>
<circle class="o3" cx="412.3" cy="321.7" r="1.33"/>
<circle class="o3" cx="435.3" cy="321.7" r="1.33"/>
<circle class="o3" cx="423.8" cy="321.7" r="1.33"/>
<circle class="o3" cx="427.6" cy="321.7" r="1.33"/>
<circle class="o3" cx="431.4" cy="321.7" r="1.33"/>
<circle class="o3" cx="439.1" cy="321.7" r="1.33"/>
<circle class="o3" cx="443.0" cy="321.7" r="1.33"/>
<circle class="o3" cx="406.4" cy="322.3" r="1.34"/>
<circle class="o3" cx="402.6" cy="322.3" r="1.34"/>
<circle class="o3" cx="414.1" cy="322.3" r="1.34"/>
<circle class="o3" cx="410.3" cy="322.3" r="1.34"/>
<circle class="o3" cx="425.7" cy="322.3" r="1.34"/>
<circle class="o3" cx="421.9" cy="322.3" r="1.34"/>
<circle class="o3" cx="437.3" cy="322.3" r="1.34"/>
<circle class="o3" cx="418.0" cy="322.3" r="1.34"/>
<circle class="o3" cx="433.4" cy="322.3" r="1.34"/>
<circle class="o3" cx="429.6" cy="322.3" r="1.34"/>
<circle class="o3" cx="441.2" cy="322.3" r="1.34"/>
<circle class="o3" cx="404.4" cy="322.8" r="1.35"/>
<circle class="o3" cx="400.5" cy="322.8" r="1.35"/>
<circle class="o3" cx="408.3" cy="322.8" r="1.35"/>
<circle class="o3" cx="412.1" cy="322.8" r="1.35"/>
<circle class="o3" cx="423.8" cy="322.8" r="1.35"/>
<circle class="o3" cx="419.9" cy="322.8" r="1.35"/>
<circle class="o3" cx="427.7" cy="322.8" r="1.35"/>
<circle class="o3" cx="416.0" cy="322.8" r="1.35"/>
<circle class="o3" cx="439.3" cy="322.8" r="1.35"/>
<circle class="o3" cx="435.5" cy="322.8" r="1.35"/>
<circle class="o3" cx="431.6" cy="322.8" r="1.35"/>
<circle class="o3" cx="443.2" cy="322.8" r="1.35"/>
<circle class="o3" cx="446.5" cy="340.6" r="1.35"/>
<circle class="o3" cx="446.0" cy="325.5" r="1.35"/>
<circle class="o3" cx="402.3" cy="323.4" r="1.36"/>
<circle class="o3" cx="406.2" cy="323.4" r="1.36"/>
<circle class="o3" cx="410.1" cy="323.4" r="1.36"/>
<circle class="o3" cx="414.0" cy="323.4" r="1.36"/>
<circle class="o3" cx="417.9" cy="323.4" r="1.36"/>
<circle class="o3" cx="421.8" cy="323.4" r="1.36"/>
<circle class="o3" cx="425.8" cy="323.4" r="1.36"/>
<circle class="o3" cx="437.5" cy="323.4" r="1.36"/>
<circle class="o3" cx="429.7" cy="323.4" r="1.36"/>
<circle class="o3" cx="433.6" cy="323.4" r="1.36"/>
<circle class="o3" cx="441.4" cy="323.4" r="1.36"/>
<circle class="o3" cx="445.3" cy="323.4" r="1.36"/>
<circle class="o3" cx="447.3" cy="337.0" r="1.36"/>
<circle class="o3" cx="400.2" cy="323.9" r="1.36"/>
<circle class="o3" cx="404.1" cy="323.9" r="1.36"/>
<circle class="o3" cx="408.1" cy="323.9" r="1.36"/>
<circle class="o3" cx="412.0" cy="323.9" r="1.36"/>
<circle class="o3" cx="423.8" cy="323.9" r="1.36"/>
<circle class="o3" cx="415.9" cy="323.9" r="1.36"/>
<circle class="o3" cx="419.9" cy="323.9" r="1.36"/>
<circle class="o3" cx="427.8" cy="323.9" r="1.36"/>
<circle class="o3" cx="435.6" cy="323.9" r="1.36"/>
<circle class="o3" cx="431.7" cy="323.9" r="1.36"/>
<circle class="o3" cx="439.6" cy="323.9" r="1.36"/>
<circle class="o3" cx="443.5" cy="323.9" r="1.36"/>
<circle class="o3" cx="446.8" cy="342.0" r="1.37"/>
<circle class="o3" cx="398.0" cy="324.5" r="1.37"/>
<circle class="o3" cx="409.9" cy="324.5" r="1.37"/>
<circle class="o3" cx="402.0" cy="324.5" r="1.37"/>
<circle class="o3" cx="406.0" cy="324.5" r="1.37"/>
<circle class="o3" cx="417.9" cy="324.5" r="1.37"/>
<circle class="o3" cx="421.8" cy="324.5" r="1.37"/>
<circle class="o3" cx="413.9" cy="324.5" r="1.37"/>
<circle class="o3" cx="425.8" cy="324.5" r="1.37"/>
<circle class="o3" cx="429.8" cy="324.5" r="1.37"/>
<circle class="o3" cx="433.7" cy="324.5" r="1.37"/>
<circle class="o3" cx="437.7" cy="324.5" r="1.37"/>
<circle class="o3" cx="445.6" cy="324.5" r="1.37"/>
<circle class="o3" cx="441.7" cy="324.5" r="1.37"/>
<circle class="o3" cx="447.0" cy="336.1" r="1.38"/>
<circle class="o3" cx="403.9" cy="325.1" r="1.38"/>
<circle class="o3" cx="399.9" cy="325.1" r="1.38"/>
<circle class="o3" cx="407.9" cy="325.1" r="1.38"/>
<circle class="o3" cx="411.9" cy="325.1" r="1.38"/>
<circle class="o3" cx="419.8" cy="325.1" r="1.38"/>
<circle class="o3" cx="415.8" cy="325.1" r="1.38"/>
<circle class="o3" cx="431.8" cy="325.1" r="1.38"/>
<circle class="o3" cx="435.8" cy="325.1" r="1.38"/>
<circle class="o3" cx="427.8" cy="325.1" r="1.38"/>
<circle class="o3" cx="423.8" cy="325.1" r="1.38"/>
<circle class="o3" cx="439.8" cy="325.1" r="1.38"/>
<circle class="o3" cx="443.8" cy="325.1" r="1.38"/>
<circle class="o3" cx="447.2" cy="343.4" r="1.39"/>
<circle class="o3" cx="446.5" cy="341.2" r="1.39"/>
<circle class="o3" cx="397.8" cy="339.0" r="1.39"/>
<circle class="o3" cx="397.7" cy="325.7" r="1.39"/>
<circle class="o3" cx="405.7" cy="325.7" r="1.39"/>
<circle class="o3" cx="401.7" cy="325.7" r="1.39"/>
<circle class="o3" cx="417.8" cy="325.7" r="1.39"/>
<circle class="o3" cx="413.8" cy="325.7" r="1.39"/>
<circle class="o3" cx="409.8" cy="325.7" r="1.39"/>
<circle class="o3" cx="421.8" cy="325.7" r="1.39"/>
<circle class="o3" cx="429.9" cy="325.7" r="1.39"/>
<circle class="o3" cx="425.9" cy="325.7" r="1.39"/>
<circle class="o3" cx="437.9" cy="325.7" r="1.39"/>
<circle class="o3" cx="433.9" cy="325.7" r="1.39"/>
<circle class="o3" cx="441.9" cy="325.7" r="1.39"/>
<circle class="o3" cx="446.0" cy="325.7" r="1.39"/>
<circle class="o3" cx="445.3" cy="344.1" r="1.39"/>
<circle class="o3" cx="447.4" cy="337.4" r="1.40"/>
<circle class="o3" cx="399.6" cy="326.3" r="1.40"/>
<circle class="o3" cx="407.7" cy="326.3" r="1.40"/>
<circle class="o3" cx="411.7" cy="326.3" r="1.40"/>
<circle class="o3" cx="415.8" cy="326.3" r="1.40"/>
<circle class="o3" cx="403.6" cy="326.3" r="1.40"/>
<circle class="o3" cx="423.9" cy="326.3" r="1.40"/>
<circle class="o3" cx="419.8" cy="326.3" r="1.40"/>
<circle class="o3" cx="427.9" cy="326.3" r="1.40"/>
<circle class="o3" cx="432.0" cy="326.3" r="1.40"/>
<circle class="o3" cx="436.0" cy="326.3" r="1.40"/>
<circle class="o3" cx="440.1" cy="326.3" r="1.40"/>
<circle class="o3" cx="444.1" cy="326.3" r="1.40"/>
<circle class="o3" cx="398.8" cy="344.8" r="1.40"/>
<circle class="o3" cx="398.2" cy="342.6" r="1.41"/>
<circle class="o3" cx="446.9" cy="342.6" r="1.41"/>
<circle class="o3" cx="397.5" cy="340.4" r="1.41"/>
<circle class="o3" cx="446.2" cy="340.4" r="1.41"/>
<circle class="o3" cx="397.4" cy="326.9" r="1.41"/>
<circle class="o3" cx="401.4" cy="326.9" r="1.41"/>
<circle class="o3" cx="409.6" cy="326.9" r="1.41"/>
<circle class="o3" cx="405.5" cy="326.9" r="1.41"/>
<circle class="o3" cx="417.7" cy="326.9" r="1.41"/>
<circle class="o3" cx="413.7" cy="326.9" r="1.41"/>
<circle class="o3" cx="421.8" cy="326.9" r="1.41"/>
<circle class="o3" cx="425.9" cy="326.9" r="1.41"/>
<circle class="o3" cx="430.0" cy="326.9" r="1.41"/>
<circle class="o3" cx="438.1" cy="326.9" r="1.41"/>
<circle class="o3" cx="434.1" cy="326.9" r="1.41"/>
<circle class="o3" cx="442.2" cy="326.9" r="1.41"/>
<circle class="o3" cx="446.3" cy="326.9" r="1.41"/>
<circle class="o3" cx="445.6" cy="345.6" r="1.41"/>
<circle class="o3" cx="445.0" cy="343.3" r="1.42"/>
<circle class="o3" cx="447.7" cy="338.8" r="1.42"/>
<circle class="o3" cx="447.1" cy="336.5" r="1.42"/>
<circle class="o3" cx="397.2" cy="334.3" r="1.42"/>
<circle class="o3" cx="411.5" cy="327.5" r="1.42"/>
<circle class="o3" cx="407.4" cy="327.5" r="1.42"/>
<circle class="o3" cx="399.2" cy="327.5" r="1.42"/>
<circle class="o3" cx="415.7" cy="327.5" r="1.42"/>
<circle class="o3" cx="403.3" cy="327.5" r="1.42"/>
<circle class="o3" cx="423.9" cy="327.5" r="1.42"/>
<circle class="o3" cx="419.8" cy="327.5" r="1.42"/>
<circle class="o3" cx="428.0" cy="327.5" r="1.42"/>
<circle class="o3" cx="432.1" cy="327.5" r="1.42"/>
<circle class="o3" cx="436.2" cy="327.5" r="1.42"/>
<circle class="o3" cx="440.3" cy="327.5" r="1.42"/>
<circle class="o3" cx="444.4" cy="327.5" r="1.42"/>
<circle class="o3" cx="448.5" cy="327.5" r="1.42"/>
<circle class="o3" cx="446.5" cy="341.8" r="1.43"/>
<circle class="o3" cx="445.9" cy="339.5" r="1.43"/>
<circle class="o3" cx="447.3" cy="330.4" r="1.43"/>
<circle class="o3" cx="409.4" cy="328.1" r="1.43"/>
<circle class="o3" cx="397.0" cy="328.1" r="1.43"/>
<circle class="o3" cx="401.1" cy="328.1" r="1.43"/>
<circle class="o3" cx="405.3" cy="328.1" r="1.43"/>
<circle class="o3" cx="413.5" cy="328.1" r="1.43"/>
<circle class="o3" cx="421.8" cy="328.1" r="1.43"/>
<circle class="o3" cx="425.9" cy="328.1" r="1.43"/>
<circle class="o3" cx="417.7" cy="328.1" r="1.43"/>
<circle class="o3" cx="430.1" cy="328.1" r="1.43"/>
<circle class="o3" cx="434.2" cy="328.1" r="1.43"/>
<circle class="o3" cx="442.5" cy="328.1" r="1.43"/>
<circle class="o3" cx="438.4" cy="328.1" r="1.43"/>
<circle class="o3" cx="446.6" cy="328.1" r="1.43"/>
<circle class="o3" cx="400.4" cy="347.1" r="1.44"/>
<circle class="o3" cx="399.7" cy="344.8" r="1.44"/>
<circle class="o3" cx="445.3" cy="344.8" r="1.44"/>
<circle class="o3" cx="399.0" cy="342.5" r="1.44"/>
<circle class="o3" cx="398.3" cy="340.2" r="1.44"/>
<circle class="o3" cx="397.6" cy="337.9" r="1.44"/>
<circle class="o3" cx="447.4" cy="337.9" r="1.44"/>
<circle class="o3" cx="396.9" cy="335.6" r="1.44"/>
<circle class="o3" cx="398.9" cy="328.7" r="1.44"/>
<circle class="o3" cx="407.2" cy="328.7" r="1.44"/>
<circle class="o3" cx="411.4" cy="328.7" r="1.44"/>
<circle class="o3" cx="403.1" cy="328.7" r="1.44"/>
<circle class="o3" cx="428.1" cy="328.7" r="1.44"/>
<circle class="o3" cx="419.7" cy="328.7" r="1.44"/>
<circle class="o3" cx="423.9" cy="328.7" r="1.44"/>
<circle class="o3" cx="415.6" cy="328.7" r="1.44"/>
<circle class="o3" cx="432.2" cy="328.7" r="1.44"/>
<circle class="o3" cx="444.7" cy="328.7" r="1.44"/>
<circle class="o3" cx="440.6" cy="328.7" r="1.44"/>
<circle class="o3" cx="436.4" cy="328.7" r="1.44"/>
<circle class="o3" cx="444.1" cy="347.8" r="1.45"/>
<circle class="o3" cx="446.2" cy="340.9" r="1.45"/>
<circle class="o3" cx="448.3" cy="334.0" r="1.45"/>
<circle class="o3" cx="447.7" cy="331.7" r="1.45"/>
<circle class="o3" cx="400.8" cy="329.4" r="1.45"/>
<circle class="o3" cx="396.6" cy="329.4" r="1.45"/>
<circle class="o3" cx="409.2" cy="329.4" r="1.45"/>
<circle class="o3" cx="405.0" cy="329.4" r="1.45"/>
<circle class="o3" cx="413.4" cy="329.4" r="1.45"/>
<circle class="o3" cx="417.6" cy="329.4" r="1.45"/>
<circle class="o3" cx="421.8" cy="329.4" r="1.45"/>
<circle class="o3" cx="430.2" cy="329.4" r="1.45"/>
<circle class="o3" cx="426.0" cy="329.4" r="1.45"/>
<circle class="o3" cx="438.6" cy="329.4" r="1.45"/>
<circle class="o3" cx="447.0" cy="329.4" r="1.45"/>
<circle class="o3" cx="434.4" cy="329.4" r="1.45"/>
<circle class="o3" cx="442.8" cy="329.4" r="1.45"/>
<circle class="o3" cx="442.1" cy="348.6" r="1.46"/>
<circle class="o3" cx="399.4" cy="346.3" r="1.46"/>
<circle class="o3" cx="445.6" cy="346.3" r="1.46"/>
<circle class="o3" cx="445.0" cy="344.0" r="1.46"/>
<circle class="o3" cx="447.1" cy="337.0" r="1.46"/>
<circle class="o3" cx="402.8" cy="330.0" r="1.46"/>
<circle class="o3" cx="398.5" cy="330.0" r="1.46"/>
<circle class="o3" cx="407.0" cy="330.0" r="1.46"/>
<circle class="o3" cx="415.5" cy="330.0" r="1.46"/>
<circle class="o3" cx="411.2" cy="330.0" r="1.46"/>
<circle class="o3" cx="419.7" cy="330.0" r="1.46"/>
<circle class="o3" cx="423.9" cy="330.0" r="1.46"/>
<circle class="o3" cx="428.1" cy="330.0" r="1.46"/>
<circle class="o3" cx="440.8" cy="330.0" r="1.46"/>
<circle class="o3" cx="436.6" cy="330.0" r="1.46"/>
<circle class="o3" cx="445.1" cy="330.0" r="1.46"/>
<circle class="o3" cx="432.4" cy="330.0" r="1.46"/>
<circle class="o3" cx="402.0" cy="349.4" r="1.47"/>
<circle class="o3" cx="401.3" cy="347.1" r="1.47"/>
<circle class="o3" cx="443.7" cy="347.1" r="1.47"/>
<circle class="o3" cx="400.6" cy="344.7" r="1.47"/>
<circle class="o3" cx="443.0" cy="344.7" r="1.47"/>
<circle class="o3" cx="399.9" cy="342.4" r="1.47"/>
<circle class="o3" cx="399.1" cy="340.1" r="1.47"/>
<circle class="o3" cx="445.9" cy="340.1" r="1.47"/>
<circle class="o3" cx="398.4" cy="337.7" r="1.47"/>
<circle class="o3" cx="397.7" cy="335.4" r="1.47"/>
<circle class="o3" cx="397.0" cy="333.0" r="1.47"/>
<circle class="o3" cx="448.0" cy="333.0" r="1.47"/>
<circle class="o3" cx="396.2" cy="330.7" r="1.48"/>
<circle class="o3" cx="400.5" cy="330.7" r="1.48"/>
<circle class="o3" cx="413.3" cy="330.7" r="1.48"/>
<circle class="o3" cx="421.8" cy="330.7" r="1.48"/>
<circle class="o3" cx="417.5" cy="330.7" r="1.48"/>
<circle class="o3" cx="409.0" cy="330.7" r="1.48"/>
<circle class="o3" cx="404.8" cy="330.7" r="1.48"/>
<circle class="o3" cx="426.1" cy="330.7" r="1.48"/>
<circle class="o3" cx="430.3" cy="330.7" r="1.48"/>
<circle class="o3" cx="438.8" cy="330.7" r="1.48"/>
<circle class="o3" cx="434.6" cy="330.7" r="1.48"/>
<circle class="o3" cx="443.1" cy="330.7" r="1.48"/>
<circle class="o3" cx="447.3" cy="330.7" r="1.48"/>
<circle class="o3" cx="442.4" cy="350.2" r="1.48"/>
<circle class="o3" cx="441.7" cy="347.9" r="1.48"/>
<circle class="o3" cx="444.6" cy="343.2" r="1.48"/>
<circle class="o3" cx="446.8" cy="336.1" r="1.48"/>
<circle class="o3" cx="402.5" cy="331.3" r="1.49"/>
<circle class="o3" cx="398.2" cy="331.3" r="1.49"/>
<circle class="o3" cx="411.1" cy="331.3" r="1.49"/>
<circle class="o3" cx="406.8" cy="331.3" r="1.49"/>
<circle class="o3" cx="423.9" cy="331.3" r="1.49"/>
<circle class="o3" cx="419.6" cy="331.3" r="1.49"/>
<circle class="o3" cx="415.4" cy="331.3" r="1.49"/>
<circle class="o3" cx="432.5" cy="331.3" r="1.49"/>
<circle class="o3" cx="441.1" cy="331.3" r="1.49"/>
<circle class="o3" cx="436.8" cy="331.3" r="1.49"/>
<circle class="o3" cx="428.2" cy="331.3" r="1.49"/>
<circle class="o3" cx="445.4" cy="331.3" r="1.49"/>
<circle class="o3" cx="440.4" cy="351.0" r="1.49"/>
<circle class="o3" cx="443.3" cy="346.3" r="1.49"/>
<circle class="o3" cx="442.6" cy="343.9" r="1.49"/>
<circle class="o3" cx="398.8" cy="341.6" r="1.49"/>
<circle class="o3" cx="446.2" cy="341.6" r="1.49"/>
<circle class="o3" cx="445.5" cy="339.2" r="1.49"/>
<circle class="o3" cx="400.2" cy="332.0" r="1.50"/>
<circle class="o3" cx="417.5" cy="332.0" r="1.50"/>
<circle class="o3" cx="430.4" cy="332.0" r="1.50"/>
<circle class="o3" cx="439.1" cy="332.0" r="1.50"/>
<circle class="o3" cx="404.5" cy="332.0" r="1.50"/>
<circle class="o3" cx="421.8" cy="332.0" r="1.50"/>
<circle class="o3" cx="408.8" cy="332.0" r="1.50"/>
<circle class="o3" cx="413.1" cy="332.0" r="1.50"/>
<circle class="o3" cx="447.7" cy="332.0" r="1.50"/>
<circle class="o3" cx="434.8" cy="332.0" r="1.50"/>
<circle class="o3" cx="426.1" cy="332.0" r="1.50"/>
<circle class="o3" cx="443.4" cy="332.0" r="1.50"/>
<circle class="o3" cx="403.7" cy="351.8" r="1.50"/>
<circle class="o3" cx="438.4" cy="351.8" r="1.50"/>
<circle class="o3" cx="403.0" cy="349.5" r="1.50"/>
<circle class="o3" cx="442.0" cy="349.5" r="1.50"/>
<circle class="o3" cx="402.3" cy="347.1" r="1.50"/>
<circle class="o3" cx="441.3" cy="347.1" r="1.50"/>
<circle class="o3" cx="401.5" cy="344.7" r="1.50"/>
<circle class="o3" cx="400.8" cy="342.3" r="1.50"/>
<circle class="o3" cx="444.2" cy="342.3" r="1.50"/>
<circle class="o3" cx="400.0" cy="339.9" r="1.51"/>
<circle class="o3" cx="399.3" cy="337.5" r="1.51"/>
<circle class="o3" cx="398.6" cy="335.1" r="1.51"/>
<circle class="o3" cx="446.4" cy="335.1" r="1.51"/>
<circle class="o3" cx="402.2" cy="332.7" r="1.51"/>
<circle class="o3" cx="406.5" cy="332.7" r="1.51"/>
<circle class="o3" cx="415.2" cy="332.7" r="1.51"/>
<circle class="o3" cx="419.6" cy="332.7" r="1.51"/>
<circle class="o3" cx="397.8" cy="332.7" r="1.51"/>
<circle class="o3" cx="410.9" cy="332.7" r="1.51"/>
<circle class="o3" cx="437.0" cy="332.7" r="1.51"/>
<circle class="o3" cx="424.0" cy="332.7" r="1.51"/>
<circle class="o3" cx="445.7" cy="332.7" r="1.51"/>
<circle class="o3" cx="428.3" cy="332.7" r="1.51"/>
<circle class="o3" cx="432.7" cy="332.7" r="1.51"/>
<circle class="o3" cx="441.4" cy="332.7" r="1.51"/>
<circle class="o3" cx="405.8" cy="352.7" r="1.51"/>
<circle class="o3" cx="436.3" cy="352.7" r="1.51"/>
<circle class="o3" cx="405.0" cy="350.3" r="1.51"/>
<circle class="o3" cx="440.0" cy="350.3" r="1.51"/>
<circle class="o3" cx="404.3" cy="347.9" r="1.51"/>
<circle class="o3" cx="439.2" cy="347.9" r="1.51"/>
<circle class="o3" cx="442.9" cy="345.5" r="1.51"/>
<circle class="o3" cx="442.2" cy="343.1" r="1.52"/>
<circle class="o3" cx="445.1" cy="338.3" r="1.52"/>
<circle class="o3" cx="404.2" cy="333.4" r="1.52"/>
<circle class="o3" cx="399.8" cy="333.4" r="1.52"/>
<circle class="o3" cx="434.9" cy="333.4" r="1.52"/>
<circle class="o3" cx="408.6" cy="333.4" r="1.52"/>
<circle class="o3" cx="413.0" cy="333.4" r="1.52"/>
<circle class="o3" cx="417.4" cy="333.4" r="1.52"/>
<circle class="o3" cx="426.2" cy="333.4" r="1.52"/>
<circle class="o3" cx="421.8" cy="333.4" r="1.52"/>
<circle class="o3" cx="439.3" cy="333.4" r="1.52"/>
<circle class="o3" cx="430.5" cy="333.4" r="1.52"/>
<circle class="o3" cx="443.7" cy="333.4" r="1.52"/>
<circle class="o3" cx="407.9" cy="353.5" r="1.52"/>
<circle class="o3" cx="434.2" cy="353.5" r="1.52"/>
<circle class="o3" cx="407.1" cy="351.1" r="1.52"/>
<circle class="o3" cx="437.9" cy="351.1" r="1.52"/>
<circle class="o3" cx="406.4" cy="348.7" r="1.52"/>
<circle class="o3" cx="441.6" cy="348.7" r="1.52"/>
<circle class="o3" cx="440.9" cy="346.3" r="1.53"/>
<circle class="o3" cx="443.8" cy="341.4" r="1.53"/>
<circle class="o3" cx="443.1" cy="339.0" r="1.53"/>
<circle class="o3" cx="398.2" cy="336.6" r="1.53"/>
<circle class="o3" cx="446.8" cy="336.6" r="1.53"/>
<circle class="o3" cx="401.9" cy="334.1" r="1.53"/>
<circle class="o3" cx="415.1" cy="334.1" r="1.53"/>
<circle class="o3" cx="406.3" cy="334.1" r="1.53"/>
<circle class="o3" cx="410.7" cy="334.1" r="1.53"/>
<circle class="o3" cx="432.8" cy="334.1" r="1.53"/>
<circle class="o3" cx="441.7" cy="334.1" r="1.53"/>
<circle class="o3" cx="424.0" cy="334.1" r="1.53"/>
<circle class="o3" cx="419.6" cy="334.1" r="1.53"/>
<circle class="o3" cx="428.4" cy="334.1" r="1.53"/>
<circle class="o3" cx="437.2" cy="334.1" r="1.53"/>
<circle class="o3" cx="446.1" cy="334.1" r="1.53"/>
<circle class="o3" cx="410.0" cy="354.4" r="1.53"/>
<circle class="o3" cx="432.1" cy="354.4" r="1.53"/>
<circle class="o3" cx="436.5" cy="354.4" r="1.53"/>
<circle class="o3" cx="409.2" cy="352.0" r="1.54"/>
<circle class="o3" cx="435.8" cy="352.0" r="1.54"/>
<circle class="o3" cx="439.5" cy="349.5" r="1.54"/>
<circle class="o3" cx="403.3" cy="347.1" r="1.54"/>
<circle class="o3" cx="438.8" cy="347.1" r="1.54"/>
<circle class="o3" cx="402.5" cy="344.7" r="1.54"/>
<circle class="o3" cx="442.5" cy="344.7" r="1.54"/>
<circle class="o3" cx="401.8" cy="342.2" r="1.54"/>
<circle class="o3" cx="441.8" cy="342.2" r="1.54"/>
<circle class="o3" cx="401.0" cy="339.8" r="1.54"/>
<circle class="o3" cx="400.2" cy="337.3" r="1.54"/>
<circle class="o3" cx="444.8" cy="337.3" r="1.54"/>
<circle class="o3" cx="399.5" cy="334.8" r="1.54"/>
<circle class="o3" cx="439.6" cy="334.8" r="1.54"/>
<circle class="o3" cx="403.9" cy="334.8" r="1.54"/>
<circle class="o3" cx="421.8" cy="334.8" r="1.54"/>
<circle class="o3" cx="430.7" cy="334.8" r="1.54"/>
<circle class="o3" cx="408.4" cy="334.8" r="1.54"/>
<circle class="o3" cx="417.3" cy="334.8" r="1.54"/>
<circle class="o3" cx="444.0" cy="334.8" r="1.54"/>
<circle class="o3" cx="412.8" cy="334.8" r="1.54"/>
<circle class="o3" cx="426.2" cy="334.8" r="1.54"/>
<circle class="o3" cx="435.1" cy="334.8" r="1.54"/>
<circle class="o3" cx="421.0" cy="355.3" r="1.55"/>
<circle class="o3" cx="412.1" cy="355.3" r="1.55"/>
<circle class="o3" cx="425.5" cy="355.3" r="1.55"/>
<circle class="o3" cx="416.6" cy="355.3" r="1.55"/>
<circle class="o3" cx="429.9" cy="355.3" r="1.55"/>
<circle class="o3" cx="433.7" cy="352.8" r="1.55"/>
<circle class="o3" cx="411.3" cy="352.8" r="1.55"/>
<circle class="o3" cx="410.6" cy="350.4" r="1.55"/>
<circle class="o3" cx="432.9" cy="350.4" r="1.55"/>
<circle class="o3" cx="437.4" cy="350.4" r="1.55"/>
<circle class="o3" cx="405.4" cy="347.9" r="1.55"/>
<circle class="o3" cx="436.7" cy="347.9" r="1.55"/>
<circle class="o3" cx="404.6" cy="345.5" r="1.55"/>
<circle class="o3" cx="440.4" cy="345.5" r="1.55"/>
<circle class="o3" cx="403.8" cy="343.0" r="1.55"/>
<circle class="o3" cx="443.4" cy="340.5" r="1.55"/>
<circle class="o3" cx="406.0" cy="335.6" r="1.56"/>
<circle class="o3" cx="410.5" cy="335.6" r="1.56"/>
<circle class="o3" cx="401.5" cy="335.6" r="1.56"/>
<circle class="o3" cx="419.5" cy="335.6" r="1.56"/>
<circle class="o3" cx="428.5" cy="335.6" r="1.56"/>
<circle class="o3" cx="415.0" cy="335.6" r="1.56"/>
<circle class="o3" cx="424.0" cy="335.6" r="1.56"/>
<circle class="o3" cx="437.5" cy="335.6" r="1.56"/>
<circle class="o3" cx="442.0" cy="335.6" r="1.56"/>
<circle class="o3" cx="433.0" cy="335.6" r="1.56"/>
<circle class="o3" cx="414.3" cy="356.2" r="1.56"/>
<circle class="o3" cx="418.8" cy="356.2" r="1.56"/>
<circle class="o3" cx="423.3" cy="356.2" r="1.56"/>
<circle class="o3" cx="427.7" cy="356.2" r="1.56"/>
<circle class="o3" cx="422.5" cy="353.7" r="1.56"/>
<circle class="o3" cx="431.5" cy="353.7" r="1.56"/>
<circle class="o3" cx="413.5" cy="353.7" r="1.56"/>
<circle class="o3" cx="418.0" cy="353.7" r="1.56"/>
<circle class="o3" cx="427.0" cy="353.7" r="1.56"/>
<circle class="o3" cx="408.2" cy="351.2" r="1.56"/>
<circle class="o3" cx="430.8" cy="351.2" r="1.56"/>
<circle class="o3" cx="435.3" cy="351.2" r="1.56"/>
<circle class="o3" cx="412.7" cy="351.2" r="1.56"/>
<circle class="o3" cx="407.5" cy="348.8" r="1.56"/>
<circle class="o3" cx="434.5" cy="348.8" r="1.56"/>
<circle class="o3" cx="438.3" cy="346.3" r="1.56"/>
<circle class="o3" cx="406.7" cy="346.3" r="1.56"/>
<circle class="o3" cx="405.9" cy="343.8" r="1.56"/>
<circle class="o3" cx="442.1" cy="343.8" r="1.56"/>
<circle class="o3" cx="441.3" cy="341.3" r="1.57"/>
<circle class="o3" cx="435.3" cy="336.3" r="1.57"/>
<circle class="o3" cx="426.3" cy="336.3" r="1.57"/>
<circle class="o3" cx="421.7" cy="336.3" r="1.57"/>
<circle class="o3" cx="408.2" cy="336.3" r="1.57"/>
<circle class="o3" cx="403.6" cy="336.3" r="1.57"/>
<circle class="o3" cx="417.2" cy="336.3" r="1.57"/>
<circle class="o3" cx="412.7" cy="336.3" r="1.57"/>
<circle class="o3" cx="439.9" cy="336.3" r="1.57"/>
<circle class="o3" cx="430.8" cy="336.3" r="1.57"/>
<circle class="o3" cx="444.4" cy="336.3" r="1.57"/>
<circle class="o3" cx="420.2" cy="354.6" r="1.57"/>
<circle class="o3" cx="429.3" cy="354.6" r="1.57"/>
<circle class="o3" cx="424.8" cy="354.6" r="1.57"/>
<circle class="o3" cx="415.7" cy="354.6" r="1.57"/>
<circle class="o3" cx="428.6" cy="352.1" r="1.57"/>
<circle class="o3" cx="419.5" cy="352.1" r="1.57"/>
<circle class="o3" cx="424.0" cy="352.1" r="1.57"/>
<circle class="o3" cx="433.1" cy="352.1" r="1.57"/>
<circle class="o3" cx="414.9" cy="352.1" r="1.57"/>
<circle class="o3" cx="409.6" cy="349.6" r="1.57"/>
<circle class="o3" cx="432.3" cy="349.6" r="1.57"/>
<circle class="o3" cx="436.9" cy="349.6" r="1.57"/>
<circle class="o3" cx="408.9" cy="347.1" r="1.58"/>
<circle class="o3" cx="436.1" cy="347.1" r="1.58"/>
<circle class="o3" cx="440.0" cy="344.6" r="1.58"/>
<circle class="o3" cx="402.8" cy="342.1" r="1.58"/>
<circle class="o3" cx="439.2" cy="342.1" r="1.58"/>
<circle class="o3" cx="402.0" cy="339.6" r="1.58"/>
<circle class="o3" cx="443.0" cy="339.6" r="1.58"/>
<circle class="o3" cx="414.9" cy="337.1" r="1.58"/>
<circle class="o3" cx="405.8" cy="337.1" r="1.58"/>
<circle class="o3" cx="401.2" cy="337.1" r="1.58"/>
<circle class="o3" cx="410.3" cy="337.1" r="1.58"/>
<circle class="o3" cx="424.0" cy="337.1" r="1.58"/>
<circle class="o3" cx="433.1" cy="337.1" r="1.58"/>
<circle class="o3" cx="428.6" cy="337.1" r="1.58"/>
<circle class="o3" cx="419.5" cy="337.1" r="1.58"/>
<circle class="o3" cx="437.7" cy="337.1" r="1.58"/>
<circle class="o3" cx="442.3" cy="337.1" r="1.58"/>
<circle class="o3" cx="422.5" cy="355.5" r="1.58"/>
<circle class="o3" cx="430.9" cy="353.0" r="1.59"/>
<circle class="o3" cx="421.7" cy="353.0" r="1.59"/>
<circle class="o3" cx="426.3" cy="353.0" r="1.59"/>
<circle class="o3" cx="417.2" cy="353.0" r="1.59"/>
<circle class="o3" cx="416.4" cy="350.5" r="1.59"/>
<circle class="o3" cx="411.8" cy="350.5" r="1.59"/>
<circle class="o3" cx="421.0" cy="350.5" r="1.59"/>
<circle class="o3" cx="430.1" cy="350.5" r="1.59"/>
<circle class="o3" cx="425.6" cy="350.5" r="1.59"/>
<circle class="o3" cx="411.0" cy="348.0" r="1.59"/>
<circle class="o3" cx="434.0" cy="348.0" r="1.59"/>
<circle class="o3" cx="410.3" cy="345.4" r="1.59"/>
<circle class="o3" cx="433.2" cy="345.4" r="1.59"/>
<circle class="o3" cx="437.8" cy="345.4" r="1.59"/>
<circle class="o3" cx="404.9" cy="342.9" r="1.59"/>
<circle class="o3" cx="437.0" cy="342.9" r="1.59"/>
<circle class="o3" cx="404.1" cy="340.4" r="1.59"/>
<circle class="o3" cx="440.9" cy="340.4" r="1.59"/>
<circle class="o3" cx="421.7" cy="337.8" r="1.59"/>
<circle class="o3" cx="412.5" cy="337.8" r="1.59"/>
<circle class="o3" cx="403.3" cy="337.8" r="1.59"/>
<circle class="o3" cx="407.9" cy="337.8" r="1.59"/>
<circle class="o3" cx="430.9" cy="337.8" r="1.59"/>
<circle class="o3" cx="417.1" cy="337.8" r="1.59"/>
<circle class="o3" cx="435.5" cy="337.8" r="1.59"/>
<circle class="o3" cx="440.1" cy="337.8" r="1.59"/>
<circle class="o3" cx="426.3" cy="337.8" r="1.59"/>
<circle class="o3" cx="423.3" cy="351.4" r="1.60"/>
<circle class="o3" cx="414.0" cy="351.4" r="1.60"/>
<circle class="o3" cx="427.9" cy="351.4" r="1.60"/>
<circle class="o3" cx="418.7" cy="351.4" r="1.60"/>
<circle class="o3" cx="431.7" cy="348.8" r="1.60"/>
<circle class="o3" cx="422.5" cy="348.8" r="1.60"/>
<circle class="o3" cx="427.1" cy="348.8" r="1.60"/>
<circle class="o3" cx="417.9" cy="348.8" r="1.60"/>
<circle class="o3" cx="413.3" cy="348.8" r="1.60"/>
<circle class="o3" cx="407.9" cy="346.3" r="1.60"/>
<circle class="o3" cx="412.5" cy="346.3" r="1.60"/>
<circle class="o3" cx="435.6" cy="346.3" r="1.60"/>
<circle class="o3" cx="431.0" cy="346.3" r="1.60"/>
<circle class="o3" cx="407.1" cy="343.7" r="1.60"/>
<circle class="o3" cx="434.8" cy="343.7" r="1.60"/>
<circle class="o3" cx="406.3" cy="341.2" r="1.60"/>
<circle class="o3" cx="438.7" cy="341.2" r="1.60"/>
<circle class="o3" cx="410.1" cy="338.6" r="1.61"/>
<circle class="o3" cx="405.5" cy="338.6" r="1.61"/>
<circle class="o3" cx="428.7" cy="338.6" r="1.61"/>
<circle class="o3" cx="419.4" cy="338.6" r="1.61"/>
<circle class="o3" cx="433.3" cy="338.6" r="1.61"/>
<circle class="o3" cx="414.8" cy="338.6" r="1.61"/>
<circle class="o3" cx="442.6" cy="338.6" r="1.61"/>
<circle class="o3" cx="424.0" cy="338.6" r="1.61"/>
<circle class="o3" cx="438.0" cy="338.6" r="1.61"/>
<circle class="o3" cx="420.2" cy="349.7" r="1.61"/>
<circle class="o3" cx="429.5" cy="349.7" r="1.61"/>
<circle class="o3" cx="424.8" cy="349.7" r="1.61"/>
<circle class="o3" cx="415.5" cy="349.7" r="1.61"/>
<circle class="o3" cx="424.1" cy="347.1" r="1.62"/>
<circle class="o3" cx="419.4" cy="347.1" r="1.62"/>
<circle class="o3" cx="414.7" cy="347.1" r="1.62"/>
<circle class="o3" cx="428.7" cy="347.1" r="1.62"/>
<circle class="o3" cx="433.4" cy="347.1" r="1.62"/>
<circle class="o3" cx="409.3" cy="344.6" r="1.62"/>
<circle class="o3" cx="432.6" cy="344.6" r="1.62"/>
<circle class="o3" cx="437.3" cy="344.6" r="1.62"/>
<circle class="o3" cx="408.5" cy="342.0" r="1.62"/>
<circle class="o3" cx="436.5" cy="342.0" r="1.62"/>
<circle class="o3" cx="412.4" cy="339.4" r="1.62"/>
<circle class="o3" cx="426.4" cy="339.4" r="1.62"/>
<circle class="o3" cx="407.7" cy="339.4" r="1.62"/>
<circle class="o3" cx="440.4" cy="339.4" r="1.62"/>
<circle class="o3" cx="421.7" cy="339.4" r="1.62"/>
<circle class="o3" cx="435.7" cy="339.4" r="1.62"/>
<circle class="o3" cx="431.1" cy="339.4" r="1.62"/>
<circle class="o3" cx="417.0" cy="339.4" r="1.62"/>
<circle class="o3" cx="422.5" cy="350.6" r="1.63"/>
<circle class="o3" cx="417.0" cy="348.0" r="1.63"/>
<circle class="o3" cx="421.7" cy="348.0" r="1.63"/>
<circle class="o3" cx="431.1" cy="348.0" r="1.63"/>
<circle class="o3" cx="426.4" cy="348.0" r="1.63"/>
<circle class="o3" cx="411.5" cy="345.4" r="1.63"/>
<circle class="o3" cx="416.2" cy="345.4" r="1.63"/>
<circle class="o3" cx="430.3" cy="345.4" r="1.63"/>
<circle class="o3" cx="420.9" cy="345.4" r="1.63"/>
<circle class="o3" cx="425.6" cy="345.4" r="1.63"/>
<circle class="o3" cx="410.7" cy="342.8" r="1.63"/>
<circle class="o3" cx="434.3" cy="342.8" r="1.63"/>
<circle class="o3" cx="409.9" cy="340.2" r="1.63"/>
<circle class="o3" cx="424.1" cy="340.2" r="1.63"/>
<circle class="o3" cx="414.6" cy="340.2" r="1.63"/>
<circle class="o3" cx="433.5" cy="340.2" r="1.63"/>
<circle class="o3" cx="438.2" cy="340.2" r="1.63"/>
<circle class="o3" cx="428.8" cy="340.2" r="1.63"/>
<circle class="o3" cx="419.4" cy="340.2" r="1.63"/>
<circle class="o3" cx="428.0" cy="346.3" r="1.64"/>
<circle class="o3" cx="413.8" cy="346.3" r="1.64"/>
<circle class="o3" cx="418.5" cy="346.3" r="1.64"/>
<circle class="o3" cx="423.3" cy="346.3" r="1.64"/>
<circle class="o3" cx="413.0" cy="343.7" r="1.64"/>
<circle class="o3" cx="422.5" cy="343.7" r="1.64"/>
<circle class="o3" cx="417.8" cy="343.7" r="1.64"/>
<circle class="o3" cx="432.0" cy="343.7" r="1.64"/>
<circle class="o3" cx="427.2" cy="343.7" r="1.64"/>
<circle class="o3" cx="412.2" cy="341.0" r="1.65"/>
<circle class="o3" cx="407.5" cy="341.0" r="1.65"/>
<circle class="o3" cx="436.0" cy="341.0" r="1.65"/>
<circle class="o3" cx="431.2" cy="341.0" r="1.65"/>
<circle class="o3" cx="417.0" cy="341.0" r="1.65"/>
<circle class="o3" cx="421.7" cy="341.0" r="1.65"/>
<circle class="o3" cx="426.5" cy="341.0" r="1.65"/>
<circle class="o3" cx="420.1" cy="344.5" r="1.66"/>
<circle class="o3" cx="415.3" cy="344.5" r="1.66"/>
<circle class="o3" cx="429.7" cy="344.5" r="1.66"/>
<circle class="o3" cx="424.9" cy="344.5" r="1.66"/>
<circle class="o3" cx="419.3" cy="341.9" r="1.66"/>
<circle class="o3" cx="414.5" cy="341.9" r="1.66"/>
<circle class="o3" cx="424.1" cy="341.9" r="1.66"/>
<circle class="o3" cx="433.7" cy="341.9" r="1.66"/>
<circle class="o3" cx="428.9" cy="341.9" r="1.66"/>
<circle class="o3" cx="422.5" cy="345.4" r="1.67"/>
<circle class="o3" cx="431.4" cy="342.7" r="1.67"/>
<circle class="o3" cx="421.7" cy="342.7" r="1.67"/>
<circle class="o3" cx="426.5" cy="342.7" r="1.67"/>
<circle class="o3" cx="416.9" cy="342.7" r="1.67"/>
<circle class="g3" cx="669.3" cy="360.5" r="1.25"/>
<circle class="g3" cx="644.7" cy="360.5" r="1.25"/>
<circle class="g3" cx="669.5" cy="357.6" r="1.27"/>
<circle class="g3" cx="644.5" cy="357.6" r="1.27"/>
<circle class="g3" cx="669.5" cy="350.1" r="1.27"/>
<circle class="g3" cx="644.5" cy="350.1" r="1.27"/>
<circle class="g3" cx="668.4" cy="365.8" r="1.28"/>
<circle class="g3" cx="645.6" cy="365.8" r="1.28"/>
<circle class="g3" cx="669.6" cy="362.0" r="1.28"/>
<circle class="g3" cx="644.4" cy="362.0" r="1.28"/>
<circle class="g3" cx="644.4" cy="354.5" r="1.28"/>
<circle class="g3" cx="669.6" cy="354.5" r="1.28"/>
<circle class="g3" cx="646.7" cy="364.3" r="1.29"/>
<circle class="g3" cx="667.3" cy="364.3" r="1.29"/>
<circle class="g3" cx="645.5" cy="350.8" r="1.29"/>
<circle class="g3" cx="668.5" cy="350.8" r="1.29"/>
<circle class="g3" cx="644.3" cy="347.0" r="1.29"/>
<circle class="g3" cx="669.7" cy="347.0" r="1.29"/>
<circle class="g3" cx="667.4" cy="366.6" r="1.29"/>
<circle class="g3" cx="646.6" cy="366.6" r="1.29"/>
<circle class="g3" cx="668.5" cy="362.8" r="1.29"/>
<circle class="g3" cx="645.5" cy="362.8" r="1.29"/>
<circle class="g3" cx="669.7" cy="339.4" r="1.29"/>
<circle class="g3" cx="644.3" cy="339.4" r="1.29"/>
<circle class="g3" cx="669.7" cy="359.0" r="1.30"/>
<circle class="g3" cx="644.3" cy="359.0" r="1.30"/>
<circle class="g3" cx="645.4" cy="355.2" r="1.30"/>
<circle class="g3" cx="668.6" cy="355.2" r="1.30"/>
<circle class="g3" cx="666.3" cy="365.1" r="1.30"/>
<circle class="g3" cx="647.7" cy="365.1" r="1.30"/>
<circle class="g3" cx="669.8" cy="351.4" r="1.30"/>
<circle class="g3" cx="644.2" cy="351.4" r="1.30"/>
<circle class="g3" cx="658.2" cy="304.3" r="1.30"/>
<circle class="g3" cx="655.8" cy="304.3" r="1.30"/>
<circle class="g3" cx="660.5" cy="304.3" r="1.30"/>
<circle class="g3" cx="653.5" cy="304.3" r="1.30"/>
<circle class="g3" cx="646.5" cy="361.3" r="1.30"/>
<circle class="g3" cx="667.5" cy="361.3" r="1.30"/>
<circle class="g3" cx="668.6" cy="347.6" r="1.30"/>
<circle class="g3" cx="645.4" cy="347.6" r="1.30"/>
<circle class="g3" cx="666.3" cy="367.4" r="1.30"/>
<circle class="g3" cx="647.7" cy="367.4" r="1.30"/>
<circle class="g3" cx="669.8" cy="343.8" r="1.30"/>
<circle class="g3" cx="644.2" cy="343.8" r="1.30"/>
<circle class="g3" cx="646.5" cy="353.7" r="1.31"/>
<circle class="g3" cx="667.5" cy="353.7" r="1.31"/>
<circle class="g3" cx="667.5" cy="363.6" r="1.31"/>
<circle class="g3" cx="646.5" cy="363.6" r="1.31"/>
<circle class="g3" cx="645.3" cy="340.0" r="1.31"/>
<circle class="g3" cx="668.7" cy="340.0" r="1.31"/>
<circle class="g3" cx="668.7" cy="359.8" r="1.31"/>
<circle class="g3" cx="666.4" cy="359.8" r="1.31"/>
<circle class="g3" cx="647.6" cy="359.8" r="1.31"/>
<circle class="g3" cx="645.3" cy="359.8" r="1.31"/>
<circle class="g3" cx="669.9" cy="336.1" r="1.31"/>
<circle class="g3" cx="644.1" cy="336.1" r="1.31"/>
<circle class="g3" cx="646.5" cy="356.0" r="1.31"/>
<circle class="g3" cx="669.9" cy="356.0" r="1.31"/>
<circle class="g3" cx="667.5" cy="356.0" r="1.31"/>
<circle class="g3" cx="644.1" cy="356.0" r="1.31"/>
<circle class="g3" cx="665.2" cy="365.9" r="1.31"/>
<circle class="g3" cx="648.8" cy="365.9" r="1.31"/>
<circle class="g3" cx="645.3" cy="352.1" r="1.31"/>
<circle class="g3" cx="668.7" cy="352.1" r="1.31"/>
<circle class="g3" cx="644.1" cy="328.3" r="1.31"/>
<circle class="g3" cx="669.9" cy="328.3" r="1.31"/>
<circle class="g3" cx="659.3" cy="304.5" r="1.31"/>
<circle class="g3" cx="657.0" cy="304.5" r="1.31"/>
<circle class="g3" cx="654.7" cy="304.5" r="1.31"/>
<circle class="g3" cx="664.0" cy="304.5" r="1.31"/>
<circle class="g3" cx="652.3" cy="304.5" r="1.31"/>
<circle class="g3" cx="661.7" cy="304.5" r="1.31"/>
<circle class="g3" cx="650.0" cy="304.5" r="1.31"/>
<circle class="g3" cx="647.6" cy="362.1" r="1.31"/>
<circle class="g3" cx="666.4" cy="362.1" r="1.31"/>
<circle class="g3" cx="669.9" cy="348.3" r="1.32"/>
<circle class="g3" cx="667.6" cy="348.3" r="1.32"/>
<circle class="g3" cx="646.4" cy="348.3" r="1.32"/>
<circle class="g3" cx="644.1" cy="348.3" r="1.32"/>
<circle class="g3" cx="665.2" cy="358.3" r="1.32"/>
<circle class="g3" cx="662.9" cy="368.3" r="1.32"/>
<circle class="g3" cx="651.1" cy="368.3" r="1.32"/>
<circle class="g3" cx="665.2" cy="368.3" r="1.32"/>
<circle class="g3" cx="648.8" cy="368.3" r="1.32"/>
<circle class="g3" cx="668.8" cy="344.4" r="1.32"/>
<circle class="g3" cx="645.2" cy="344.4" r="1.32"/>
<circle class="g3" cx="666.4" cy="354.4" r="1.32"/>
<circle class="g3" cx="647.6" cy="354.4" r="1.32"/>
<circle class="g3" cx="645.2" cy="364.4" r="1.32"/>
<circle class="g3" cx="647.6" cy="364.4" r="1.32"/>
<circle class="g3" cx="666.4" cy="364.4" r="1.32"/>
<circle class="g3" cx="668.8" cy="364.4" r="1.32"/>
<circle class="g3" cx="649.9" cy="364.4" r="1.32"/>
<circle class="g3" cx="664.1" cy="364.4" r="1.32"/>
<circle class="g3" cx="670.0" cy="340.5" r="1.32"/>
<circle class="g3" cx="644.0" cy="340.5" r="1.32"/>
<circle class="g3" cx="667.6" cy="350.5" r="1.32"/>
<circle class="g3" cx="646.4" cy="350.5" r="1.32"/>
<circle class="g3" cx="665.3" cy="360.6" r="1.32"/>
<circle class="g3" cx="648.7" cy="360.6" r="1.32"/>
<circle class="g3" cx="646.4" cy="360.6" r="1.32"/>
<circle class="g3" cx="667.6" cy="360.6" r="1.32"/>
<circle class="g3" cx="668.8" cy="336.6" r="1.32"/>
<circle class="g3" cx="645.2" cy="336.6" r="1.32"/>
<circle class="g3" cx="668.8" cy="356.7" r="1.33"/>
<circle class="g3" cx="666.5" cy="356.7" r="1.33"/>
<circle class="g3" cx="647.5" cy="356.7" r="1.33"/>
<circle class="g3" cx="645.2" cy="356.7" r="1.33"/>
<circle class="g3" cx="670.0" cy="332.7" r="1.33"/>
<circle class="g3" cx="644.0" cy="332.7" r="1.33"/>
<circle class="g3" cx="645.2" cy="308.7" r="1.33"/>
<circle class="g3" cx="668.8" cy="308.7" r="1.33"/>
<circle class="g3" cx="652.3" cy="366.8" r="1.33"/>
<circle class="g3" cx="664.1" cy="366.8" r="1.33"/>
<circle class="g3" cx="661.7" cy="366.8" r="1.33"/>
<circle class="g3" cx="649.9" cy="366.8" r="1.33"/>
<circle class="g3" cx="667.7" cy="342.8" r="1.33"/>
<circle class="g3" cx="646.3" cy="342.8" r="1.33"/>
<circle class="g3" cx="667.7" cy="352.8" r="1.33"/>
<circle class="g3" cx="646.3" cy="352.8" r="1.33"/>
<circle class="g3" cx="668.9" cy="328.8" r="1.33"/>
<circle class="g3" cx="645.1" cy="328.8" r="1.33"/>
<circle class="g3" cx="653.4" cy="304.7" r="1.33"/>
<circle class="g3" cx="655.8" cy="304.7" r="1.33"/>
<circle class="g3" cx="648.7" cy="304.7" r="1.33"/>
<circle class="g3" cx="660.6" cy="304.7" r="1.33"/>
<circle class="g3" cx="658.2" cy="304.7" r="1.33"/>
<circle class="g3" cx="665.3" cy="304.7" r="1.33"/>
<circle class="g3" cx="662.9" cy="304.7" r="1.33"/>
<circle class="g3" cx="651.1" cy="304.7" r="1.33"/>
<circle class="g3" cx="651.1" cy="362.9" r="1.33"/>
<circle class="g3" cx="648.7" cy="362.9" r="1.33"/>
<circle class="g3" cx="665.3" cy="362.9" r="1.33"/>
<circle class="g3" cx="662.9" cy="362.9" r="1.33"/>
<circle class="g3" cx="645.1" cy="348.9" r="1.33"/>
<circle class="g3" cx="666.5" cy="348.9" r="1.33"/>
<circle class="g3" cx="668.9" cy="348.9" r="1.33"/>
<circle class="g3" cx="647.5" cy="348.9" r="1.33"/>
<circle class="g3" cx="670.1" cy="324.8" r="1.33"/>
<circle class="g3" cx="643.9" cy="324.8" r="1.33"/>
<circle class="g3" cx="649.9" cy="359.0" r="1.33"/>
<circle class="g3" cx="664.1" cy="359.0" r="1.33"/>
<circle class="g3" cx="661.8" cy="369.1" r="1.33"/>
<circle class="g3" cx="664.1" cy="369.1" r="1.33"/>
<circle class="g3" cx="652.2" cy="369.1" r="1.33"/>
<circle class="g3" cx="649.9" cy="369.1" r="1.33"/>
<circle class="g3" cx="654.6" cy="369.1" r="1.33"/>
<circle class="g3" cx="657.0" cy="369.1" r="1.33"/>
<circle class="g3" cx="659.4" cy="369.1" r="1.33"/>
<circle class="g3" cx="667.7" cy="345.0" r="1.33"/>
<circle class="g3" cx="670.1" cy="345.0" r="1.33"/>
<circle class="g3" cx="643.9" cy="345.0" r="1.33"/>
<circle class="g3" cx="646.3" cy="345.0" r="1.33"/>
<circle class="g3" cx="645.1" cy="320.9" r="1.33"/>
<circle class="g3" cx="648.7" cy="355.1" r="1.33"/>
<circle class="g3" cx="665.3" cy="355.1" r="1.33"/>
<circle class="g3" cx="658.2" cy="365.2" r="1.33"/>
<circle class="g3" cx="655.8" cy="365.2" r="1.33"/>
<circle class="g3" cx="648.7" cy="365.2" r="1.33"/>
<circle class="g3" cx="660.6" cy="365.2" r="1.33"/>
<circle class="g3" cx="653.4" cy="365.2" r="1.33"/>
<circle class="g3" cx="665.3" cy="365.2" r="1.33"/>
<circle class="g3" cx="663.0" cy="365.2" r="1.33"/>
<circle class="g3" cx="651.0" cy="365.2" r="1.33"/>
<circle class="g3" cx="645.1" cy="341.1" r="1.33"/>
<circle class="g3" cx="668.9" cy="341.1" r="1.33"/>
<circle class="g3" cx="643.9" cy="316.9" r="1.34"/>
<circle class="g3" cx="670.1" cy="316.9" r="1.34"/>
<circle class="g3" cx="666.5" cy="351.2" r="1.34"/>
<circle class="g3" cx="647.5" cy="351.2" r="1.34"/>
<circle class="g3" cx="647.5" cy="361.4" r="1.34"/>
<circle class="g3" cx="666.5" cy="361.4" r="1.34"/>
<circle class="g3" cx="649.8" cy="361.4" r="1.34"/>
<circle class="g3" cx="661.8" cy="361.4" r="1.34"/>
<circle class="g3" cx="664.2" cy="361.4" r="1.34"/>
<circle class="g3" cx="652.2" cy="361.4" r="1.34"/>
<circle class="g3" cx="667.7" cy="337.2" r="1.34"/>
<circle class="g3" cx="670.1" cy="337.2" r="1.34"/>
<circle class="g3" cx="646.3" cy="337.2" r="1.34"/>
<circle class="g3" cx="643.9" cy="337.2" r="1.34"/>
<circle class="g3" cx="668.9" cy="312.9" r="1.34"/>
<circle class="g3" cx="645.1" cy="312.9" r="1.34"/>
<circle class="g3" cx="665.4" cy="347.3" r="1.34"/>
<circle class="g3" cx="648.6" cy="347.3" r="1.34"/>
<circle class="g3" cx="646.2" cy="357.4" r="1.34"/>
<circle class="g3" cx="667.8" cy="357.4" r="1.34"/>
<circle class="g3" cx="665.4" cy="357.4" r="1.34"/>
<circle class="g3" cx="648.6" cy="357.4" r="1.34"/>
<circle class="g3" cx="663.0" cy="357.4" r="1.34"/>
<circle class="g3" cx="651.0" cy="357.4" r="1.34"/>
<circle class="g3" cx="669.0" cy="333.2" r="1.34"/>
<circle class="g3" cx="645.0" cy="333.2" r="1.34"/>
<circle class="g3" cx="660.6" cy="367.6" r="1.34"/>
<circle class="g3" cx="658.2" cy="367.6" r="1.34"/>
<circle class="g3" cx="655.8" cy="367.6" r="1.34"/>
<circle class="g3" cx="653.4" cy="367.6" r="1.34"/>
<circle class="g3" cx="647.4" cy="343.4" r="1.34"/>
<circle class="g3" cx="666.6" cy="343.4" r="1.34"/>
<circle class="g3" cx="649.8" cy="353.5" r="1.34"/>
<circle class="g3" cx="645.0" cy="353.5" r="1.34"/>
<circle class="g3" cx="669.0" cy="353.5" r="1.34"/>
<circle class="g3" cx="664.2" cy="353.5" r="1.34"/>
<circle class="g3" cx="647.4" cy="353.5" r="1.34"/>
<circle class="g3" cx="666.6" cy="353.5" r="1.34"/>
<circle class="g3" cx="670.2" cy="329.2" r="1.34"/>
<circle class="g3" cx="643.8" cy="329.2" r="1.34"/>
<circle class="g3" cx="657.0" cy="304.9" r="1.34"/>
<circle class="g3" cx="666.6" cy="304.9" r="1.34"/>
<circle class="g3" cx="664.2" cy="304.9" r="1.34"/>
<circle class="g3" cx="647.4" cy="304.9" r="1.34"/>
<circle class="g3" cx="661.8" cy="304.9" r="1.34"/>
<circle class="g3" cx="649.8" cy="304.9" r="1.34"/>
<circle class="g3" cx="654.6" cy="304.9" r="1.34"/>
<circle class="g3" cx="659.4" cy="304.9" r="1.34"/>
<circle class="g3" cx="652.2" cy="304.9" r="1.34"/>
<circle class="g3" cx="659.4" cy="363.7" r="1.34"/>
<circle class="g3" cx="654.6" cy="363.7" r="1.34"/>
<circle class="g3" cx="657.0" cy="363.7" r="1.34"/>
<circle class="g3" cx="661.8" cy="363.7" r="1.34"/>
<circle class="g3" cx="652.2" cy="363.7" r="1.34"/>
<circle class="g3" cx="646.2" cy="339.4" r="1.34"/>
<circle class="g3" cx="667.8" cy="339.4" r="1.34"/>
<circle class="g3" cx="646.2" cy="349.6" r="1.34"/>
<circle class="g3" cx="667.8" cy="349.6" r="1.34"/>
<circle class="g3" cx="648.6" cy="349.6" r="1.34"/>
<circle class="g3" cx="665.4" cy="349.6" r="1.34"/>
<circle class="g3" cx="669.0" cy="325.3" r="1.34"/>
<circle class="g3" cx="645.0" cy="325.3" r="1.34"/>
<circle class="g3" cx="660.6" cy="359.8" r="1.35"/>
<circle class="g3" cx="653.4" cy="359.8" r="1.35"/>
<circle class="g3" cx="651.0" cy="359.8" r="1.35"/>
<circle class="g3" cx="663.0" cy="359.8" r="1.35"/>
<circle class="g3" cx="660.6" cy="370.0" r="1.35"/>
<circle class="g3" cx="653.4" cy="370.0" r="1.35"/>
<circle class="g3" cx="658.2" cy="370.0" r="1.35"/>
<circle class="g3" cx="655.8" cy="370.0" r="1.35"/>
<circle class="g3" cx="669.0" cy="345.6" r="1.35"/>
<circle class="g3" cx="647.4" cy="345.6" r="1.35"/>
<circle class="g3" cx="666.6" cy="345.6" r="1.35"/>
<circle class="g3" cx="645.0" cy="345.6" r="1.35"/>
<circle class="g3" cx="670.2" cy="321.3" r="1.35"/>
<circle class="g3" cx="643.8" cy="321.3" r="1.35"/>
<circle class="g3" cx="664.2" cy="355.9" r="1.35"/>
<circle class="g3" cx="649.8" cy="355.9" r="1.35"/>
<circle class="g3" cx="661.8" cy="355.9" r="1.35"/>
<circle class="g3" cx="652.2" cy="355.9" r="1.35"/>
<circle class="g3" cx="646.2" cy="331.5" r="1.35"/>
<circle class="g3" cx="667.8" cy="331.5" r="1.35"/>
<circle class="g3" cx="664.2" cy="366.1" r="1.35"/>
<circle class="g3" cx="652.2" cy="366.1" r="1.35"/>
<circle class="g3" cx="661.8" cy="366.1" r="1.35"/>
<circle class="g3" cx="654.6" cy="366.1" r="1.35"/>
<circle class="g3" cx="659.4" cy="366.1" r="1.35"/>
<circle class="g3" cx="649.8" cy="366.1" r="1.35"/>
<circle class="g3" cx="657.0" cy="366.1" r="1.35"/>
<circle class="g3" cx="646.2" cy="341.7" r="1.35"/>
<circle class="g3" cx="667.8" cy="341.7" r="1.35"/>
<circle class="g3" cx="645.0" cy="317.3" r="1.35"/>
<circle class="g3" cx="669.0" cy="317.3" r="1.35"/>
<circle class="g3" cx="665.4" cy="351.9" r="1.35"/>
<circle class="g3" cx="648.6" cy="351.9" r="1.35"/>
<circle class="g3" cx="651.0" cy="351.9" r="1.35"/>
<circle class="g3" cx="663.0" cy="351.9" r="1.35"/>
<circle class="g3" cx="665.4" cy="362.2" r="1.35"/>
<circle class="g3" cx="655.8" cy="362.2" r="1.35"/>
<circle class="g3" cx="653.4" cy="362.2" r="1.35"/>
<circle class="g3" cx="648.6" cy="362.2" r="1.35"/>
<circle class="g3" cx="663.0" cy="362.2" r="1.35"/>
<circle class="g3" cx="660.6" cy="362.2" r="1.35"/>
<circle class="g3" cx="658.2" cy="362.2" r="1.35"/>
<circle class="g3" cx="651.0" cy="362.2" r="1.35"/>
<circle class="g3" cx="647.3" cy="337.7" r="1.35"/>
<circle class="g3" cx="644.9" cy="337.7" r="1.35"/>
<circle class="g3" cx="666.7" cy="337.7" r="1.35"/>
<circle class="g3" cx="669.1" cy="337.7" r="1.35"/>
<circle class="g3" cx="670.3" cy="313.2" r="1.35"/>
<circle class="g3" cx="643.7" cy="313.2" r="1.35"/>
<circle class="g3" cx="664.2" cy="347.9" r="1.35"/>
<circle class="g3" cx="649.8" cy="347.9" r="1.35"/>
<circle class="g3" cx="667.9" cy="323.5" r="1.35"/>
<circle class="g3" cx="646.1" cy="323.5" r="1.35"/>
<circle class="g3" cx="649.7" cy="358.2" r="1.35"/>
<circle class="g3" cx="654.6" cy="358.2" r="1.35"/>
<circle class="g3" cx="664.3" cy="358.2" r="1.35"/>
<circle class="g3" cx="659.4" cy="358.2" r="1.35"/>
<circle class="g3" cx="647.3" cy="358.2" r="1.35"/>
<circle class="g3" cx="657.0" cy="358.2" r="1.35"/>
<circle class="g3" cx="661.8" cy="358.2" r="1.35"/>
<circle class="g3" cx="666.7" cy="358.2" r="1.35"/>
<circle class="g3" cx="652.2" cy="358.2" r="1.35"/>
<circle class="g3" cx="670.3" cy="333.7" r="1.35"/>
<circle class="g3" cx="646.1" cy="333.7" r="1.35"/>
<circle class="g3" cx="643.7" cy="333.7" r="1.35"/>
<circle class="g3" cx="667.9" cy="333.7" r="1.35"/>
<circle class="g3" cx="644.9" cy="309.2" r="1.35"/>
<circle class="g3" cx="669.1" cy="309.2" r="1.35"/>
<circle class="g3" cx="648.5" cy="344.0" r="1.36"/>
<circle class="g3" cx="665.5" cy="344.0" r="1.36"/>
<circle class="g3" cx="660.6" cy="354.2" r="1.36"/>
<circle class="g3" cx="655.8" cy="354.2" r="1.36"/>
<circle class="g3" cx="648.5" cy="354.2" r="1.36"/>
<circle class="g3" cx="665.5" cy="354.2" r="1.36"/>
<circle class="g3" cx="653.4" cy="354.2" r="1.36"/>
<circle class="g3" cx="658.2" cy="354.2" r="1.36"/>
<circle class="g3" cx="650.9" cy="354.2" r="1.36"/>
<circle class="g3" cx="663.1" cy="354.2" r="1.36"/>
<circle class="g3" cx="644.9" cy="329.7" r="1.36"/>
<circle class="g3" cx="669.1" cy="329.7" r="1.36"/>
<circle class="g3" cx="650.9" cy="305.1" r="1.36"/>
<circle class="g3" cx="663.1" cy="305.1" r="1.36"/>
<circle class="g3" cx="648.5" cy="305.1" r="1.36"/>
<circle class="g3" cx="646.1" cy="305.1" r="1.36"/>
<circle class="g3" cx="667.9" cy="305.1" r="1.36"/>
<circle class="g3" cx="653.4" cy="305.1" r="1.36"/>
<circle class="g3" cx="665.5" cy="305.1" r="1.36"/>
<circle class="g3" cx="658.2" cy="305.1" r="1.36"/>
<circle class="g3" cx="660.6" cy="305.1" r="1.36"/>
<circle class="g3" cx="655.8" cy="305.1" r="1.36"/>
<circle class="g3" cx="647.3" cy="340.0" r="1.36"/>
<circle class="g3" cx="666.7" cy="340.0" r="1.36"/>
<circle class="g3" cx="666.7" cy="350.3" r="1.36"/>
<circle class="g3" cx="647.3" cy="350.3" r="1.36"/>
<circle class="g3" cx="661.9" cy="350.3" r="1.36"/>
<circle class="g3" cx="649.7" cy="350.3" r="1.36"/>
<circle class="g3" cx="652.1" cy="350.3" r="1.36"/>
<circle class="g3" cx="664.3" cy="350.3" r="1.36"/>
<circle class="g3" cx="667.9" cy="325.7" r="1.36"/>
<circle class="g3" cx="670.3" cy="325.7" r="1.36"/>
<circle class="g3" cx="643.7" cy="325.7" r="1.36"/>
<circle class="g3" cx="646.1" cy="325.7" r="1.36"/>
<circle class="g3" cx="654.6" cy="360.6" r="1.36"/>
<circle class="g3" cx="657.0" cy="360.6" r="1.36"/>
<circle class="g3" cx="659.4" cy="360.6" r="1.36"/>
<circle class="g3" cx="648.5" cy="336.0" r="1.36"/>
<circle class="g3" cx="665.5" cy="336.0" r="1.36"/>
<circle class="g3" cx="665.5" cy="346.3" r="1.36"/>
<circle class="g3" cx="648.5" cy="346.3" r="1.36"/>
<circle class="g3" cx="650.9" cy="346.3" r="1.36"/>
<circle class="g3" cx="663.1" cy="346.3" r="1.36"/>
<circle class="g3" cx="667.9" cy="346.3" r="1.36"/>
<circle class="g3" cx="646.1" cy="346.3" r="1.36"/>
<circle class="g3" cx="644.8" cy="321.6" r="1.36"/>
<circle class="g3" cx="669.2" cy="321.6" r="1.36"/>
<circle class="g3" cx="655.8" cy="356.6" r="1.36"/>
<circle class="g3" cx="653.4" cy="356.6" r="1.36"/>
<circle class="g3" cx="660.6" cy="356.6" r="1.36"/>
<circle class="g3" cx="658.2" cy="356.6" r="1.36"/>
<circle class="g3" cx="647.3" cy="332.0" r="1.36"/>
<circle class="g3" cx="666.7" cy="332.0" r="1.36"/>
<circle class="g3" cx="658.2" cy="367.0" r="1.36"/>
<circle class="g3" cx="655.8" cy="367.0" r="1.36"/>
<circle class="g3" cx="660.7" cy="367.0" r="1.36"/>
<circle class="g3" cx="653.3" cy="367.0" r="1.36"/>
<circle class="g3" cx="649.7" cy="342.3" r="1.36"/>
<circle class="g3" cx="666.7" cy="342.3" r="1.36"/>
<circle class="g3" cx="647.3" cy="342.3" r="1.36"/>
<circle class="g3" cx="669.2" cy="342.3" r="1.36"/>
<circle class="g3" cx="664.3" cy="342.3" r="1.36"/>
<circle class="g3" cx="644.8" cy="342.3" r="1.36"/>
<circle class="g3" cx="670.4" cy="317.6" r="1.36"/>
<circle class="g3" cx="643.6" cy="317.6" r="1.36"/>
<circle class="g3" cx="659.4" cy="352.6" r="1.36"/>
<circle class="g3" cx="654.6" cy="352.6" r="1.36"/>
<circle class="g3" cx="657.0" cy="352.6" r="1.36"/>
<circle class="g3" cx="661.9" cy="352.6" r="1.36"/>
<circle class="g3" cx="652.1" cy="352.6" r="1.36"/>
<circle class="g3" cx="646.0" cy="327.9" r="1.37"/>
<circle class="g3" cx="668.0" cy="327.9" r="1.37"/>
<circle class="g3" cx="654.6" cy="363.0" r="1.37"/>
<circle class="g3" cx="659.4" cy="363.0" r="1.37"/>
<circle class="g3" cx="652.1" cy="363.0" r="1.37"/>
<circle class="g3" cx="661.9" cy="363.0" r="1.37"/>
<circle class="g3" cx="657.0" cy="363.0" r="1.37"/>
<circle class="g3" cx="665.5" cy="338.3" r="1.37"/>
<circle class="g3" cx="648.5" cy="338.3" r="1.37"/>
<circle class="g3" cx="646.0" cy="338.3" r="1.37"/>
<circle class="g3" cx="668.0" cy="338.3" r="1.37"/>
<circle class="g3" cx="644.8" cy="313.5" r="1.37"/>
<circle class="g3" cx="669.2" cy="313.5" r="1.37"/>
<circle class="g3" cx="650.9" cy="348.6" r="1.37"/>
<circle class="g3" cx="663.1" cy="348.6" r="1.37"/>
<circle class="g3" cx="653.3" cy="348.6" r="1.37"/>
<circle class="g3" cx="660.7" cy="348.6" r="1.37"/>
<circle class="g3" cx="666.8" cy="323.9" r="1.37"/>
<circle class="g3" cx="647.2" cy="323.9" r="1.37"/>
<circle class="g3" cx="663.1" cy="359.0" r="1.37"/>
<circle class="g3" cx="658.2" cy="359.0" r="1.37"/>
<circle class="g3" cx="653.3" cy="359.0" r="1.37"/>
<circle class="g3" cx="660.7" cy="359.0" r="1.37"/>
<circle class="g3" cx="655.8" cy="359.0" r="1.37"/>
<circle class="g3" cx="650.9" cy="359.0" r="1.37"/>
<circle class="g3" cx="644.8" cy="334.2" r="1.37"/>
<circle class="g3" cx="669.2" cy="334.2" r="1.37"/>
<circle class="g3" cx="666.8" cy="334.2" r="1.37"/>
<circle class="g3" cx="647.2" cy="334.2" r="1.37"/>
<circle class="g3" cx="643.6" cy="309.4" r="1.37"/>
<circle class="g3" cx="670.4" cy="309.4" r="1.37"/>
<circle class="g3" cx="652.1" cy="344.6" r="1.37"/>
<circle class="g3" cx="661.9" cy="344.6" r="1.37"/>
<circle class="g3" cx="649.7" cy="344.6" r="1.37"/>
<circle class="g3" cx="664.3" cy="344.6" r="1.37"/>
<circle class="g3" cx="646.0" cy="319.8" r="1.37"/>
<circle class="g3" cx="668.0" cy="319.8" r="1.37"/>
<circle class="g3" cx="664.3" cy="355.0" r="1.37"/>
<circle class="g3" cx="654.6" cy="355.0" r="1.37"/>
<circle class="g3" cx="659.4" cy="355.0" r="1.37"/>
<circle class="g3" cx="652.1" cy="355.0" r="1.37"/>
<circle class="g3" cx="649.7" cy="355.0" r="1.37"/>
<circle class="g3" cx="657.0" cy="355.0" r="1.37"/>
<circle class="g3" cx="661.9" cy="355.0" r="1.37"/>
<circle class="g3" cx="646.0" cy="330.2" r="1.37"/>
<circle class="g3" cx="668.0" cy="330.2" r="1.37"/>
<circle class="g3" cx="649.7" cy="305.3" r="1.37"/>
<circle class="g3" cx="652.1" cy="305.3" r="1.37"/>
<circle class="g3" cx="664.3" cy="305.3" r="1.37"/>
<circle class="g3" cx="657.0" cy="305.3" r="1.37"/>
<circle class="g3" cx="661.9" cy="305.3" r="1.37"/>
<circle class="g3" cx="647.2" cy="305.3" r="1.37"/>
<circle class="g3" cx="644.8" cy="305.3" r="1.37"/>
<circle class="g3" cx="654.6" cy="305.3" r="1.37"/>
<circle class="g3" cx="669.2" cy="305.3" r="1.37"/>
<circle class="g3" cx="666.8" cy="305.3" r="1.37"/>
<circle class="g3" cx="659.4" cy="305.3" r="1.37"/>
<circle class="g3" cx="650.9" cy="340.6" r="1.37"/>
<circle class="g3" cx="648.4" cy="340.6" r="1.37"/>
<circle class="g3" cx="663.1" cy="340.6" r="1.37"/>
<circle class="g3" cx="665.6" cy="340.6" r="1.37"/>
<circle class="g3" cx="660.7" cy="351.0" r="1.37"/>
<circle class="g3" cx="663.1" cy="351.0" r="1.37"/>
<circle class="g3" cx="665.6" cy="351.0" r="1.37"/>
<circle class="g3" cx="650.9" cy="351.0" r="1.37"/>
<circle class="g3" cx="658.2" cy="351.0" r="1.37"/>
<circle class="g3" cx="648.4" cy="351.0" r="1.37"/>
<circle class="g3" cx="655.8" cy="351.0" r="1.37"/>
<circle class="g3" cx="653.3" cy="351.0" r="1.37"/>
<circle class="g3" cx="647.2" cy="326.1" r="1.37"/>
<circle class="g3" cx="669.3" cy="326.1" r="1.37"/>
<circle class="g3" cx="666.8" cy="326.1" r="1.37"/>
<circle class="g3" cx="644.7" cy="326.1" r="1.37"/>
<circle class="g3" cx="664.4" cy="336.5" r="1.37"/>
<circle class="g3" cx="649.6" cy="336.5" r="1.37"/>
<circle class="g3" cx="645.9" cy="311.6" r="1.38"/>
<circle class="g3" cx="668.1" cy="311.6" r="1.38"/>
<circle class="g3" cx="647.2" cy="346.9" r="1.38"/>
<circle class="g3" cx="659.5" cy="346.9" r="1.38"/>
<circle class="g3" cx="654.5" cy="346.9" r="1.38"/>
<circle class="g3" cx="661.9" cy="346.9" r="1.38"/>
<circle class="g3" cx="657.0" cy="346.9" r="1.38"/>
<circle class="g3" cx="664.4" cy="346.9" r="1.38"/>
<circle class="g3" cx="666.8" cy="346.9" r="1.38"/>
<circle class="g3" cx="652.1" cy="346.9" r="1.38"/>
<circle class="g3" cx="649.6" cy="346.9" r="1.38"/>
<circle class="g3" cx="670.5" cy="322.0" r="1.38"/>
<circle class="g3" cx="645.9" cy="322.0" r="1.38"/>
<circle class="g3" cx="668.1" cy="322.0" r="1.38"/>
<circle class="g3" cx="643.5" cy="322.0" r="1.38"/>
<circle class="g3" cx="665.6" cy="332.5" r="1.38"/>
<circle class="g3" cx="648.4" cy="332.5" r="1.38"/>
<circle class="g3" cx="653.3" cy="342.9" r="1.38"/>
<circle class="g3" cx="660.7" cy="342.9" r="1.38"/>
<circle class="g3" cx="650.8" cy="342.9" r="1.38"/>
<circle class="g3" cx="655.8" cy="342.9" r="1.38"/>
<circle class="g3" cx="658.2" cy="342.9" r="1.38"/>
<circle class="g3" cx="663.2" cy="342.9" r="1.38"/>
<circle class="g3" cx="648.4" cy="342.9" r="1.38"/>
<circle class="g3" cx="665.6" cy="342.9" r="1.38"/>
<circle class="g3" cx="644.7" cy="317.9" r="1.38"/>
<circle class="g3" cx="669.3" cy="317.9" r="1.38"/>
<circle class="g3" cx="647.1" cy="328.4" r="1.38"/>
<circle class="g3" cx="666.9" cy="328.4" r="1.38"/>
<circle class="g3" cx="652.1" cy="338.8" r="1.38"/>
<circle class="g3" cx="649.6" cy="338.8" r="1.38"/>
<circle class="g3" cx="666.9" cy="338.8" r="1.38"/>
<circle class="g3" cx="661.9" cy="338.8" r="1.38"/>
<circle class="g3" cx="664.4" cy="338.8" r="1.38"/>
<circle class="g3" cx="647.1" cy="338.8" r="1.38"/>
<circle class="g3" cx="668.1" cy="313.8" r="1.38"/>
<circle class="g3" cx="645.9" cy="313.8" r="1.38"/>
<circle class="g3" cx="643.4" cy="313.8" r="1.38"/>
<circle class="g3" cx="670.6" cy="313.8" r="1.38"/>
<circle class="g3" cx="654.5" cy="349.3" r="1.38"/>
<circle class="g3" cx="657.0" cy="349.3" r="1.38"/>
<circle class="g3" cx="659.5" cy="349.3" r="1.38"/>
<circle class="g3" cx="648.4" cy="324.3" r="1.38"/>
<circle class="g3" cx="665.6" cy="324.3" r="1.38"/>
<circle class="g3" cx="657.0" cy="359.8" r="1.38"/>
<circle class="g3" cx="663.2" cy="334.8" r="1.38"/>
<circle class="g3" cx="645.9" cy="334.8" r="1.38"/>
<circle class="g3" cx="668.1" cy="334.8" r="1.38"/>
<circle class="g3" cx="665.6" cy="334.8" r="1.38"/>
<circle class="g3" cx="648.4" cy="334.8" r="1.38"/>
<circle class="g3" cx="650.8" cy="334.8" r="1.38"/>
<circle class="g3" cx="644.6" cy="309.7" r="1.38"/>
<circle class="g3" cx="669.4" cy="309.7" r="1.38"/>
<circle class="g3" cx="658.2" cy="345.2" r="1.38"/>
<circle class="g3" cx="655.8" cy="345.2" r="1.38"/>
<circle class="g3" cx="653.3" cy="345.2" r="1.38"/>
<circle class="g3" cx="660.7" cy="345.2" r="1.38"/>
<circle class="g3" cx="666.9" cy="320.2" r="1.39"/>
<circle class="g3" cx="647.1" cy="320.2" r="1.39"/>
<circle class="g3" cx="653.3" cy="355.7" r="1.39"/>
<circle class="g3" cx="655.8" cy="355.7" r="1.39"/>
<circle class="g3" cx="660.7" cy="355.7" r="1.39"/>
<circle class="g3" cx="658.2" cy="355.7" r="1.39"/>
<circle class="g3" cx="649.6" cy="330.7" r="1.39"/>
<circle class="g3" cx="664.4" cy="330.7" r="1.39"/>
<circle class="g3" cx="666.9" cy="330.7" r="1.39"/>
<circle class="g3" cx="644.6" cy="330.7" r="1.39"/>
<circle class="g3" cx="647.1" cy="330.7" r="1.39"/>
<circle class="g3" cx="669.4" cy="330.7" r="1.39"/>
<circle class="g3" cx="655.8" cy="305.6" r="1.39"/>
<circle class="g3" cx="658.2" cy="305.6" r="1.39"/>
<circle class="g3" cx="665.7" cy="305.6" r="1.39"/>
<circle class="g3" cx="648.3" cy="305.6" r="1.39"/>
<circle class="g3" cx="653.3" cy="305.6" r="1.39"/>
<circle class="g3" cx="650.8" cy="305.6" r="1.39"/>
<circle class="g3" cx="663.2" cy="305.6" r="1.39"/>
<circle class="g3" cx="660.7" cy="305.6" r="1.39"/>
<circle class="g3" cx="668.1" cy="305.6" r="1.39"/>
<circle class="g3" cx="645.9" cy="305.6" r="1.39"/>
<circle class="g3" cx="657.0" cy="341.2" r="1.39"/>
<circle class="g3" cx="652.0" cy="341.2" r="1.39"/>
<circle class="g3" cx="654.5" cy="341.2" r="1.39"/>
<circle class="g3" cx="659.5" cy="341.2" r="1.39"/>
<circle class="g3" cx="662.0" cy="341.2" r="1.39"/>
<circle class="g3" cx="668.2" cy="316.0" r="1.39"/>
<circle class="g3" cx="645.8" cy="316.0" r="1.39"/>
<circle class="g3" cx="659.5" cy="351.7" r="1.39"/>
<circle class="g3" cx="654.5" cy="351.7" r="1.39"/>
<circle class="g3" cx="652.0" cy="351.7" r="1.39"/>
<circle class="g3" cx="657.0" cy="351.7" r="1.39"/>
<circle class="g3" cx="662.0" cy="351.7" r="1.39"/>
<circle class="g3" cx="665.7" cy="326.6" r="1.39"/>
<circle class="g3" cx="648.3" cy="326.6" r="1.39"/>
<circle class="g3" cx="668.2" cy="326.6" r="1.39"/>
<circle class="g3" cx="645.8" cy="326.6" r="1.39"/>
<circle class="g3" cx="650.8" cy="337.1" r="1.39"/>
<circle class="g3" cx="660.7" cy="337.1" r="1.39"/>
<circle class="g3" cx="653.3" cy="337.1" r="1.39"/>
<circle class="g3" cx="663.2" cy="337.1" r="1.39"/>
<circle class="g3" cx="666.9" cy="311.9" r="1.39"/>
<circle class="g3" cx="647.1" cy="311.9" r="1.39"/>
<circle class="g3" cx="658.2" cy="347.6" r="1.39"/>
<circle class="g3" cx="655.8" cy="347.6" r="1.39"/>
<circle class="g3" cx="650.8" cy="347.6" r="1.39"/>
<circle class="g3" cx="663.2" cy="347.6" r="1.39"/>
<circle class="g3" cx="660.7" cy="347.6" r="1.39"/>
<circle class="g3" cx="653.3" cy="347.6" r="1.39"/>
<circle class="g3" cx="647.1" cy="322.4" r="1.39"/>
<circle class="g3" cx="644.6" cy="322.4" r="1.39"/>
<circle class="g3" cx="666.9" cy="322.4" r="1.39"/>
<circle class="g3" cx="669.4" cy="322.4" r="1.39"/>
<circle class="g3" cx="649.5" cy="333.0" r="1.39"/>
<circle class="g3" cx="652.0" cy="333.0" r="1.39"/>
<circle class="g3" cx="664.5" cy="333.0" r="1.39"/>
<circle class="g3" cx="662.0" cy="333.0" r="1.39"/>
<circle class="g3" cx="645.8" cy="307.8" r="1.39"/>
<circle class="g3" cx="668.2" cy="307.8" r="1.39"/>
<circle class="g3" cx="664.5" cy="343.5" r="1.39"/>
<circle class="g3" cx="649.5" cy="343.5" r="1.39"/>
<circle class="g3" cx="652.0" cy="343.5" r="1.39"/>
<circle class="g3" cx="662.0" cy="343.5" r="1.39"/>
<circle class="g3" cx="657.0" cy="343.5" r="1.39"/>
<circle class="g3" cx="654.5" cy="343.5" r="1.39"/>
<circle class="g3" cx="659.5" cy="343.5" r="1.39"/>
<circle class="g3" cx="668.2" cy="318.3" r="1.39"/>
<circle class="g3" cx="645.8" cy="318.3" r="1.39"/>
<circle class="g3" cx="665.7" cy="328.8" r="1.40"/>
<circle class="g3" cx="648.3" cy="328.8" r="1.40"/>
<circle class="g3" cx="663.2" cy="328.8" r="1.40"/>
<circle class="g3" cx="650.8" cy="328.8" r="1.40"/>
<circle class="g3" cx="655.8" cy="339.4" r="1.40"/>
<circle class="g3" cx="663.2" cy="339.4" r="1.40"/>
<circle class="g3" cx="665.7" cy="339.4" r="1.40"/>
<circle class="g3" cx="653.3" cy="339.4" r="1.40"/>
<circle class="g3" cx="648.3" cy="339.4" r="1.40"/>
<circle class="g3" cx="658.2" cy="339.4" r="1.40"/>
<circle class="g3" cx="650.8" cy="339.4" r="1.40"/>
<circle class="g3" cx="660.7" cy="339.4" r="1.40"/>
<circle class="g3" cx="667.0" cy="314.1" r="1.40"/>
<circle class="g3" cx="647.0" cy="314.1" r="1.40"/>
<circle class="g3" cx="669.5" cy="314.1" r="1.40"/>
<circle class="g3" cx="644.5" cy="314.1" r="1.40"/>
<circle class="g3" cx="664.5" cy="324.7" r="1.40"/>
<circle class="g3" cx="649.5" cy="324.7" r="1.40"/>
<circle class="g3" cx="654.5" cy="335.3" r="1.40"/>
<circle class="g3" cx="649.5" cy="335.3" r="1.40"/>
<circle class="g3" cx="647.0" cy="335.3" r="1.40"/>
<circle class="g3" cx="659.5" cy="335.3" r="1.40"/>
<circle class="g3" cx="657.0" cy="335.3" r="1.40"/>
<circle class="g3" cx="667.0" cy="335.3" r="1.40"/>
<circle class="g3" cx="662.0" cy="335.3" r="1.40"/>
<circle class="g3" cx="664.5" cy="335.3" r="1.40"/>
<circle class="g3" cx="652.0" cy="335.3" r="1.40"/>
<circle class="g3" cx="668.2" cy="310.0" r="1.40"/>
<circle class="g3" cx="645.8" cy="310.0" r="1.40"/>
<circle class="g3" cx="670.7" cy="310.0" r="1.40"/>
<circle class="g3" cx="643.3" cy="310.0" r="1.40"/>
<circle class="g3" cx="648.2" cy="320.6" r="1.40"/>
<circle class="g3" cx="665.8" cy="320.6" r="1.40"/>
<circle class="g3" cx="658.3" cy="331.2" r="1.40"/>
<circle class="g3" cx="653.2" cy="331.2" r="1.40"/>
<circle class="g3" cx="660.8" cy="331.2" r="1.40"/>
<circle class="g3" cx="650.7" cy="331.2" r="1.40"/>
<circle class="g3" cx="648.2" cy="331.2" r="1.40"/>
<circle class="g3" cx="655.7" cy="331.2" r="1.40"/>
<circle class="g3" cx="663.3" cy="331.2" r="1.40"/>
<circle class="g3" cx="665.8" cy="331.2" r="1.40"/>
<circle class="g3" cx="644.5" cy="305.8" r="1.40"/>
<circle class="g3" cx="662.0" cy="305.8" r="1.40"/>
<circle class="g3" cx="667.0" cy="305.8" r="1.40"/>
<circle class="g3" cx="669.5" cy="305.8" r="1.40"/>
<circle class="g3" cx="664.5" cy="305.8" r="1.40"/>
<circle class="g3" cx="657.0" cy="305.8" r="1.40"/>
<circle class="g3" cx="647.0" cy="305.8" r="1.40"/>
<circle class="g3" cx="652.0" cy="305.8" r="1.40"/>
<circle class="g3" cx="654.5" cy="305.8" r="1.40"/>
<circle class="g3" cx="659.5" cy="305.8" r="1.40"/>
<circle class="g3" cx="649.5" cy="305.8" r="1.40"/>
<circle class="g3" cx="647.0" cy="316.4" r="1.40"/>
<circle class="g3" cx="667.0" cy="316.4" r="1.40"/>
<circle class="g3" cx="647.0" cy="327.0" r="1.40"/>
<circle class="g3" cx="649.5" cy="327.0" r="1.40"/>
<circle class="g3" cx="662.0" cy="327.0" r="1.40"/>
<circle class="g3" cx="667.0" cy="327.0" r="1.40"/>
<circle class="g3" cx="652.0" cy="327.0" r="1.40"/>
<circle class="g3" cx="664.5" cy="327.0" r="1.40"/>
<circle class="g3" cx="654.5" cy="337.6" r="1.41"/>
<circle class="g3" cx="659.5" cy="337.6" r="1.41"/>
<circle class="g3" cx="657.0" cy="337.6" r="1.41"/>
<circle class="g3" cx="648.2" cy="312.2" r="1.41"/>
<circle class="g3" cx="665.8" cy="312.2" r="1.41"/>
<circle class="g3" cx="657.0" cy="348.3" r="1.41"/>
<circle class="g3" cx="648.2" cy="322.8" r="1.41"/>
<circle class="g3" cx="665.8" cy="322.8" r="1.41"/>
<circle class="g3" cx="668.3" cy="322.8" r="1.41"/>
<circle class="g3" cx="650.7" cy="322.8" r="1.41"/>
<circle class="g3" cx="645.7" cy="322.8" r="1.41"/>
<circle class="g3" cx="663.3" cy="322.8" r="1.41"/>
<circle class="g3" cx="655.7" cy="333.5" r="1.41"/>
<circle class="g3" cx="660.8" cy="333.5" r="1.41"/>
<circle class="g3" cx="658.3" cy="333.5" r="1.41"/>
<circle class="g3" cx="653.2" cy="333.5" r="1.41"/>
<circle class="g3" cx="646.9" cy="308.0" r="1.41"/>
<circle class="g3" cx="667.1" cy="308.0" r="1.41"/>
<circle class="g3" cx="660.8" cy="344.2" r="1.41"/>
<circle class="g3" cx="653.2" cy="344.2" r="1.41"/>
<circle class="g3" cx="655.7" cy="344.2" r="1.41"/>
<circle class="g3" cx="658.3" cy="344.2" r="1.41"/>
<circle class="g3" cx="644.4" cy="318.6" r="1.41"/>
<circle class="g3" cx="664.6" cy="318.6" r="1.41"/>
<circle class="g3" cx="669.6" cy="318.6" r="1.41"/>
<circle class="g3" cx="667.1" cy="318.6" r="1.41"/>
<circle class="g3" cx="649.4" cy="318.6" r="1.41"/>
<circle class="g3" cx="646.9" cy="318.6" r="1.41"/>
<circle class="g3" cx="657.0" cy="329.3" r="1.41"/>
<circle class="g3" cx="662.0" cy="329.3" r="1.41"/>
<circle class="g3" cx="652.0" cy="329.3" r="1.41"/>
<circle class="g3" cx="654.5" cy="329.3" r="1.41"/>
<circle class="g3" cx="659.5" cy="329.3" r="1.41"/>
<circle class="g3" cx="654.5" cy="340.0" r="1.41"/>
<circle class="g3" cx="659.5" cy="340.0" r="1.41"/>
<circle class="g3" cx="662.0" cy="340.0" r="1.41"/>
<circle class="g3" cx="657.0" cy="340.0" r="1.41"/>
<circle class="g3" cx="652.0" cy="340.0" r="1.41"/>
<circle class="g3" cx="645.7" cy="314.4" r="1.41"/>
<circle class="g3" cx="648.2" cy="314.4" r="1.41"/>
<circle class="g3" cx="665.8" cy="314.4" r="1.41"/>
<circle class="g3" cx="668.3" cy="314.4" r="1.41"/>
<circle class="g3" cx="663.3" cy="325.1" r="1.41"/>
<circle class="g3" cx="653.2" cy="325.1" r="1.41"/>
<circle class="g3" cx="660.8" cy="325.1" r="1.41"/>
<circle class="g3" cx="650.7" cy="325.1" r="1.41"/>
<circle class="g3" cx="655.7" cy="335.8" r="1.41"/>
<circle class="g3" cx="663.3" cy="335.8" r="1.41"/>
<circle class="g3" cx="660.8" cy="335.8" r="1.41"/>
<circle class="g3" cx="658.3" cy="335.8" r="1.41"/>
<circle class="g3" cx="653.2" cy="335.8" r="1.41"/>
<circle class="g3" cx="650.7" cy="335.8" r="1.41"/>
<circle class="g3" cx="646.9" cy="310.2" r="1.42"/>
<circle class="g3" cx="669.6" cy="310.2" r="1.42"/>
<circle class="g3" cx="644.4" cy="310.2" r="1.42"/>
<circle class="g3" cx="667.1" cy="310.2" r="1.42"/>
<circle class="g3" cx="649.4" cy="320.9" r="1.42"/>
<circle class="g3" cx="662.1" cy="320.9" r="1.42"/>
<circle class="g3" cx="651.9" cy="320.9" r="1.42"/>
<circle class="g3" cx="664.6" cy="320.9" r="1.42"/>
<circle class="g3" cx="659.5" cy="331.7" r="1.42"/>
<circle class="g3" cx="662.1" cy="331.7" r="1.42"/>
<circle class="g3" cx="654.5" cy="331.7" r="1.42"/>
<circle class="g3" cx="649.4" cy="331.7" r="1.42"/>
<circle class="g3" cx="664.6" cy="331.7" r="1.42"/>
<circle class="g3" cx="651.9" cy="331.7" r="1.42"/>
<circle class="g3" cx="657.0" cy="331.7" r="1.42"/>
<circle class="g3" cx="668.4" cy="306.0" r="1.42"/>
<circle class="g3" cx="665.9" cy="306.0" r="1.42"/>
<circle class="g3" cx="658.3" cy="306.0" r="1.42"/>
<circle class="g3" cx="645.6" cy="306.0" r="1.42"/>
<circle class="g3" cx="650.7" cy="306.0" r="1.42"/>
<circle class="g3" cx="653.2" cy="306.0" r="1.42"/>
<circle class="g3" cx="655.7" cy="306.0" r="1.42"/>
<circle class="g3" cx="660.8" cy="306.0" r="1.42"/>
<circle class="g3" cx="648.1" cy="306.0" r="1.42"/>
<circle class="g3" cx="663.3" cy="306.0" r="1.42"/>
<circle class="g3" cx="665.9" cy="316.7" r="1.42"/>
<circle class="g3" cx="648.1" cy="316.7" r="1.42"/>
<circle class="g3" cx="663.3" cy="316.7" r="1.42"/>
<circle class="g3" cx="650.7" cy="316.7" r="1.42"/>
<circle class="g3" cx="650.7" cy="327.5" r="1.42"/>
<circle class="g3" cx="653.2" cy="327.5" r="1.42"/>
<circle class="g3" cx="665.9" cy="327.5" r="1.42"/>
<circle class="g3" cx="655.7" cy="327.5" r="1.42"/>
<circle class="g3" cx="663.3" cy="327.5" r="1.42"/>
<circle class="g3" cx="658.3" cy="327.5" r="1.42"/>
<circle class="g3" cx="660.8" cy="327.5" r="1.42"/>
<circle class="g3" cx="648.1" cy="327.5" r="1.42"/>
<circle class="g3" cx="649.4" cy="312.5" r="1.42"/>
<circle class="g3" cx="664.6" cy="312.5" r="1.42"/>
<circle class="g3" cx="659.5" cy="323.2" r="1.42"/>
<circle class="g3" cx="662.1" cy="323.2" r="1.42"/>
<circle class="g3" cx="651.9" cy="323.2" r="1.42"/>
<circle class="g3" cx="654.5" cy="323.2" r="1.42"/>
<circle class="g3" cx="646.8" cy="323.2" r="1.42"/>
<circle class="g3" cx="649.4" cy="323.2" r="1.42"/>
<circle class="g3" cx="667.2" cy="323.2" r="1.42"/>
<circle class="g3" cx="657.0" cy="323.2" r="1.42"/>
<circle class="g3" cx="664.6" cy="323.2" r="1.42"/>
<circle class="g3" cx="665.9" cy="308.2" r="1.42"/>
<circle class="g3" cx="648.1" cy="308.2" r="1.42"/>
<circle class="g3" cx="653.2" cy="319.0" r="1.43"/>
<circle class="g3" cx="665.9" cy="319.0" r="1.43"/>
<circle class="g3" cx="658.3" cy="319.0" r="1.43"/>
<circle class="g3" cx="648.1" cy="319.0" r="1.43"/>
<circle class="g3" cx="660.8" cy="319.0" r="1.43"/>
<circle class="g3" cx="650.6" cy="319.0" r="1.43"/>
<circle class="g3" cx="655.7" cy="319.0" r="1.43"/>
<circle class="g3" cx="663.4" cy="319.0" r="1.43"/>
<circle class="g3" cx="667.2" cy="314.8" r="1.43"/>
<circle class="g3" cx="662.1" cy="314.8" r="1.43"/>
<circle class="g3" cx="651.9" cy="314.8" r="1.43"/>
<circle class="g3" cx="649.3" cy="314.8" r="1.43"/>
<circle class="g3" cx="664.7" cy="314.8" r="1.43"/>
<circle class="g3" cx="646.8" cy="314.8" r="1.43"/>
<circle class="g3" cx="654.4" cy="325.6" r="1.43"/>
<circle class="g3" cx="657.0" cy="325.6" r="1.43"/>
<circle class="g3" cx="659.6" cy="325.6" r="1.43"/>
<circle class="g3" cx="657.0" cy="336.4" r="1.43"/>
<circle class="g3" cx="648.1" cy="310.5" r="1.43"/>
<circle class="g3" cx="665.9" cy="310.5" r="1.43"/>
<circle class="g3" cx="663.4" cy="310.5" r="1.43"/>
<circle class="g3" cx="650.6" cy="310.5" r="1.43"/>
<circle class="g3" cx="645.5" cy="310.5" r="1.43"/>
<circle class="g3" cx="668.5" cy="310.5" r="1.43"/>
<circle class="g3" cx="653.2" cy="321.3" r="1.43"/>
<circle class="g3" cx="655.7" cy="321.3" r="1.43"/>
<circle class="g3" cx="658.3" cy="321.3" r="1.43"/>
<circle class="g3" cx="660.8" cy="321.3" r="1.43"/>
<circle class="g3" cx="653.2" cy="332.2" r="1.43"/>
<circle class="g3" cx="658.3" cy="332.2" r="1.43"/>
<circle class="g3" cx="660.8" cy="332.2" r="1.43"/>
<circle class="g3" cx="655.7" cy="332.2" r="1.43"/>
<circle class="g3" cx="646.8" cy="306.2" r="1.43"/>
<circle class="g3" cx="662.1" cy="306.2" r="1.43"/>
<circle class="g3" cx="651.9" cy="306.2" r="1.43"/>
<circle class="g3" cx="667.2" cy="306.2" r="1.43"/>
<circle class="g3" cx="657.0" cy="306.2" r="1.43"/>
<circle class="g3" cx="659.6" cy="306.2" r="1.43"/>
<circle class="g3" cx="649.3" cy="306.2" r="1.43"/>
<circle class="g3" cx="664.7" cy="306.2" r="1.43"/>
<circle class="g3" cx="654.4" cy="306.2" r="1.43"/>
<circle class="g3" cx="662.1" cy="317.1" r="1.43"/>
<circle class="g3" cx="657.0" cy="317.1" r="1.43"/>
<circle class="g3" cx="651.9" cy="317.1" r="1.43"/>
<circle class="g3" cx="654.4" cy="317.1" r="1.43"/>
<circle class="g3" cx="659.6" cy="317.1" r="1.43"/>
<circle class="g3" cx="659.6" cy="327.9" r="1.44"/>
<circle class="g3" cx="657.0" cy="327.9" r="1.44"/>
<circle class="g3" cx="662.1" cy="327.9" r="1.44"/>
<circle class="g3" cx="651.9" cy="327.9" r="1.44"/>
<circle class="g3" cx="654.4" cy="327.9" r="1.44"/>
<circle class="g3" cx="653.1" cy="312.8" r="1.44"/>
<circle class="g3" cx="650.6" cy="312.8" r="1.44"/>
<circle class="g3" cx="660.9" cy="312.8" r="1.44"/>
<circle class="g3" cx="663.4" cy="312.8" r="1.44"/>
<circle class="g3" cx="655.7" cy="323.7" r="1.44"/>
<circle class="g3" cx="653.1" cy="323.7" r="1.44"/>
<circle class="g3" cx="660.9" cy="323.7" r="1.44"/>
<circle class="g3" cx="663.4" cy="323.7" r="1.44"/>
<circle class="g3" cx="650.6" cy="323.7" r="1.44"/>
<circle class="g3" cx="658.3" cy="323.7" r="1.44"/>
<circle class="g3" cx="651.9" cy="308.5" r="1.44"/>
<circle class="g3" cx="649.3" cy="308.5" r="1.44"/>
<circle class="g3" cx="662.1" cy="308.5" r="1.44"/>
<circle class="g3" cx="664.7" cy="308.5" r="1.44"/>
<circle class="g3" cx="654.4" cy="319.4" r="1.44"/>
<circle class="g3" cx="664.7" cy="319.4" r="1.44"/>
<circle class="g3" cx="651.9" cy="319.4" r="1.44"/>
<circle class="g3" cx="662.1" cy="319.4" r="1.44"/>
<circle class="g3" cx="649.3" cy="319.4" r="1.44"/>
<circle class="g3" cx="659.6" cy="319.4" r="1.44"/>
<circle class="g3" cx="657.0" cy="319.4" r="1.44"/>
<circle class="g3" cx="660.9" cy="315.1" r="1.44"/>
<circle class="g3" cx="653.1" cy="315.1" r="1.44"/>
<circle class="g3" cx="648.0" cy="315.1" r="1.44"/>
<circle class="g3" cx="666.0" cy="315.1" r="1.44"/>
<circle class="g3" cx="663.4" cy="315.1" r="1.44"/>
<circle class="g3" cx="658.3" cy="315.1" r="1.44"/>
<circle class="g3" cx="650.6" cy="315.1" r="1.44"/>
<circle class="g3" cx="655.7" cy="315.1" r="1.44"/>
<circle class="g3" cx="657.0" cy="310.8" r="1.45"/>
<circle class="g3" cx="646.7" cy="310.8" r="1.45"/>
<circle class="g3" cx="667.3" cy="310.8" r="1.45"/>
<circle class="g3" cx="662.2" cy="310.8" r="1.45"/>
<circle class="g3" cx="651.8" cy="310.8" r="1.45"/>
<circle class="g3" cx="654.4" cy="310.8" r="1.45"/>
<circle class="g3" cx="664.8" cy="310.8" r="1.45"/>
<circle class="g3" cx="649.2" cy="310.8" r="1.45"/>
<circle class="g3" cx="659.6" cy="310.8" r="1.45"/>
<circle class="g3" cx="653.1" cy="306.5" r="1.45"/>
<circle class="g3" cx="647.9" cy="306.5" r="1.45"/>
<circle class="g3" cx="666.1" cy="306.5" r="1.45"/>
<circle class="g3" cx="655.7" cy="306.5" r="1.45"/>
<circle class="g3" cx="663.5" cy="306.5" r="1.45"/>
<circle class="g3" cx="660.9" cy="306.5" r="1.45"/>
<circle class="g3" cx="650.5" cy="306.5" r="1.45"/>
<circle class="g3" cx="658.3" cy="306.5" r="1.45"/>
<circle class="g3" cx="654.4" cy="313.1" r="1.45"/>
<circle class="g3" cx="659.6" cy="313.1" r="1.45"/>
<circle class="g3" cx="657.0" cy="313.1" r="1.45"/>
<circle class="g3" cx="657.0" cy="324.1" r="1.46"/>
<circle class="g3" cx="658.3" cy="308.8" r="1.46"/>
<circle class="g3" cx="653.1" cy="308.8" r="1.46"/>
<circle class="g3" cx="660.9" cy="308.8" r="1.46"/>
<circle class="g3" cx="655.7" cy="308.8" r="1.46"/>
<circle class="g3" cx="658.3" cy="319.8" r="1.46"/>
<circle class="g3" cx="660.9" cy="319.8" r="1.46"/>
<circle class="g3" cx="653.1" cy="319.8" r="1.46"/>
<circle class="g3" cx="655.7" cy="319.8" r="1.46"/>
<circle class="g3" cx="659.6" cy="315.4" r="1.46"/>
<circle class="g3" cx="657.0" cy="315.4" r="1.46"/>
<circle class="g3" cx="662.2" cy="315.4" r="1.46"/>
<circle class="g3" cx="654.4" cy="315.4" r="1.46"/>
<circle class="g3" cx="651.8" cy="315.4" r="1.46"/>
<circle class="g3" cx="663.5" cy="311.1" r="1.46"/>
<circle class="g3" cx="660.9" cy="311.1" r="1.46"/>
<circle class="g3" cx="653.1" cy="311.1" r="1.46"/>
<circle class="g3" cx="655.7" cy="311.1" r="1.46"/>
<circle class="g3" cx="658.3" cy="311.1" r="1.46"/>
<circle class="g3" cx="650.5" cy="311.1" r="1.46"/>
<circle class="g3" cx="659.6" cy="306.7" r="1.47"/>
<circle class="g3" cx="654.4" cy="306.7" r="1.47"/>
<circle class="g3" cx="662.2" cy="306.7" r="1.47"/>
<circle class="g3" cx="651.8" cy="306.7" r="1.47"/>
<circle class="g3" cx="657.0" cy="306.7" r="1.47"/>
<circle class="g3" cx="657.0" cy="311.4" r="1.48"/>
</svg>
</body></html>
